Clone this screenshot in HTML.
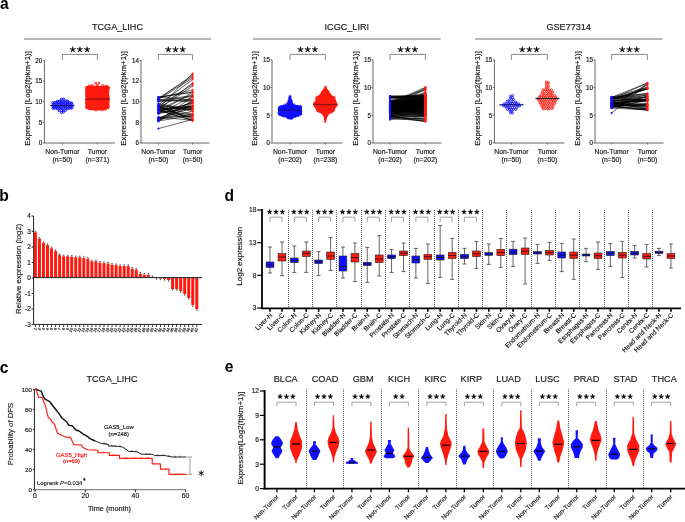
<!DOCTYPE html>
<html><head><meta charset="utf-8"><style>
html,body{margin:0;padding:0;background:#fff;}
svg{display:block;will-change:transform;}
text{font-family:"Liberation Sans", sans-serif;}
</style></head><body>
<svg width="685" height="522" viewBox="0 0 685 522">
<rect width="685" height="522" fill="#fff"/>
<text x="0.00" y="9.20" font-size="15.6" text-anchor="start" fill="#000" font-weight="bold" >a</text>
<text x="-0.80" y="200.80" font-size="15.6" text-anchor="start" fill="#000" font-weight="bold" >b</text>
<text x="-0.30" y="372.50" font-size="15.6" text-anchor="start" fill="#000" font-weight="bold" >c</text>
<text x="224.50" y="200.80" font-size="15.6" text-anchor="start" fill="#000" font-weight="bold" >d</text>
<text x="224.80" y="372.10" font-size="15.6" text-anchor="start" fill="#000" font-weight="bold" >e</text>
<text x="117.50" y="29.80" font-size="9.1" text-anchor="middle" fill="#1c1c1c" font-weight="normal" stroke="#1c1c1c" stroke-width="0.18" >TCGA_LIHC</text>
<line x1="24.00" y1="39.00" x2="211.00" y2="39.00" stroke="#a0a0a0" stroke-width="1.6" />
<text x="346.80" y="29.80" font-size="9.1" text-anchor="middle" fill="#1c1c1c" font-weight="normal" stroke="#1c1c1c" stroke-width="0.18" >ICGC_LIRI</text>
<line x1="253.00" y1="39.00" x2="440.60" y2="39.00" stroke="#a0a0a0" stroke-width="1.6" />
<text x="568.70" y="29.80" font-size="9.1" text-anchor="middle" fill="#1c1c1c" font-weight="normal" stroke="#1c1c1c" stroke-width="0.18" >GSE77314</text>
<line x1="475.00" y1="39.00" x2="662.40" y2="39.00" stroke="#a0a0a0" stroke-width="1.6" />
<line x1="44.40" y1="143.00" x2="44.40" y2="60.40" stroke="#666" stroke-width="1" />
<line x1="42.90" y1="143.00" x2="44.40" y2="143.00" stroke="#666" stroke-width="1" />
<text x="42.30" y="145.40" font-size="6.3" text-anchor="end" fill="#1c1c1c" font-weight="normal" stroke="#1c1c1c" stroke-width="0.18" >0</text>
<line x1="42.90" y1="122.35" x2="44.40" y2="122.35" stroke="#666" stroke-width="1" />
<text x="42.30" y="124.75" font-size="6.3" text-anchor="end" fill="#1c1c1c" font-weight="normal" stroke="#1c1c1c" stroke-width="0.18" >5</text>
<line x1="42.90" y1="101.70" x2="44.40" y2="101.70" stroke="#666" stroke-width="1" />
<text x="42.30" y="104.10" font-size="6.3" text-anchor="end" fill="#1c1c1c" font-weight="normal" stroke="#1c1c1c" stroke-width="0.18" >10</text>
<line x1="42.90" y1="81.05" x2="44.40" y2="81.05" stroke="#666" stroke-width="1" />
<text x="42.30" y="83.45" font-size="6.3" text-anchor="end" fill="#1c1c1c" font-weight="normal" stroke="#1c1c1c" stroke-width="0.18" >15</text>
<line x1="42.90" y1="60.40" x2="44.40" y2="60.40" stroke="#666" stroke-width="1" />
<text x="42.30" y="62.80" font-size="6.3" text-anchor="end" fill="#1c1c1c" font-weight="normal" stroke="#1c1c1c" stroke-width="0.18" >20</text>
<line x1="44.40" y1="143.00" x2="115.00" y2="143.00" stroke="#666" stroke-width="1" />
<line x1="62.40" y1="143.00" x2="62.40" y2="144.50" stroke="#666" stroke-width="1" />
<line x1="97.40" y1="143.00" x2="97.40" y2="144.50" stroke="#666" stroke-width="1" />
<polyline points="62.4,60.0 62.4,54.4 97.4,54.4 97.4,60.0" fill="none" stroke="#888" stroke-width="1"/>
<path d="M72.70,49.50 L72.70,46.95 M72.70,49.50 L75.13,48.71 M72.70,49.50 L74.20,51.56 M72.70,49.50 L71.20,51.56 M72.70,49.50 L70.27,48.71 " stroke="#111" stroke-width="1.15" stroke-linecap="round" fill="none"/>
<circle cx="72.70" cy="49.50" r="0.92" fill="#111"/>
<path d="M79.90,49.50 L79.90,46.95 M79.90,49.50 L82.33,48.71 M79.90,49.50 L81.40,51.56 M79.90,49.50 L78.40,51.56 M79.90,49.50 L77.47,48.71 " stroke="#111" stroke-width="1.15" stroke-linecap="round" fill="none"/>
<circle cx="79.90" cy="49.50" r="0.92" fill="#111"/>
<path d="M87.10,49.50 L87.10,46.95 M87.10,49.50 L89.53,48.71 M87.10,49.50 L88.60,51.56 M87.10,49.50 L85.60,51.56 M87.10,49.50 L84.67,48.71 " stroke="#111" stroke-width="1.15" stroke-linecap="round" fill="none"/>
<circle cx="87.10" cy="49.50" r="0.92" fill="#111"/>
<text x="62.40" y="154.00" font-size="6.8" text-anchor="middle" fill="#1c1c1c" font-weight="normal" stroke="#1c1c1c" stroke-width="0.18" >Non-Tumor</text>
<text x="62.40" y="162.20" font-size="6.8" text-anchor="middle" fill="#1c1c1c" font-weight="normal" stroke="#1c1c1c" stroke-width="0.18" >(n=50)</text>
<text x="97.40" y="154.00" font-size="6.8" text-anchor="middle" fill="#1c1c1c" font-weight="normal" stroke="#1c1c1c" stroke-width="0.18" >Tumor</text>
<text x="97.40" y="162.20" font-size="6.8" text-anchor="middle" fill="#1c1c1c" font-weight="normal" stroke="#1c1c1c" stroke-width="0.18" >(n=371)</text>
<text x="29.90" y="98.40" font-size="7.9" text-anchor="middle" fill="#1c1c1c" font-weight="normal" transform="rotate(-90 29.9 98.4)" stroke="#1c1c1c" stroke-width="0.18" >Expression [Log2(fpkm+1)]</text>
<path d="M65.40,100.50 L67.62,100.82 L69.83,101.13 L72.05,101.45 L72.40,101.77 L72.40,102.08 L72.40,102.40 L72.40,102.72 L72.40,103.03 L72.40,103.35 L72.40,103.67 L72.40,103.98 L72.40,104.30 L72.40,104.62 L72.40,104.93 L72.40,105.25 L72.40,105.57 L72.40,105.88 L72.40,106.20 L72.40,106.52 L72.40,106.83 L72.40,107.15 L72.40,107.47 L72.40,107.78 L72.40,108.10 L72.40,108.42 L72.40,108.73 L72.10,109.05 L70.20,109.37 L68.30,109.68 L66.40,110.00 L58.40,110.00 L56.50,109.68 L54.60,109.37 L52.70,109.05 L52.40,108.73 L52.40,108.42 L52.40,108.10 L52.40,107.78 L52.40,107.47 L52.40,107.15 L52.40,106.83 L52.40,106.52 L52.40,106.20 L52.40,105.88 L52.40,105.57 L52.40,105.25 L52.40,104.93 L52.40,104.62 L52.40,104.30 L52.40,103.98 L52.40,103.67 L52.40,103.35 L52.40,103.03 L52.40,102.72 L52.40,102.40 L52.40,102.08 L52.40,101.77 L52.75,101.45 L54.97,101.13 L57.18,100.82 L59.40,100.50 Z" fill="rgba(0,0,255,0.35)"/>
<g fill="none" stroke="#1010ff" stroke-width="1.0"><circle cx="61.47" cy="99.08" r="1.0"/><circle cx="63.50" cy="98.96" r="1.0"/><circle cx="57.35" cy="101.26" r="1.0"/><circle cx="59.23" cy="101.03" r="1.0"/><circle cx="61.09" cy="101.06" r="1.0"/><circle cx="63.54" cy="101.29" r="1.0"/><circle cx="65.74" cy="100.73" r="1.0"/><circle cx="67.58" cy="101.03" r="1.0"/><circle cx="52.66" cy="102.77" r="1.0"/><circle cx="54.85" cy="102.49" r="1.0"/><circle cx="56.89" cy="103.01" r="1.0"/><circle cx="59.03" cy="102.60" r="1.0"/><circle cx="61.28" cy="103.10" r="1.0"/><circle cx="63.20" cy="102.76" r="1.0"/><circle cx="65.58" cy="103.11" r="1.0"/><circle cx="67.84" cy="103.09" r="1.0"/><circle cx="69.62" cy="102.73" r="1.0"/><circle cx="71.77" cy="103.11" r="1.0"/><circle cx="53.22" cy="104.42" r="1.0"/><circle cx="54.86" cy="104.49" r="1.0"/><circle cx="56.99" cy="104.69" r="1.0"/><circle cx="59.30" cy="104.51" r="1.0"/><circle cx="61.05" cy="104.64" r="1.0"/><circle cx="63.37" cy="104.75" r="1.0"/><circle cx="65.82" cy="104.85" r="1.0"/><circle cx="67.66" cy="104.79" r="1.0"/><circle cx="69.86" cy="104.34" r="1.0"/><circle cx="72.09" cy="104.92" r="1.0"/><circle cx="53.17" cy="106.84" r="1.0"/><circle cx="54.99" cy="106.52" r="1.0"/><circle cx="56.91" cy="106.71" r="1.0"/><circle cx="58.99" cy="106.25" r="1.0"/><circle cx="61.18" cy="106.33" r="1.0"/><circle cx="63.35" cy="106.24" r="1.0"/><circle cx="65.25" cy="106.32" r="1.0"/><circle cx="67.41" cy="106.49" r="1.0"/><circle cx="69.47" cy="106.90" r="1.0"/><circle cx="71.92" cy="106.32" r="1.0"/><circle cx="52.80" cy="108.38" r="1.0"/><circle cx="54.97" cy="108.20" r="1.0"/><circle cx="57.36" cy="108.89" r="1.0"/><circle cx="59.23" cy="108.49" r="1.0"/><circle cx="61.10" cy="108.18" r="1.0"/><circle cx="63.36" cy="108.31" r="1.0"/><circle cx="65.75" cy="108.23" r="1.0"/><circle cx="67.36" cy="108.86" r="1.0"/><circle cx="69.77" cy="108.22" r="1.0"/><circle cx="71.88" cy="108.12" r="1.0"/><circle cx="59.27" cy="110.78" r="1.0"/><circle cx="61.57" cy="110.56" r="1.0"/><circle cx="63.31" cy="110.29" r="1.0"/><circle cx="65.35" cy="110.62" r="1.0"/><circle cx="61.37" cy="112.52" r="1.0"/><circle cx="63.35" cy="112.08" r="1.0"/></g>
<line x1="50.40" y1="105.60" x2="74.40" y2="105.60" stroke="#10107a" stroke-width="1.2" />
<path d="M108.65,86.00 L109.79,86.81 L109.68,87.61 L109.64,88.42 L109.65,89.23 L109.59,90.03 L109.18,90.84 L109.41,91.65 L109.28,92.45 L109.02,93.26 L109.02,94.07 L109.22,94.87 L109.21,95.68 L109.55,96.49 L109.77,97.29 L109.36,98.10 L109.75,98.91 L109.79,99.71 L109.76,100.52 L109.29,101.33 L109.18,102.13 L109.18,102.94 L109.16,103.75 L109.16,104.55 L109.50,105.36 L109.72,106.17 L109.67,106.97 L109.38,107.78 L109.22,108.59 L106.49,109.39 L103.07,110.20 L91.27,110.20 L88.23,109.39 L85.48,108.59 L85.20,107.78 L85.42,106.97 L85.66,106.17 L85.17,105.36 L85.53,104.55 L85.16,103.75 L85.02,102.94 L85.48,102.13 L85.48,101.33 L85.04,100.52 L85.22,99.71 L85.66,98.91 L85.70,98.10 L85.68,97.29 L85.08,96.49 L85.15,95.68 L85.68,94.87 L85.14,94.07 L85.02,93.26 L85.27,92.45 L85.52,91.65 L85.36,90.84 L85.70,90.03 L85.79,89.23 L85.02,88.42 L85.28,87.61 L85.38,86.81 L86.05,86.00 Z" fill="#ff1a10"/>
<g fill="none" stroke="#ff1a10" stroke-width="0.65"><circle cx="105.88" cy="96.50" r="1.0"/><circle cx="90.81" cy="105.99" r="1.0"/><circle cx="92.68" cy="92.09" r="1.0"/><circle cx="99.37" cy="91.82" r="1.0"/><circle cx="95.55" cy="92.28" r="1.0"/><circle cx="106.75" cy="89.17" r="1.0"/><circle cx="96.45" cy="94.56" r="1.0"/><circle cx="106.62" cy="100.12" r="1.0"/><circle cx="98.13" cy="98.14" r="1.0"/><circle cx="86.43" cy="98.67" r="1.0"/><circle cx="90.17" cy="96.65" r="1.0"/><circle cx="103.72" cy="86.10" r="1.0"/><circle cx="96.80" cy="90.17" r="1.0"/><circle cx="98.69" cy="103.55" r="1.0"/><circle cx="103.88" cy="99.44" r="1.0"/><circle cx="98.77" cy="88.57" r="1.0"/><circle cx="96.11" cy="108.08" r="1.0"/><circle cx="97.53" cy="100.82" r="1.0"/><circle cx="101.79" cy="98.39" r="1.0"/><circle cx="107.47" cy="97.57" r="1.0"/><circle cx="105.99" cy="102.92" r="1.0"/><circle cx="92.43" cy="108.80" r="1.0"/><circle cx="89.13" cy="106.33" r="1.0"/><circle cx="91.49" cy="87.76" r="1.0"/><circle cx="101.26" cy="87.77" r="1.0"/><circle cx="106.45" cy="104.97" r="1.0"/><circle cx="102.33" cy="89.74" r="1.0"/><circle cx="89.26" cy="101.98" r="1.0"/><circle cx="108.06" cy="107.36" r="1.0"/><circle cx="107.72" cy="91.31" r="1.0"/><circle cx="101.57" cy="109.95" r="1.0"/><circle cx="93.73" cy="98.48" r="1.0"/><circle cx="86.44" cy="103.48" r="1.0"/><circle cx="96.04" cy="99.41" r="1.0"/><circle cx="93.65" cy="86.44" r="1.0"/><circle cx="108.46" cy="87.56" r="1.0"/><circle cx="108.15" cy="105.08" r="1.0"/><circle cx="88.95" cy="92.54" r="1.0"/><circle cx="87.31" cy="88.16" r="1.0"/><circle cx="95.70" cy="102.65" r="1.0"/><circle cx="104.28" cy="101.35" r="1.0"/><circle cx="105.67" cy="87.61" r="1.0"/><circle cx="91.44" cy="98.75" r="1.0"/><circle cx="89.68" cy="88.65" r="1.0"/><circle cx="92.61" cy="104.38" r="1.0"/><circle cx="86.41" cy="94.40" r="1.0"/><circle cx="86.35" cy="92.06" r="1.0"/><circle cx="88.75" cy="108.62" r="1.0"/><circle cx="95.85" cy="105.82" r="1.0"/><circle cx="105.03" cy="97.98" r="1.0"/><circle cx="108.40" cy="102.64" r="1.0"/><circle cx="104.98" cy="94.29" r="1.0"/><circle cx="100.50" cy="103.10" r="1.0"/><circle cx="93.92" cy="95.79" r="1.0"/><circle cx="101.29" cy="107.07" r="1.0"/><circle cx="98.13" cy="109.54" r="1.0"/><circle cx="94.13" cy="93.49" r="1.0"/><circle cx="95.11" cy="88.17" r="1.0"/><circle cx="91.31" cy="93.36" r="1.0"/><circle cx="100.31" cy="99.52" r="1.0"/><circle cx="101.52" cy="101.15" r="1.0"/><circle cx="103.06" cy="105.30" r="1.0"/><circle cx="87.51" cy="101.96" r="1.0"/><circle cx="90.68" cy="103.65" r="1.0"/><circle cx="91.79" cy="89.57" r="1.0"/><circle cx="92.63" cy="102.35" r="1.0"/><circle cx="103.74" cy="109.67" r="1.0"/><circle cx="96.49" cy="86.42" r="1.0"/><circle cx="92.13" cy="96.88" r="1.0"/><circle cx="90.47" cy="109.06" r="1.0"/><circle cx="97.60" cy="105.85" r="1.0"/><circle cx="93.84" cy="89.41" r="1.0"/><circle cx="107.80" cy="95.04" r="1.0"/><circle cx="104.51" cy="107.40" r="1.0"/><circle cx="102.85" cy="93.21" r="1.0"/><circle cx="88.07" cy="90.66" r="1.0"/><circle cx="97.95" cy="96.02" r="1.0"/><circle cx="86.50" cy="107.12" r="1.0"/><circle cx="86.24" cy="100.55" r="1.0"/><circle cx="99.98" cy="109.21" r="1.0"/><circle cx="94.40" cy="109.47" r="1.0"/><circle cx="103.34" cy="91.36" r="1.0"/><circle cx="107.70" cy="93.14" r="1.0"/><circle cx="86.07" cy="90.10" r="1.0"/><circle cx="105.65" cy="109.15" r="1.0"/><circle cx="93.47" cy="100.70" r="1.0"/><circle cx="87.80" cy="104.93" r="1.0"/><circle cx="98.60" cy="86.82" r="1.0"/><circle cx="92.70" cy="106.35" r="1.0"/><circle cx="98.92" cy="93.56" r="1.0"/><circle cx="101.02" cy="96.30" r="1.0"/><circle cx="95.99" cy="96.81" r="1.0"/><circle cx="88.44" cy="97.45" r="1.0"/><circle cx="89.41" cy="86.82" r="1.0"/><circle cx="89.23" cy="94.35" r="1.0"/><circle cx="102.80" cy="102.87" r="1.0"/><circle cx="103.62" cy="96.56" r="1.0"/><circle cx="91.17" cy="86.03" r="1.0"/><circle cx="103.96" cy="87.96" r="1.0"/><circle cx="89.67" cy="98.64" r="1.0"/><circle cx="100.56" cy="94.55" r="1.0"/><circle cx="91.78" cy="95.10" r="1.0"/><circle cx="104.95" cy="89.40" r="1.0"/><circle cx="107.22" cy="86.28" r="1.0"/><circle cx="98.44" cy="107.43" r="1.0"/><circle cx="90.38" cy="90.58" r="1.0"/><circle cx="95.98" cy="110.13" r="1.0"/><circle cx="106.26" cy="106.98" r="1.0"/><circle cx="99.29" cy="105.64" r="1.0"/><circle cx="88.00" cy="100.07" r="1.0"/></g>
<line x1="85.40" y1="99.00" x2="109.40" y2="99.00" stroke="#901010" stroke-width="1.2" />
<g fill="none" stroke="#ff1a10" stroke-width="0.9"><circle cx="95.50" cy="83.20" r="1.0"/><circle cx="98.80" cy="83.00" r="1.0"/><circle cx="97.20" cy="85.00" r="1.0"/><circle cx="92.00" cy="85.60" r="1.0"/><circle cx="102.50" cy="85.40" r="1.0"/><circle cx="89.00" cy="86.00" r="1.0"/><circle cx="106.00" cy="86.20" r="1.0"/></g>
<line x1="141.00" y1="143.00" x2="141.00" y2="60.40" stroke="#666" stroke-width="1" />
<line x1="139.50" y1="143.00" x2="141.00" y2="143.00" stroke="#666" stroke-width="1" />
<text x="138.90" y="145.40" font-size="6.3" text-anchor="end" fill="#1c1c1c" font-weight="normal" stroke="#1c1c1c" stroke-width="0.18" >6</text>
<line x1="139.50" y1="122.35" x2="141.00" y2="122.35" stroke="#666" stroke-width="1" />
<text x="138.90" y="124.75" font-size="6.3" text-anchor="end" fill="#1c1c1c" font-weight="normal" stroke="#1c1c1c" stroke-width="0.18" >8</text>
<line x1="139.50" y1="101.70" x2="141.00" y2="101.70" stroke="#666" stroke-width="1" />
<text x="138.90" y="104.10" font-size="6.3" text-anchor="end" fill="#1c1c1c" font-weight="normal" stroke="#1c1c1c" stroke-width="0.18" >10</text>
<line x1="139.50" y1="81.05" x2="141.00" y2="81.05" stroke="#666" stroke-width="1" />
<text x="138.90" y="83.45" font-size="6.3" text-anchor="end" fill="#1c1c1c" font-weight="normal" stroke="#1c1c1c" stroke-width="0.18" >12</text>
<line x1="139.50" y1="60.40" x2="141.00" y2="60.40" stroke="#666" stroke-width="1" />
<text x="138.90" y="62.80" font-size="6.3" text-anchor="end" fill="#1c1c1c" font-weight="normal" stroke="#1c1c1c" stroke-width="0.18" >14</text>
<line x1="141.00" y1="143.00" x2="209.60" y2="143.00" stroke="#666" stroke-width="1" />
<line x1="158.40" y1="143.00" x2="158.40" y2="144.50" stroke="#666" stroke-width="1" />
<line x1="192.60" y1="143.00" x2="192.60" y2="144.50" stroke="#666" stroke-width="1" />
<polyline points="158.4,60.0 158.4,54.4 192.6,54.4 192.6,60.0" fill="none" stroke="#888" stroke-width="1"/>
<path d="M168.30,49.50 L168.30,46.95 M168.30,49.50 L170.73,48.71 M168.30,49.50 L169.80,51.56 M168.30,49.50 L166.80,51.56 M168.30,49.50 L165.87,48.71 " stroke="#111" stroke-width="1.15" stroke-linecap="round" fill="none"/>
<circle cx="168.30" cy="49.50" r="0.92" fill="#111"/>
<path d="M175.50,49.50 L175.50,46.95 M175.50,49.50 L177.93,48.71 M175.50,49.50 L177.00,51.56 M175.50,49.50 L174.00,51.56 M175.50,49.50 L173.07,48.71 " stroke="#111" stroke-width="1.15" stroke-linecap="round" fill="none"/>
<circle cx="175.50" cy="49.50" r="0.92" fill="#111"/>
<path d="M182.70,49.50 L182.70,46.95 M182.70,49.50 L185.13,48.71 M182.70,49.50 L184.20,51.56 M182.70,49.50 L181.20,51.56 M182.70,49.50 L180.27,48.71 " stroke="#111" stroke-width="1.15" stroke-linecap="round" fill="none"/>
<circle cx="182.70" cy="49.50" r="0.92" fill="#111"/>
<text x="158.40" y="154.00" font-size="6.8" text-anchor="middle" fill="#1c1c1c" font-weight="normal" stroke="#1c1c1c" stroke-width="0.18" >Non-Tumor</text>
<text x="158.40" y="162.20" font-size="6.8" text-anchor="middle" fill="#1c1c1c" font-weight="normal" stroke="#1c1c1c" stroke-width="0.18" >(n=50)</text>
<text x="192.60" y="154.00" font-size="6.8" text-anchor="middle" fill="#1c1c1c" font-weight="normal" stroke="#1c1c1c" stroke-width="0.18" >Tumor</text>
<text x="192.60" y="162.20" font-size="6.8" text-anchor="middle" fill="#1c1c1c" font-weight="normal" stroke="#1c1c1c" stroke-width="0.18" >(n=50)</text>
<text x="126.50" y="98.40" font-size="7.9" text-anchor="middle" fill="#1c1c1c" font-weight="normal" transform="rotate(-90 126.5 98.4)" stroke="#1c1c1c" stroke-width="0.18" >Expression [Log2(fpkm+1)]</text>
<g stroke="#000" stroke-width="0.6"><line x1="158.4" y1="119.54" x2="192.6" y2="100.59"/><line x1="158.4" y1="117.66" x2="192.6" y2="115.81"/><line x1="158.4" y1="120.49" x2="192.6" y2="97.05"/><line x1="158.4" y1="107.45" x2="192.6" y2="117.95"/><line x1="158.4" y1="97.26" x2="192.6" y2="92.40"/><line x1="158.4" y1="110.84" x2="192.6" y2="105.72"/><line x1="158.4" y1="119.55" x2="192.6" y2="113.90"/><line x1="158.4" y1="110.19" x2="192.6" y2="120.55"/><line x1="158.4" y1="109.68" x2="192.6" y2="106.31"/><line x1="158.4" y1="113.79" x2="192.6" y2="102.53"/><line x1="158.4" y1="105.76" x2="192.6" y2="108.60"/><line x1="158.4" y1="105.60" x2="192.6" y2="119.06"/><line x1="158.4" y1="113.57" x2="192.6" y2="106.55"/><line x1="158.4" y1="99.42" x2="192.6" y2="102.08"/><line x1="158.4" y1="106.82" x2="192.6" y2="107.62"/><line x1="158.4" y1="111.06" x2="192.6" y2="117.04"/><line x1="158.4" y1="120.63" x2="192.6" y2="105.41"/><line x1="158.4" y1="107.78" x2="192.6" y2="109.49"/><line x1="158.4" y1="121.41" x2="192.6" y2="101.16"/><line x1="158.4" y1="109.99" x2="192.6" y2="115.15"/><line x1="158.4" y1="101.18" x2="192.6" y2="100.42"/><line x1="158.4" y1="120.97" x2="192.6" y2="115.45"/><line x1="158.4" y1="109.56" x2="192.6" y2="94.27"/><line x1="158.4" y1="118.92" x2="192.6" y2="111.42"/><line x1="158.4" y1="117.10" x2="192.6" y2="120.31"/><line x1="158.4" y1="118.76" x2="192.6" y2="103.46"/><line x1="158.4" y1="100.83" x2="192.6" y2="99.58"/><line x1="158.4" y1="109.53" x2="192.6" y2="105.94"/><line x1="158.4" y1="101.61" x2="192.6" y2="96.40"/><line x1="158.4" y1="112.44" x2="192.6" y2="108.85"/><line x1="158.4" y1="105.65" x2="192.6" y2="120.41"/><line x1="158.4" y1="112.59" x2="192.6" y2="92.25"/><line x1="158.4" y1="107.08" x2="192.6" y2="114.31"/><line x1="158.4" y1="104.52" x2="192.6" y2="111.44"/><line x1="158.4" y1="97.10" x2="192.6" y2="100.01"/><line x1="158.4" y1="117.63" x2="192.6" y2="108.35"/><line x1="158.4" y1="113.37" x2="192.6" y2="96.82"/><line x1="158.4" y1="109.20" x2="192.6" y2="107.38"/><line x1="158.4" y1="103.52" x2="192.6" y2="110.15"/><line x1="158.4" y1="110.02" x2="192.6" y2="120.51"/><line x1="158.4" y1="111.07" x2="192.6" y2="103.17"/><line x1="158.4" y1="99.98" x2="192.6" y2="95.64"/><line x1="158.4" y1="108.39" x2="192.6" y2="73.50"/><line x1="158.4" y1="98.60" x2="192.6" y2="75.00"/><line x1="158.4" y1="98.50" x2="192.6" y2="76.50"/><line x1="158.4" y1="99.56" x2="192.6" y2="78.00"/><line x1="158.4" y1="104.84" x2="192.6" y2="79.50"/><line x1="158.4" y1="109.35" x2="192.6" y2="83.00"/><line x1="158.4" y1="106.20" x2="192.6" y2="84.50"/><line x1="158.4" y1="109.10" x2="192.6" y2="86.00"/><line x1="158.4" y1="97.93" x2="192.6" y2="90.00"/><line x1="158.4" y1="97.19" x2="192.6" y2="92.00"/><line x1="158.4" y1="128.60" x2="192.6" y2="119.50"/></g>
<g fill="#1010ff"><circle cx="158.4" cy="119.54" r="1.05"/><circle cx="158.4" cy="117.66" r="1.05"/><circle cx="158.4" cy="120.49" r="1.05"/><circle cx="158.4" cy="107.45" r="1.05"/><circle cx="158.4" cy="97.26" r="1.05"/><circle cx="158.4" cy="110.84" r="1.05"/><circle cx="158.4" cy="119.55" r="1.05"/><circle cx="158.4" cy="110.19" r="1.05"/><circle cx="158.4" cy="109.68" r="1.05"/><circle cx="158.4" cy="113.79" r="1.05"/><circle cx="158.4" cy="105.76" r="1.05"/><circle cx="158.4" cy="105.60" r="1.05"/><circle cx="158.4" cy="113.57" r="1.05"/><circle cx="158.4" cy="99.42" r="1.05"/><circle cx="158.4" cy="106.82" r="1.05"/><circle cx="158.4" cy="111.06" r="1.05"/><circle cx="158.4" cy="120.63" r="1.05"/><circle cx="158.4" cy="107.78" r="1.05"/><circle cx="158.4" cy="121.41" r="1.05"/><circle cx="158.4" cy="109.99" r="1.05"/><circle cx="158.4" cy="101.18" r="1.05"/><circle cx="158.4" cy="120.97" r="1.05"/><circle cx="158.4" cy="109.56" r="1.05"/><circle cx="158.4" cy="118.92" r="1.05"/><circle cx="158.4" cy="117.10" r="1.05"/><circle cx="158.4" cy="118.76" r="1.05"/><circle cx="158.4" cy="100.83" r="1.05"/><circle cx="158.4" cy="109.53" r="1.05"/><circle cx="158.4" cy="101.61" r="1.05"/><circle cx="158.4" cy="112.44" r="1.05"/><circle cx="158.4" cy="105.65" r="1.05"/><circle cx="158.4" cy="112.59" r="1.05"/><circle cx="158.4" cy="107.08" r="1.05"/><circle cx="158.4" cy="104.52" r="1.05"/><circle cx="158.4" cy="97.10" r="1.05"/><circle cx="158.4" cy="117.63" r="1.05"/><circle cx="158.4" cy="113.37" r="1.05"/><circle cx="158.4" cy="109.20" r="1.05"/><circle cx="158.4" cy="103.52" r="1.05"/><circle cx="158.4" cy="110.02" r="1.05"/><circle cx="158.4" cy="111.07" r="1.05"/><circle cx="158.4" cy="99.98" r="1.05"/><circle cx="158.4" cy="108.39" r="1.05"/><circle cx="158.4" cy="98.60" r="1.05"/><circle cx="158.4" cy="98.50" r="1.05"/><circle cx="158.4" cy="99.56" r="1.05"/><circle cx="158.4" cy="104.84" r="1.05"/><circle cx="158.4" cy="109.35" r="1.05"/><circle cx="158.4" cy="106.20" r="1.05"/><circle cx="158.4" cy="109.10" r="1.05"/><circle cx="158.4" cy="97.93" r="1.05"/><circle cx="158.4" cy="97.19" r="1.05"/><circle cx="158.4" cy="128.60" r="1.05"/></g>
<g fill="#ff1a10"><circle cx="192.6" cy="100.59" r="1.05"/><circle cx="192.6" cy="115.81" r="1.05"/><circle cx="192.6" cy="97.05" r="1.05"/><circle cx="192.6" cy="117.95" r="1.05"/><circle cx="192.6" cy="92.40" r="1.05"/><circle cx="192.6" cy="105.72" r="1.05"/><circle cx="192.6" cy="113.90" r="1.05"/><circle cx="192.6" cy="120.55" r="1.05"/><circle cx="192.6" cy="106.31" r="1.05"/><circle cx="192.6" cy="102.53" r="1.05"/><circle cx="192.6" cy="108.60" r="1.05"/><circle cx="192.6" cy="119.06" r="1.05"/><circle cx="192.6" cy="106.55" r="1.05"/><circle cx="192.6" cy="102.08" r="1.05"/><circle cx="192.6" cy="107.62" r="1.05"/><circle cx="192.6" cy="117.04" r="1.05"/><circle cx="192.6" cy="105.41" r="1.05"/><circle cx="192.6" cy="109.49" r="1.05"/><circle cx="192.6" cy="101.16" r="1.05"/><circle cx="192.6" cy="115.15" r="1.05"/><circle cx="192.6" cy="100.42" r="1.05"/><circle cx="192.6" cy="115.45" r="1.05"/><circle cx="192.6" cy="94.27" r="1.05"/><circle cx="192.6" cy="111.42" r="1.05"/><circle cx="192.6" cy="120.31" r="1.05"/><circle cx="192.6" cy="103.46" r="1.05"/><circle cx="192.6" cy="99.58" r="1.05"/><circle cx="192.6" cy="105.94" r="1.05"/><circle cx="192.6" cy="96.40" r="1.05"/><circle cx="192.6" cy="108.85" r="1.05"/><circle cx="192.6" cy="120.41" r="1.05"/><circle cx="192.6" cy="92.25" r="1.05"/><circle cx="192.6" cy="114.31" r="1.05"/><circle cx="192.6" cy="111.44" r="1.05"/><circle cx="192.6" cy="100.01" r="1.05"/><circle cx="192.6" cy="108.35" r="1.05"/><circle cx="192.6" cy="96.82" r="1.05"/><circle cx="192.6" cy="107.38" r="1.05"/><circle cx="192.6" cy="110.15" r="1.05"/><circle cx="192.6" cy="120.51" r="1.05"/><circle cx="192.6" cy="103.17" r="1.05"/><circle cx="192.6" cy="95.64" r="1.05"/><circle cx="192.6" cy="73.50" r="1.05"/><circle cx="192.6" cy="75.00" r="1.05"/><circle cx="192.6" cy="76.50" r="1.05"/><circle cx="192.6" cy="78.00" r="1.05"/><circle cx="192.6" cy="79.50" r="1.05"/><circle cx="192.6" cy="83.00" r="1.05"/><circle cx="192.6" cy="84.50" r="1.05"/><circle cx="192.6" cy="86.00" r="1.05"/><circle cx="192.6" cy="90.00" r="1.05"/><circle cx="192.6" cy="92.00" r="1.05"/><circle cx="192.6" cy="119.50" r="1.05"/></g>
<line x1="272.00" y1="143.00" x2="272.00" y2="59.80" stroke="#666" stroke-width="1" />
<line x1="270.50" y1="143.00" x2="272.00" y2="143.00" stroke="#666" stroke-width="1" />
<text x="269.90" y="145.40" font-size="6.3" text-anchor="end" fill="#1c1c1c" font-weight="normal" stroke="#1c1c1c" stroke-width="0.18" >0</text>
<line x1="270.50" y1="115.27" x2="272.00" y2="115.27" stroke="#666" stroke-width="1" />
<text x="269.90" y="117.67" font-size="6.3" text-anchor="end" fill="#1c1c1c" font-weight="normal" stroke="#1c1c1c" stroke-width="0.18" >5</text>
<line x1="270.50" y1="87.53" x2="272.00" y2="87.53" stroke="#666" stroke-width="1" />
<text x="269.90" y="89.93" font-size="6.3" text-anchor="end" fill="#1c1c1c" font-weight="normal" stroke="#1c1c1c" stroke-width="0.18" >10</text>
<line x1="270.50" y1="59.80" x2="272.00" y2="59.80" stroke="#666" stroke-width="1" />
<text x="269.90" y="62.20" font-size="6.3" text-anchor="end" fill="#1c1c1c" font-weight="normal" stroke="#1c1c1c" stroke-width="0.18" >15</text>
<line x1="272.00" y1="143.00" x2="342.40" y2="143.00" stroke="#666" stroke-width="1" />
<line x1="290.00" y1="143.00" x2="290.00" y2="144.50" stroke="#666" stroke-width="1" />
<line x1="325.40" y1="143.00" x2="325.40" y2="144.50" stroke="#666" stroke-width="1" />
<polyline points="290,60.0 290,54.4 325.4,54.4 325.4,60.0" fill="none" stroke="#888" stroke-width="1"/>
<path d="M300.50,49.50 L300.50,46.95 M300.50,49.50 L302.93,48.71 M300.50,49.50 L302.00,51.56 M300.50,49.50 L299.00,51.56 M300.50,49.50 L298.07,48.71 " stroke="#111" stroke-width="1.15" stroke-linecap="round" fill="none"/>
<circle cx="300.50" cy="49.50" r="0.92" fill="#111"/>
<path d="M307.70,49.50 L307.70,46.95 M307.70,49.50 L310.13,48.71 M307.70,49.50 L309.20,51.56 M307.70,49.50 L306.20,51.56 M307.70,49.50 L305.27,48.71 " stroke="#111" stroke-width="1.15" stroke-linecap="round" fill="none"/>
<circle cx="307.70" cy="49.50" r="0.92" fill="#111"/>
<path d="M314.90,49.50 L314.90,46.95 M314.90,49.50 L317.33,48.71 M314.90,49.50 L316.40,51.56 M314.90,49.50 L313.40,51.56 M314.90,49.50 L312.47,48.71 " stroke="#111" stroke-width="1.15" stroke-linecap="round" fill="none"/>
<circle cx="314.90" cy="49.50" r="0.92" fill="#111"/>
<text x="290.00" y="154.00" font-size="6.8" text-anchor="middle" fill="#1c1c1c" font-weight="normal" stroke="#1c1c1c" stroke-width="0.18" >Non-Tumor</text>
<text x="290.00" y="162.20" font-size="6.8" text-anchor="middle" fill="#1c1c1c" font-weight="normal" stroke="#1c1c1c" stroke-width="0.18" >(n=202)</text>
<text x="325.40" y="154.00" font-size="6.8" text-anchor="middle" fill="#1c1c1c" font-weight="normal" stroke="#1c1c1c" stroke-width="0.18" >Tumor</text>
<text x="325.40" y="162.20" font-size="6.8" text-anchor="middle" fill="#1c1c1c" font-weight="normal" stroke="#1c1c1c" stroke-width="0.18" >(n=238)</text>
<text x="257.50" y="98.40" font-size="7.9" text-anchor="middle" fill="#1c1c1c" font-weight="normal" transform="rotate(-90 257.5 98.4)" stroke="#1c1c1c" stroke-width="0.18" >Expression [Log2(fpkm+1)]</text>
<path d="M291.02,95.80 L290.91,96.58 L291.47,97.37 L291.42,98.15 L291.47,98.93 L291.74,99.72 L291.80,100.50 L292.64,101.28 L292.61,102.07 L292.89,102.85 L293.44,103.63 L293.86,104.42 L298.54,105.20 L301.63,105.98 L301.91,106.77 L302.37,107.55 L301.95,108.33 L302.10,109.12 L301.80,109.90 L301.64,110.68 L302.34,111.47 L302.28,112.25 L301.85,113.03 L302.32,113.82 L302.25,114.60 L300.82,115.38 L298.97,116.17 L296.57,116.95 L293.67,117.73 L292.95,118.52 L291.29,119.30 L288.59,119.30 L287.24,118.52 L286.55,117.73 L283.95,116.95 L280.81,116.17 L279.03,115.38 L277.77,114.60 L278.21,113.82 L278.26,113.03 L278.11,112.25 L278.25,111.47 L277.62,110.68 L278.17,109.90 L277.95,109.12 L278.31,108.33 L277.97,107.55 L278.25,106.77 L278.76,105.98 L281.45,105.20 L286.35,104.42 L286.26,103.63 L287.11,102.85 L287.66,102.07 L287.93,101.28 L288.05,100.50 L288.28,99.72 L288.64,98.93 L288.33,98.15 L288.83,97.37 L289.23,96.58 L289.04,95.80 Z" fill="#1010ff"/>
<g fill="none" stroke="#1010ff" stroke-width="0.65"><circle cx="289.59" cy="97.98" r="1.0"/><circle cx="282.35" cy="115.42" r="1.0"/><circle cx="297.32" cy="106.22" r="1.0"/><circle cx="291.40" cy="104.09" r="1.0"/><circle cx="294.12" cy="104.66" r="1.0"/><circle cx="291.42" cy="100.69" r="1.0"/><circle cx="283.78" cy="107.66" r="1.0"/><circle cx="281.86" cy="106.44" r="1.0"/><circle cx="284.55" cy="112.40" r="1.0"/><circle cx="290.99" cy="116.94" r="1.0"/><circle cx="288.29" cy="104.45" r="1.0"/><circle cx="283.45" cy="110.09" r="1.0"/><circle cx="284.02" cy="116.30" r="1.0"/><circle cx="290.97" cy="107.86" r="1.0"/><circle cx="285.69" cy="109.14" r="1.0"/><circle cx="284.50" cy="104.96" r="1.0"/><circle cx="287.94" cy="102.78" r="1.0"/><circle cx="295.22" cy="116.54" r="1.0"/><circle cx="286.61" cy="111.39" r="1.0"/><circle cx="287.18" cy="115.70" r="1.0"/><circle cx="294.85" cy="113.05" r="1.0"/><circle cx="280.56" cy="113.41" r="1.0"/><circle cx="297.50" cy="113.37" r="1.0"/><circle cx="289.60" cy="118.04" r="1.0"/><circle cx="288.92" cy="110.56" r="1.0"/><circle cx="290.25" cy="105.87" r="1.0"/><circle cx="287.58" cy="117.61" r="1.0"/><circle cx="290.17" cy="101.94" r="1.0"/><circle cx="288.75" cy="107.91" r="1.0"/><circle cx="295.94" cy="108.68" r="1.0"/><circle cx="278.79" cy="108.56" r="1.0"/><circle cx="299.92" cy="110.55" r="1.0"/><circle cx="298.19" cy="115.67" r="1.0"/><circle cx="292.92" cy="109.12" r="1.0"/><circle cx="280.43" cy="109.46" r="1.0"/><circle cx="282.33" cy="111.97" r="1.0"/><circle cx="300.22" cy="106.21" r="1.0"/><circle cx="278.66" cy="112.79" r="1.0"/><circle cx="288.30" cy="114.29" r="1.0"/><circle cx="297.43" cy="111.45" r="1.0"/><circle cx="288.76" cy="100.39" r="1.0"/><circle cx="291.50" cy="118.63" r="1.0"/><circle cx="292.49" cy="111.70" r="1.0"/><circle cx="290.06" cy="96.16" r="1.0"/><circle cx="288.31" cy="112.42" r="1.0"/><circle cx="292.93" cy="117.36" r="1.0"/><circle cx="300.22" cy="113.13" r="1.0"/><circle cx="286.34" cy="104.75" r="1.0"/><circle cx="298.51" cy="107.59" r="1.0"/><circle cx="300.42" cy="108.21" r="1.0"/></g>
<line x1="278.00" y1="110.10" x2="302.00" y2="110.10" stroke="#10107a" stroke-width="1.2" />
<path d="M326.59,86.60 L326.42,87.78 L327.43,88.96 L328.38,90.14 L329.24,91.32 L329.95,92.50 L330.63,93.68 L331.41,94.86 L333.11,96.04 L334.76,97.22 L335.37,98.40 L335.63,99.58 L336.19,100.76 L336.65,101.94 L337.03,103.12 L337.61,104.30 L337.59,105.48 L336.75,106.66 L335.67,107.84 L335.03,109.02 L334.89,110.20 L334.48,111.38 L332.18,112.56 L329.08,113.74 L328.12,114.92 L327.76,116.10 L327.04,117.28 L326.64,118.46 L326.31,119.64 L326.15,120.82 L326.08,122.00 L324.89,122.00 L324.84,120.82 L323.99,119.64 L324.09,118.46 L323.78,117.28 L323.37,116.10 L322.69,114.92 L321.86,113.74 L318.61,112.56 L316.40,111.38 L316.10,110.20 L315.47,109.02 L315.20,107.84 L313.71,106.66 L313.53,105.48 L313.06,104.30 L313.55,103.12 L314.63,101.94 L315.22,100.76 L315.41,99.58 L315.28,98.40 L315.98,97.22 L317.36,96.04 L319.55,94.86 L319.99,93.68 L321.41,92.50 L321.87,91.32 L322.32,90.14 L323.60,88.96 L324.20,87.78 L324.98,86.60 Z" fill="#ff1a10"/>
<g fill="none" stroke="#ff1a10" stroke-width="0.65"><circle cx="323.69" cy="92.43" r="1.0"/><circle cx="320.60" cy="111.54" r="1.0"/><circle cx="319.51" cy="100.74" r="1.0"/><circle cx="332.29" cy="107.94" r="1.0"/><circle cx="319.93" cy="109.54" r="1.0"/><circle cx="331.39" cy="112.58" r="1.0"/><circle cx="317.39" cy="107.88" r="1.0"/><circle cx="326.90" cy="115.26" r="1.0"/><circle cx="318.73" cy="98.68" r="1.0"/><circle cx="325.71" cy="93.26" r="1.0"/><circle cx="325.67" cy="117.59" r="1.0"/><circle cx="325.08" cy="119.27" r="1.0"/><circle cx="329.93" cy="98.17" r="1.0"/><circle cx="323.69" cy="109.57" r="1.0"/><circle cx="325.19" cy="88.63" r="1.0"/><circle cx="325.30" cy="98.44" r="1.0"/><circle cx="320.72" cy="107.76" r="1.0"/><circle cx="314.59" cy="103.00" r="1.0"/><circle cx="325.13" cy="121.56" r="1.0"/><circle cx="329.58" cy="108.33" r="1.0"/><circle cx="322.78" cy="113.76" r="1.0"/><circle cx="325.11" cy="115.42" r="1.0"/><circle cx="327.42" cy="105.67" r="1.0"/><circle cx="329.85" cy="111.78" r="1.0"/><circle cx="328.30" cy="113.95" r="1.0"/><circle cx="320.56" cy="102.64" r="1.0"/><circle cx="335.45" cy="105.13" r="1.0"/><circle cx="328.93" cy="103.44" r="1.0"/><circle cx="318.31" cy="106.26" r="1.0"/><circle cx="321.99" cy="92.34" r="1.0"/><circle cx="332.73" cy="98.06" r="1.0"/><circle cx="326.49" cy="90.42" r="1.0"/><circle cx="332.59" cy="100.83" r="1.0"/><circle cx="322.88" cy="94.53" r="1.0"/><circle cx="324.48" cy="95.89" r="1.0"/><circle cx="326.39" cy="113.47" r="1.0"/><circle cx="334.23" cy="97.17" r="1.0"/><circle cx="327.94" cy="92.15" r="1.0"/><circle cx="322.64" cy="96.60" r="1.0"/><circle cx="334.31" cy="103.79" r="1.0"/><circle cx="324.49" cy="107.75" r="1.0"/><circle cx="329.05" cy="94.03" r="1.0"/><circle cx="316.91" cy="97.14" r="1.0"/><circle cx="325.65" cy="86.93" r="1.0"/><circle cx="324.01" cy="90.05" r="1.0"/><circle cx="318.26" cy="110.77" r="1.0"/><circle cx="319.28" cy="104.47" r="1.0"/><circle cx="317.14" cy="101.84" r="1.0"/><circle cx="316.56" cy="104.33" r="1.0"/><circle cx="320.49" cy="96.26" r="1.0"/></g>
<line x1="313.40" y1="104.50" x2="337.40" y2="104.50" stroke="#901010" stroke-width="1.2" />
<line x1="373.00" y1="143.00" x2="373.00" y2="59.80" stroke="#666" stroke-width="1" />
<line x1="371.50" y1="143.00" x2="373.00" y2="143.00" stroke="#666" stroke-width="1" />
<text x="370.90" y="145.40" font-size="6.3" text-anchor="end" fill="#1c1c1c" font-weight="normal" stroke="#1c1c1c" stroke-width="0.18" >0</text>
<line x1="371.50" y1="115.27" x2="373.00" y2="115.27" stroke="#666" stroke-width="1" />
<text x="370.90" y="117.67" font-size="6.3" text-anchor="end" fill="#1c1c1c" font-weight="normal" stroke="#1c1c1c" stroke-width="0.18" >5</text>
<line x1="371.50" y1="87.53" x2="373.00" y2="87.53" stroke="#666" stroke-width="1" />
<text x="370.90" y="89.93" font-size="6.3" text-anchor="end" fill="#1c1c1c" font-weight="normal" stroke="#1c1c1c" stroke-width="0.18" >10</text>
<line x1="371.50" y1="59.80" x2="373.00" y2="59.80" stroke="#666" stroke-width="1" />
<text x="370.90" y="62.20" font-size="6.3" text-anchor="end" fill="#1c1c1c" font-weight="normal" stroke="#1c1c1c" stroke-width="0.18" >15</text>
<line x1="373.00" y1="143.00" x2="441.60" y2="143.00" stroke="#666" stroke-width="1" />
<line x1="390.00" y1="143.00" x2="390.00" y2="144.50" stroke="#666" stroke-width="1" />
<line x1="425.40" y1="143.00" x2="425.40" y2="144.50" stroke="#666" stroke-width="1" />
<polyline points="390,60.0 390,54.4 425.4,54.4 425.4,60.0" fill="none" stroke="#888" stroke-width="1"/>
<path d="M400.50,49.50 L400.50,46.95 M400.50,49.50 L402.93,48.71 M400.50,49.50 L402.00,51.56 M400.50,49.50 L399.00,51.56 M400.50,49.50 L398.07,48.71 " stroke="#111" stroke-width="1.15" stroke-linecap="round" fill="none"/>
<circle cx="400.50" cy="49.50" r="0.92" fill="#111"/>
<path d="M407.70,49.50 L407.70,46.95 M407.70,49.50 L410.13,48.71 M407.70,49.50 L409.20,51.56 M407.70,49.50 L406.20,51.56 M407.70,49.50 L405.27,48.71 " stroke="#111" stroke-width="1.15" stroke-linecap="round" fill="none"/>
<circle cx="407.70" cy="49.50" r="0.92" fill="#111"/>
<path d="M414.90,49.50 L414.90,46.95 M414.90,49.50 L417.33,48.71 M414.90,49.50 L416.40,51.56 M414.90,49.50 L413.40,51.56 M414.90,49.50 L412.47,48.71 " stroke="#111" stroke-width="1.15" stroke-linecap="round" fill="none"/>
<circle cx="414.90" cy="49.50" r="0.92" fill="#111"/>
<text x="390.00" y="154.00" font-size="6.8" text-anchor="middle" fill="#1c1c1c" font-weight="normal" stroke="#1c1c1c" stroke-width="0.18" >Non-Tumor</text>
<text x="390.00" y="162.20" font-size="6.8" text-anchor="middle" fill="#1c1c1c" font-weight="normal" stroke="#1c1c1c" stroke-width="0.18" >(n=202)</text>
<text x="425.40" y="154.00" font-size="6.8" text-anchor="middle" fill="#1c1c1c" font-weight="normal" stroke="#1c1c1c" stroke-width="0.18" >Tumor</text>
<text x="425.40" y="162.20" font-size="6.8" text-anchor="middle" fill="#1c1c1c" font-weight="normal" stroke="#1c1c1c" stroke-width="0.18" >(n=202)</text>
<text x="358.50" y="98.40" font-size="7.9" text-anchor="middle" fill="#1c1c1c" font-weight="normal" transform="rotate(-90 358.5 98.4)" stroke="#1c1c1c" stroke-width="0.18" >Expression [Log2(fpkm+1)]</text>
<g stroke="#000" stroke-width="0.45"><line x1="390" y1="107.81" x2="425.4" y2="107.38"/><line x1="390" y1="114.32" x2="425.4" y2="113.58"/><line x1="390" y1="102.12" x2="425.4" y2="103.45"/><line x1="390" y1="107.48" x2="425.4" y2="105.59"/><line x1="390" y1="104.97" x2="425.4" y2="95.06"/><line x1="390" y1="101.32" x2="425.4" y2="96.93"/><line x1="390" y1="102.27" x2="425.4" y2="87.30"/><line x1="390" y1="114.15" x2="425.4" y2="105.43"/><line x1="390" y1="104.12" x2="425.4" y2="104.47"/><line x1="390" y1="96.20" x2="425.4" y2="100.89"/><line x1="390" y1="103.88" x2="425.4" y2="104.92"/><line x1="390" y1="105.42" x2="425.4" y2="104.56"/><line x1="390" y1="108.56" x2="425.4" y2="106.06"/><line x1="390" y1="98.21" x2="425.4" y2="96.02"/><line x1="390" y1="103.90" x2="425.4" y2="97.96"/><line x1="390" y1="108.21" x2="425.4" y2="109.36"/><line x1="390" y1="115.89" x2="425.4" y2="120.45"/><line x1="390" y1="110.55" x2="425.4" y2="96.29"/><line x1="390" y1="116.06" x2="425.4" y2="116.15"/><line x1="390" y1="104.43" x2="425.4" y2="109.01"/><line x1="390" y1="103.43" x2="425.4" y2="99.48"/><line x1="390" y1="108.23" x2="425.4" y2="105.69"/><line x1="390" y1="107.74" x2="425.4" y2="94.47"/><line x1="390" y1="100.65" x2="425.4" y2="97.68"/><line x1="390" y1="112.02" x2="425.4" y2="109.39"/><line x1="390" y1="101.77" x2="425.4" y2="92.68"/><line x1="390" y1="101.72" x2="425.4" y2="105.20"/><line x1="390" y1="102.73" x2="425.4" y2="104.40"/><line x1="390" y1="101.72" x2="425.4" y2="93.84"/><line x1="390" y1="104.61" x2="425.4" y2="109.07"/><line x1="390" y1="104.23" x2="425.4" y2="100.69"/><line x1="390" y1="104.72" x2="425.4" y2="99.42"/><line x1="390" y1="113.23" x2="425.4" y2="107.35"/><line x1="390" y1="106.81" x2="425.4" y2="97.74"/><line x1="390" y1="104.15" x2="425.4" y2="102.22"/><line x1="390" y1="115.90" x2="425.4" y2="121.50"/><line x1="390" y1="101.41" x2="425.4" y2="97.70"/><line x1="390" y1="98.07" x2="425.4" y2="95.95"/><line x1="390" y1="112.79" x2="425.4" y2="119.31"/><line x1="390" y1="100.38" x2="425.4" y2="99.82"/><line x1="390" y1="113.45" x2="425.4" y2="100.65"/><line x1="390" y1="109.10" x2="425.4" y2="105.40"/><line x1="390" y1="100.37" x2="425.4" y2="104.92"/><line x1="390" y1="109.16" x2="425.4" y2="104.10"/><line x1="390" y1="110.38" x2="425.4" y2="111.32"/><line x1="390" y1="112.12" x2="425.4" y2="112.73"/><line x1="390" y1="110.19" x2="425.4" y2="101.38"/><line x1="390" y1="105.74" x2="425.4" y2="103.93"/><line x1="390" y1="96.20" x2="425.4" y2="105.13"/><line x1="390" y1="105.97" x2="425.4" y2="97.81"/><line x1="390" y1="98.25" x2="425.4" y2="97.08"/><line x1="390" y1="108.17" x2="425.4" y2="102.54"/><line x1="390" y1="105.77" x2="425.4" y2="98.51"/><line x1="390" y1="103.98" x2="425.4" y2="100.96"/><line x1="390" y1="104.55" x2="425.4" y2="105.69"/><line x1="390" y1="107.24" x2="425.4" y2="105.44"/><line x1="390" y1="110.17" x2="425.4" y2="114.49"/><line x1="390" y1="111.22" x2="425.4" y2="109.95"/><line x1="390" y1="107.12" x2="425.4" y2="100.31"/><line x1="390" y1="106.16" x2="425.4" y2="107.32"/><line x1="390" y1="109.21" x2="425.4" y2="104.64"/><line x1="390" y1="100.86" x2="425.4" y2="90.14"/><line x1="390" y1="109.72" x2="425.4" y2="112.73"/><line x1="390" y1="110.00" x2="425.4" y2="100.14"/><line x1="390" y1="106.86" x2="425.4" y2="105.55"/><line x1="390" y1="103.08" x2="425.4" y2="102.44"/><line x1="390" y1="106.93" x2="425.4" y2="99.95"/><line x1="390" y1="101.34" x2="425.4" y2="103.19"/><line x1="390" y1="109.91" x2="425.4" y2="102.66"/><line x1="390" y1="102.56" x2="425.4" y2="104.83"/><line x1="390" y1="111.19" x2="425.4" y2="107.06"/><line x1="390" y1="116.54" x2="425.4" y2="112.48"/><line x1="390" y1="102.34" x2="425.4" y2="105.69"/><line x1="390" y1="106.99" x2="425.4" y2="106.34"/><line x1="390" y1="108.20" x2="425.4" y2="100.34"/><line x1="390" y1="101.64" x2="425.4" y2="98.10"/><line x1="390" y1="115.53" x2="425.4" y2="107.65"/><line x1="390" y1="115.28" x2="425.4" y2="113.96"/><line x1="390" y1="102.04" x2="425.4" y2="100.97"/><line x1="390" y1="111.04" x2="425.4" y2="103.72"/><line x1="390" y1="96.59" x2="425.4" y2="96.00"/><line x1="390" y1="102.06" x2="425.4" y2="101.92"/><line x1="390" y1="97.76" x2="425.4" y2="97.68"/><line x1="390" y1="107.67" x2="425.4" y2="99.60"/><line x1="390" y1="116.03" x2="425.4" y2="115.63"/><line x1="390" y1="99.12" x2="425.4" y2="98.08"/><line x1="390" y1="110.86" x2="425.4" y2="110.99"/><line x1="390" y1="116.98" x2="425.4" y2="119.20"/><line x1="390" y1="109.90" x2="425.4" y2="108.81"/><line x1="390" y1="108.15" x2="425.4" y2="98.56"/><line x1="390" y1="115.82" x2="425.4" y2="116.14"/><line x1="390" y1="106.47" x2="425.4" y2="97.84"/><line x1="390" y1="115.94" x2="425.4" y2="116.28"/><line x1="390" y1="101.66" x2="425.4" y2="102.76"/><line x1="390" y1="118.13" x2="425.4" y2="115.51"/><line x1="390" y1="110.14" x2="425.4" y2="105.42"/><line x1="390" y1="104.64" x2="425.4" y2="107.88"/><line x1="390" y1="119.40" x2="425.4" y2="117.52"/><line x1="390" y1="107.34" x2="425.4" y2="109.08"/><line x1="390" y1="106.37" x2="425.4" y2="107.77"/><line x1="390" y1="112.43" x2="425.4" y2="104.50"/><line x1="390" y1="102.27" x2="425.4" y2="99.38"/><line x1="390" y1="112.45" x2="425.4" y2="111.43"/><line x1="390" y1="114.63" x2="425.4" y2="104.78"/><line x1="390" y1="110.63" x2="425.4" y2="104.81"/><line x1="390" y1="108.53" x2="425.4" y2="107.75"/><line x1="390" y1="102.82" x2="425.4" y2="99.10"/><line x1="390" y1="101.79" x2="425.4" y2="100.71"/><line x1="390" y1="103.46" x2="425.4" y2="98.33"/><line x1="390" y1="109.17" x2="425.4" y2="103.18"/><line x1="390" y1="114.13" x2="425.4" y2="108.23"/><line x1="390" y1="112.53" x2="425.4" y2="111.54"/><line x1="390" y1="102.48" x2="425.4" y2="98.82"/><line x1="390" y1="103.54" x2="425.4" y2="99.11"/><line x1="390" y1="106.55" x2="425.4" y2="113.75"/><line x1="390" y1="105.77" x2="425.4" y2="111.63"/><line x1="390" y1="110.38" x2="425.4" y2="100.92"/><line x1="390" y1="96.20" x2="425.4" y2="97.32"/><line x1="390" y1="97.39" x2="425.4" y2="98.72"/><line x1="390" y1="113.48" x2="425.4" y2="113.06"/><line x1="390" y1="106.88" x2="425.4" y2="103.05"/><line x1="390" y1="109.38" x2="425.4" y2="105.27"/><line x1="390" y1="105.15" x2="425.4" y2="100.68"/><line x1="390" y1="114.24" x2="425.4" y2="108.43"/><line x1="390" y1="110.02" x2="425.4" y2="101.39"/><line x1="390" y1="104.20" x2="425.4" y2="94.38"/><line x1="390" y1="106.95" x2="425.4" y2="108.08"/><line x1="390" y1="109.63" x2="425.4" y2="104.50"/><line x1="390" y1="111.26" x2="425.4" y2="106.91"/><line x1="390" y1="109.98" x2="425.4" y2="108.94"/><line x1="390" y1="110.88" x2="425.4" y2="95.19"/><line x1="390" y1="101.06" x2="425.4" y2="102.68"/><line x1="390" y1="107.43" x2="425.4" y2="116.87"/><line x1="390" y1="106.75" x2="425.4" y2="101.31"/><line x1="390" y1="115.95" x2="425.4" y2="116.41"/><line x1="390" y1="118.10" x2="425.4" y2="118.32"/><line x1="390" y1="106.92" x2="425.4" y2="108.27"/><line x1="390" y1="103.81" x2="425.4" y2="98.93"/><line x1="390" y1="105.05" x2="425.4" y2="101.37"/><line x1="390" y1="112.14" x2="425.4" y2="107.08"/><line x1="390" y1="109.71" x2="425.4" y2="104.56"/><line x1="390" y1="112.70" x2="425.4" y2="95.54"/><line x1="390" y1="106.89" x2="425.4" y2="105.29"/><line x1="390" y1="102.26" x2="425.4" y2="105.15"/><line x1="390" y1="109.15" x2="425.4" y2="113.46"/><line x1="390" y1="113.11" x2="425.4" y2="114.02"/><line x1="390" y1="107.21" x2="425.4" y2="98.93"/><line x1="390" y1="106.83" x2="425.4" y2="101.88"/><line x1="390" y1="109.33" x2="425.4" y2="104.36"/><line x1="390" y1="119.40" x2="425.4" y2="108.41"/><line x1="390" y1="114.24" x2="425.4" y2="109.25"/><line x1="390" y1="106.71" x2="425.4" y2="109.13"/><line x1="390" y1="108.01" x2="425.4" y2="99.07"/><line x1="390" y1="110.20" x2="425.4" y2="106.66"/><line x1="390" y1="97.06" x2="425.4" y2="95.62"/><line x1="390" y1="102.39" x2="425.4" y2="95.94"/><line x1="390" y1="110.56" x2="425.4" y2="109.66"/><line x1="390" y1="106.46" x2="425.4" y2="115.48"/><line x1="390" y1="110.23" x2="425.4" y2="104.47"/><line x1="390" y1="109.26" x2="425.4" y2="106.11"/><line x1="390" y1="96.30" x2="425.4" y2="96.38"/><line x1="390" y1="115.56" x2="425.4" y2="110.30"/><line x1="390" y1="112.71" x2="425.4" y2="111.74"/><line x1="390" y1="104.06" x2="425.4" y2="102.85"/><line x1="390" y1="107.83" x2="425.4" y2="101.89"/><line x1="390" y1="109.09" x2="425.4" y2="102.09"/><line x1="390" y1="114.38" x2="425.4" y2="114.85"/><line x1="390" y1="113.74" x2="425.4" y2="115.18"/><line x1="390" y1="109.75" x2="425.4" y2="100.06"/><line x1="390" y1="106.60" x2="425.4" y2="104.45"/><line x1="390" y1="105.52" x2="425.4" y2="102.81"/><line x1="390" y1="106.23" x2="425.4" y2="101.40"/><line x1="390" y1="103.47" x2="425.4" y2="98.56"/><line x1="390" y1="102.27" x2="425.4" y2="105.52"/><line x1="390" y1="109.73" x2="425.4" y2="110.10"/><line x1="390" y1="112.61" x2="425.4" y2="108.34"/><line x1="390" y1="114.13" x2="425.4" y2="102.27"/><line x1="390" y1="104.90" x2="425.4" y2="102.79"/><line x1="390" y1="117.39" x2="425.4" y2="121.19"/><line x1="390" y1="112.77" x2="425.4" y2="114.60"/><line x1="390" y1="105.32" x2="425.4" y2="102.20"/><line x1="390" y1="104.77" x2="425.4" y2="102.94"/><line x1="390" y1="101.62" x2="425.4" y2="97.68"/><line x1="390" y1="105.55" x2="425.4" y2="105.76"/><line x1="390" y1="104.95" x2="425.4" y2="104.56"/><line x1="390" y1="110.84" x2="425.4" y2="111.26"/><line x1="390" y1="112.49" x2="425.4" y2="105.30"/><line x1="390" y1="108.74" x2="425.4" y2="105.63"/><line x1="390" y1="113.97" x2="425.4" y2="109.25"/><line x1="390" y1="109.82" x2="425.4" y2="100.41"/><line x1="390" y1="106.51" x2="425.4" y2="100.33"/><line x1="390" y1="108.00" x2="425.4" y2="102.32"/><line x1="390" y1="107.88" x2="425.4" y2="106.75"/><line x1="390" y1="102.79" x2="425.4" y2="104.42"/><line x1="390" y1="104.99" x2="425.4" y2="113.65"/><line x1="390" y1="114.24" x2="425.4" y2="115.39"/><line x1="390" y1="108.75" x2="425.4" y2="113.61"/><line x1="390" y1="109.84" x2="425.4" y2="98.87"/><line x1="390" y1="111.82" x2="425.4" y2="110.89"/><line x1="390" y1="96.20" x2="425.4" y2="95.16"/><line x1="390" y1="101.79" x2="425.4" y2="93.58"/><line x1="390" y1="109.99" x2="425.4" y2="102.87"/><line x1="390" y1="104.00" x2="425.4" y2="88.00"/><line x1="390" y1="107.00" x2="425.4" y2="89.00"/><line x1="390" y1="102.00" x2="425.4" y2="90.00"/><line x1="390" y1="109.00" x2="425.4" y2="92.00"/><line x1="390" y1="118.00" x2="425.4" y2="121.30"/><line x1="390" y1="119.00" x2="425.4" y2="120.00"/><line x1="390" y1="105.00" x2="425.4" y2="87.50"/><line x1="390" y1="108.00" x2="425.4" y2="89.00"/><line x1="390" y1="116.00" x2="425.4" y2="121.50"/><line x1="390" y1="117.00" x2="425.4" y2="119.00"/><line x1="390" y1="96.30" x2="425.4" y2="95.00"/><line x1="390" y1="96.50" x2="425.4" y2="97.00"/><line x1="390" y1="97.00" x2="425.4" y2="96.00"/><line x1="390" y1="96.40" x2="425.4" y2="99.00"/></g>
<g fill="#1010ff"><circle cx="390" cy="107.81" r="1.05"/><circle cx="390" cy="114.32" r="1.05"/><circle cx="390" cy="102.12" r="1.05"/><circle cx="390" cy="107.48" r="1.05"/><circle cx="390" cy="104.97" r="1.05"/><circle cx="390" cy="101.32" r="1.05"/><circle cx="390" cy="102.27" r="1.05"/><circle cx="390" cy="114.15" r="1.05"/><circle cx="390" cy="104.12" r="1.05"/><circle cx="390" cy="96.20" r="1.05"/><circle cx="390" cy="103.88" r="1.05"/><circle cx="390" cy="105.42" r="1.05"/><circle cx="390" cy="108.56" r="1.05"/><circle cx="390" cy="98.21" r="1.05"/><circle cx="390" cy="103.90" r="1.05"/><circle cx="390" cy="108.21" r="1.05"/><circle cx="390" cy="115.89" r="1.05"/><circle cx="390" cy="110.55" r="1.05"/><circle cx="390" cy="116.06" r="1.05"/><circle cx="390" cy="104.43" r="1.05"/><circle cx="390" cy="103.43" r="1.05"/><circle cx="390" cy="108.23" r="1.05"/><circle cx="390" cy="107.74" r="1.05"/><circle cx="390" cy="100.65" r="1.05"/><circle cx="390" cy="112.02" r="1.05"/><circle cx="390" cy="101.77" r="1.05"/><circle cx="390" cy="101.72" r="1.05"/><circle cx="390" cy="102.73" r="1.05"/><circle cx="390" cy="101.72" r="1.05"/><circle cx="390" cy="104.61" r="1.05"/><circle cx="390" cy="104.23" r="1.05"/><circle cx="390" cy="104.72" r="1.05"/><circle cx="390" cy="113.23" r="1.05"/><circle cx="390" cy="106.81" r="1.05"/><circle cx="390" cy="104.15" r="1.05"/><circle cx="390" cy="115.90" r="1.05"/><circle cx="390" cy="101.41" r="1.05"/><circle cx="390" cy="98.07" r="1.05"/><circle cx="390" cy="112.79" r="1.05"/><circle cx="390" cy="100.38" r="1.05"/><circle cx="390" cy="113.45" r="1.05"/><circle cx="390" cy="109.10" r="1.05"/><circle cx="390" cy="100.37" r="1.05"/><circle cx="390" cy="109.16" r="1.05"/><circle cx="390" cy="110.38" r="1.05"/><circle cx="390" cy="112.12" r="1.05"/><circle cx="390" cy="110.19" r="1.05"/><circle cx="390" cy="105.74" r="1.05"/><circle cx="390" cy="96.20" r="1.05"/><circle cx="390" cy="105.97" r="1.05"/><circle cx="390" cy="98.25" r="1.05"/><circle cx="390" cy="108.17" r="1.05"/><circle cx="390" cy="105.77" r="1.05"/><circle cx="390" cy="103.98" r="1.05"/><circle cx="390" cy="104.55" r="1.05"/><circle cx="390" cy="107.24" r="1.05"/><circle cx="390" cy="110.17" r="1.05"/><circle cx="390" cy="111.22" r="1.05"/><circle cx="390" cy="107.12" r="1.05"/><circle cx="390" cy="106.16" r="1.05"/><circle cx="390" cy="109.21" r="1.05"/><circle cx="390" cy="100.86" r="1.05"/><circle cx="390" cy="109.72" r="1.05"/><circle cx="390" cy="110.00" r="1.05"/><circle cx="390" cy="106.86" r="1.05"/><circle cx="390" cy="103.08" r="1.05"/><circle cx="390" cy="106.93" r="1.05"/><circle cx="390" cy="101.34" r="1.05"/><circle cx="390" cy="109.91" r="1.05"/><circle cx="390" cy="102.56" r="1.05"/><circle cx="390" cy="111.19" r="1.05"/><circle cx="390" cy="116.54" r="1.05"/><circle cx="390" cy="102.34" r="1.05"/><circle cx="390" cy="106.99" r="1.05"/><circle cx="390" cy="108.20" r="1.05"/><circle cx="390" cy="101.64" r="1.05"/><circle cx="390" cy="115.53" r="1.05"/><circle cx="390" cy="115.28" r="1.05"/><circle cx="390" cy="102.04" r="1.05"/><circle cx="390" cy="111.04" r="1.05"/><circle cx="390" cy="96.59" r="1.05"/><circle cx="390" cy="102.06" r="1.05"/><circle cx="390" cy="97.76" r="1.05"/><circle cx="390" cy="107.67" r="1.05"/><circle cx="390" cy="116.03" r="1.05"/><circle cx="390" cy="99.12" r="1.05"/><circle cx="390" cy="110.86" r="1.05"/><circle cx="390" cy="116.98" r="1.05"/><circle cx="390" cy="109.90" r="1.05"/><circle cx="390" cy="108.15" r="1.05"/><circle cx="390" cy="115.82" r="1.05"/><circle cx="390" cy="106.47" r="1.05"/><circle cx="390" cy="115.94" r="1.05"/><circle cx="390" cy="101.66" r="1.05"/><circle cx="390" cy="118.13" r="1.05"/><circle cx="390" cy="110.14" r="1.05"/><circle cx="390" cy="104.64" r="1.05"/><circle cx="390" cy="119.40" r="1.05"/><circle cx="390" cy="107.34" r="1.05"/><circle cx="390" cy="106.37" r="1.05"/><circle cx="390" cy="112.43" r="1.05"/><circle cx="390" cy="102.27" r="1.05"/><circle cx="390" cy="112.45" r="1.05"/><circle cx="390" cy="114.63" r="1.05"/><circle cx="390" cy="110.63" r="1.05"/><circle cx="390" cy="108.53" r="1.05"/><circle cx="390" cy="102.82" r="1.05"/><circle cx="390" cy="101.79" r="1.05"/><circle cx="390" cy="103.46" r="1.05"/><circle cx="390" cy="109.17" r="1.05"/><circle cx="390" cy="114.13" r="1.05"/><circle cx="390" cy="112.53" r="1.05"/><circle cx="390" cy="102.48" r="1.05"/><circle cx="390" cy="103.54" r="1.05"/><circle cx="390" cy="106.55" r="1.05"/><circle cx="390" cy="105.77" r="1.05"/><circle cx="390" cy="110.38" r="1.05"/><circle cx="390" cy="96.20" r="1.05"/><circle cx="390" cy="97.39" r="1.05"/><circle cx="390" cy="113.48" r="1.05"/><circle cx="390" cy="106.88" r="1.05"/><circle cx="390" cy="109.38" r="1.05"/><circle cx="390" cy="105.15" r="1.05"/><circle cx="390" cy="114.24" r="1.05"/><circle cx="390" cy="110.02" r="1.05"/><circle cx="390" cy="104.20" r="1.05"/><circle cx="390" cy="106.95" r="1.05"/><circle cx="390" cy="109.63" r="1.05"/><circle cx="390" cy="111.26" r="1.05"/><circle cx="390" cy="109.98" r="1.05"/><circle cx="390" cy="110.88" r="1.05"/><circle cx="390" cy="101.06" r="1.05"/><circle cx="390" cy="107.43" r="1.05"/><circle cx="390" cy="106.75" r="1.05"/><circle cx="390" cy="115.95" r="1.05"/><circle cx="390" cy="118.10" r="1.05"/><circle cx="390" cy="106.92" r="1.05"/><circle cx="390" cy="103.81" r="1.05"/><circle cx="390" cy="105.05" r="1.05"/><circle cx="390" cy="112.14" r="1.05"/><circle cx="390" cy="109.71" r="1.05"/><circle cx="390" cy="112.70" r="1.05"/><circle cx="390" cy="106.89" r="1.05"/><circle cx="390" cy="102.26" r="1.05"/><circle cx="390" cy="109.15" r="1.05"/><circle cx="390" cy="113.11" r="1.05"/><circle cx="390" cy="107.21" r="1.05"/><circle cx="390" cy="106.83" r="1.05"/><circle cx="390" cy="109.33" r="1.05"/><circle cx="390" cy="119.40" r="1.05"/><circle cx="390" cy="114.24" r="1.05"/><circle cx="390" cy="106.71" r="1.05"/><circle cx="390" cy="108.01" r="1.05"/><circle cx="390" cy="110.20" r="1.05"/><circle cx="390" cy="97.06" r="1.05"/><circle cx="390" cy="102.39" r="1.05"/><circle cx="390" cy="110.56" r="1.05"/><circle cx="390" cy="106.46" r="1.05"/><circle cx="390" cy="110.23" r="1.05"/><circle cx="390" cy="109.26" r="1.05"/><circle cx="390" cy="96.30" r="1.05"/><circle cx="390" cy="115.56" r="1.05"/><circle cx="390" cy="112.71" r="1.05"/><circle cx="390" cy="104.06" r="1.05"/><circle cx="390" cy="107.83" r="1.05"/><circle cx="390" cy="109.09" r="1.05"/><circle cx="390" cy="114.38" r="1.05"/><circle cx="390" cy="113.74" r="1.05"/><circle cx="390" cy="109.75" r="1.05"/><circle cx="390" cy="106.60" r="1.05"/><circle cx="390" cy="105.52" r="1.05"/><circle cx="390" cy="106.23" r="1.05"/><circle cx="390" cy="103.47" r="1.05"/><circle cx="390" cy="102.27" r="1.05"/><circle cx="390" cy="109.73" r="1.05"/><circle cx="390" cy="112.61" r="1.05"/><circle cx="390" cy="114.13" r="1.05"/><circle cx="390" cy="104.90" r="1.05"/><circle cx="390" cy="117.39" r="1.05"/><circle cx="390" cy="112.77" r="1.05"/><circle cx="390" cy="105.32" r="1.05"/><circle cx="390" cy="104.77" r="1.05"/><circle cx="390" cy="101.62" r="1.05"/><circle cx="390" cy="105.55" r="1.05"/><circle cx="390" cy="104.95" r="1.05"/><circle cx="390" cy="110.84" r="1.05"/><circle cx="390" cy="112.49" r="1.05"/><circle cx="390" cy="108.74" r="1.05"/><circle cx="390" cy="113.97" r="1.05"/><circle cx="390" cy="109.82" r="1.05"/><circle cx="390" cy="106.51" r="1.05"/><circle cx="390" cy="108.00" r="1.05"/><circle cx="390" cy="107.88" r="1.05"/><circle cx="390" cy="102.79" r="1.05"/><circle cx="390" cy="104.99" r="1.05"/><circle cx="390" cy="114.24" r="1.05"/><circle cx="390" cy="108.75" r="1.05"/><circle cx="390" cy="109.84" r="1.05"/><circle cx="390" cy="111.82" r="1.05"/><circle cx="390" cy="96.20" r="1.05"/><circle cx="390" cy="101.79" r="1.05"/><circle cx="390" cy="109.99" r="1.05"/><circle cx="390" cy="104.00" r="1.05"/><circle cx="390" cy="107.00" r="1.05"/><circle cx="390" cy="102.00" r="1.05"/><circle cx="390" cy="109.00" r="1.05"/><circle cx="390" cy="118.00" r="1.05"/><circle cx="390" cy="119.00" r="1.05"/><circle cx="390" cy="105.00" r="1.05"/><circle cx="390" cy="108.00" r="1.05"/><circle cx="390" cy="116.00" r="1.05"/><circle cx="390" cy="117.00" r="1.05"/><circle cx="390" cy="96.30" r="1.05"/><circle cx="390" cy="96.50" r="1.05"/><circle cx="390" cy="97.00" r="1.05"/><circle cx="390" cy="96.40" r="1.05"/></g>
<g fill="#ff1a10"><circle cx="425.4" cy="107.38" r="1.05"/><circle cx="425.4" cy="113.58" r="1.05"/><circle cx="425.4" cy="103.45" r="1.05"/><circle cx="425.4" cy="105.59" r="1.05"/><circle cx="425.4" cy="95.06" r="1.05"/><circle cx="425.4" cy="96.93" r="1.05"/><circle cx="425.4" cy="87.30" r="1.05"/><circle cx="425.4" cy="105.43" r="1.05"/><circle cx="425.4" cy="104.47" r="1.05"/><circle cx="425.4" cy="100.89" r="1.05"/><circle cx="425.4" cy="104.92" r="1.05"/><circle cx="425.4" cy="104.56" r="1.05"/><circle cx="425.4" cy="106.06" r="1.05"/><circle cx="425.4" cy="96.02" r="1.05"/><circle cx="425.4" cy="97.96" r="1.05"/><circle cx="425.4" cy="109.36" r="1.05"/><circle cx="425.4" cy="120.45" r="1.05"/><circle cx="425.4" cy="96.29" r="1.05"/><circle cx="425.4" cy="116.15" r="1.05"/><circle cx="425.4" cy="109.01" r="1.05"/><circle cx="425.4" cy="99.48" r="1.05"/><circle cx="425.4" cy="105.69" r="1.05"/><circle cx="425.4" cy="94.47" r="1.05"/><circle cx="425.4" cy="97.68" r="1.05"/><circle cx="425.4" cy="109.39" r="1.05"/><circle cx="425.4" cy="92.68" r="1.05"/><circle cx="425.4" cy="105.20" r="1.05"/><circle cx="425.4" cy="104.40" r="1.05"/><circle cx="425.4" cy="93.84" r="1.05"/><circle cx="425.4" cy="109.07" r="1.05"/><circle cx="425.4" cy="100.69" r="1.05"/><circle cx="425.4" cy="99.42" r="1.05"/><circle cx="425.4" cy="107.35" r="1.05"/><circle cx="425.4" cy="97.74" r="1.05"/><circle cx="425.4" cy="102.22" r="1.05"/><circle cx="425.4" cy="121.50" r="1.05"/><circle cx="425.4" cy="97.70" r="1.05"/><circle cx="425.4" cy="95.95" r="1.05"/><circle cx="425.4" cy="119.31" r="1.05"/><circle cx="425.4" cy="99.82" r="1.05"/><circle cx="425.4" cy="100.65" r="1.05"/><circle cx="425.4" cy="105.40" r="1.05"/><circle cx="425.4" cy="104.92" r="1.05"/><circle cx="425.4" cy="104.10" r="1.05"/><circle cx="425.4" cy="111.32" r="1.05"/><circle cx="425.4" cy="112.73" r="1.05"/><circle cx="425.4" cy="101.38" r="1.05"/><circle cx="425.4" cy="103.93" r="1.05"/><circle cx="425.4" cy="105.13" r="1.05"/><circle cx="425.4" cy="97.81" r="1.05"/><circle cx="425.4" cy="97.08" r="1.05"/><circle cx="425.4" cy="102.54" r="1.05"/><circle cx="425.4" cy="98.51" r="1.05"/><circle cx="425.4" cy="100.96" r="1.05"/><circle cx="425.4" cy="105.69" r="1.05"/><circle cx="425.4" cy="105.44" r="1.05"/><circle cx="425.4" cy="114.49" r="1.05"/><circle cx="425.4" cy="109.95" r="1.05"/><circle cx="425.4" cy="100.31" r="1.05"/><circle cx="425.4" cy="107.32" r="1.05"/><circle cx="425.4" cy="104.64" r="1.05"/><circle cx="425.4" cy="90.14" r="1.05"/><circle cx="425.4" cy="112.73" r="1.05"/><circle cx="425.4" cy="100.14" r="1.05"/><circle cx="425.4" cy="105.55" r="1.05"/><circle cx="425.4" cy="102.44" r="1.05"/><circle cx="425.4" cy="99.95" r="1.05"/><circle cx="425.4" cy="103.19" r="1.05"/><circle cx="425.4" cy="102.66" r="1.05"/><circle cx="425.4" cy="104.83" r="1.05"/><circle cx="425.4" cy="107.06" r="1.05"/><circle cx="425.4" cy="112.48" r="1.05"/><circle cx="425.4" cy="105.69" r="1.05"/><circle cx="425.4" cy="106.34" r="1.05"/><circle cx="425.4" cy="100.34" r="1.05"/><circle cx="425.4" cy="98.10" r="1.05"/><circle cx="425.4" cy="107.65" r="1.05"/><circle cx="425.4" cy="113.96" r="1.05"/><circle cx="425.4" cy="100.97" r="1.05"/><circle cx="425.4" cy="103.72" r="1.05"/><circle cx="425.4" cy="96.00" r="1.05"/><circle cx="425.4" cy="101.92" r="1.05"/><circle cx="425.4" cy="97.68" r="1.05"/><circle cx="425.4" cy="99.60" r="1.05"/><circle cx="425.4" cy="115.63" r="1.05"/><circle cx="425.4" cy="98.08" r="1.05"/><circle cx="425.4" cy="110.99" r="1.05"/><circle cx="425.4" cy="119.20" r="1.05"/><circle cx="425.4" cy="108.81" r="1.05"/><circle cx="425.4" cy="98.56" r="1.05"/><circle cx="425.4" cy="116.14" r="1.05"/><circle cx="425.4" cy="97.84" r="1.05"/><circle cx="425.4" cy="116.28" r="1.05"/><circle cx="425.4" cy="102.76" r="1.05"/><circle cx="425.4" cy="115.51" r="1.05"/><circle cx="425.4" cy="105.42" r="1.05"/><circle cx="425.4" cy="107.88" r="1.05"/><circle cx="425.4" cy="117.52" r="1.05"/><circle cx="425.4" cy="109.08" r="1.05"/><circle cx="425.4" cy="107.77" r="1.05"/><circle cx="425.4" cy="104.50" r="1.05"/><circle cx="425.4" cy="99.38" r="1.05"/><circle cx="425.4" cy="111.43" r="1.05"/><circle cx="425.4" cy="104.78" r="1.05"/><circle cx="425.4" cy="104.81" r="1.05"/><circle cx="425.4" cy="107.75" r="1.05"/><circle cx="425.4" cy="99.10" r="1.05"/><circle cx="425.4" cy="100.71" r="1.05"/><circle cx="425.4" cy="98.33" r="1.05"/><circle cx="425.4" cy="103.18" r="1.05"/><circle cx="425.4" cy="108.23" r="1.05"/><circle cx="425.4" cy="111.54" r="1.05"/><circle cx="425.4" cy="98.82" r="1.05"/><circle cx="425.4" cy="99.11" r="1.05"/><circle cx="425.4" cy="113.75" r="1.05"/><circle cx="425.4" cy="111.63" r="1.05"/><circle cx="425.4" cy="100.92" r="1.05"/><circle cx="425.4" cy="97.32" r="1.05"/><circle cx="425.4" cy="98.72" r="1.05"/><circle cx="425.4" cy="113.06" r="1.05"/><circle cx="425.4" cy="103.05" r="1.05"/><circle cx="425.4" cy="105.27" r="1.05"/><circle cx="425.4" cy="100.68" r="1.05"/><circle cx="425.4" cy="108.43" r="1.05"/><circle cx="425.4" cy="101.39" r="1.05"/><circle cx="425.4" cy="94.38" r="1.05"/><circle cx="425.4" cy="108.08" r="1.05"/><circle cx="425.4" cy="104.50" r="1.05"/><circle cx="425.4" cy="106.91" r="1.05"/><circle cx="425.4" cy="108.94" r="1.05"/><circle cx="425.4" cy="95.19" r="1.05"/><circle cx="425.4" cy="102.68" r="1.05"/><circle cx="425.4" cy="116.87" r="1.05"/><circle cx="425.4" cy="101.31" r="1.05"/><circle cx="425.4" cy="116.41" r="1.05"/><circle cx="425.4" cy="118.32" r="1.05"/><circle cx="425.4" cy="108.27" r="1.05"/><circle cx="425.4" cy="98.93" r="1.05"/><circle cx="425.4" cy="101.37" r="1.05"/><circle cx="425.4" cy="107.08" r="1.05"/><circle cx="425.4" cy="104.56" r="1.05"/><circle cx="425.4" cy="95.54" r="1.05"/><circle cx="425.4" cy="105.29" r="1.05"/><circle cx="425.4" cy="105.15" r="1.05"/><circle cx="425.4" cy="113.46" r="1.05"/><circle cx="425.4" cy="114.02" r="1.05"/><circle cx="425.4" cy="98.93" r="1.05"/><circle cx="425.4" cy="101.88" r="1.05"/><circle cx="425.4" cy="104.36" r="1.05"/><circle cx="425.4" cy="108.41" r="1.05"/><circle cx="425.4" cy="109.25" r="1.05"/><circle cx="425.4" cy="109.13" r="1.05"/><circle cx="425.4" cy="99.07" r="1.05"/><circle cx="425.4" cy="106.66" r="1.05"/><circle cx="425.4" cy="95.62" r="1.05"/><circle cx="425.4" cy="95.94" r="1.05"/><circle cx="425.4" cy="109.66" r="1.05"/><circle cx="425.4" cy="115.48" r="1.05"/><circle cx="425.4" cy="104.47" r="1.05"/><circle cx="425.4" cy="106.11" r="1.05"/><circle cx="425.4" cy="96.38" r="1.05"/><circle cx="425.4" cy="110.30" r="1.05"/><circle cx="425.4" cy="111.74" r="1.05"/><circle cx="425.4" cy="102.85" r="1.05"/><circle cx="425.4" cy="101.89" r="1.05"/><circle cx="425.4" cy="102.09" r="1.05"/><circle cx="425.4" cy="114.85" r="1.05"/><circle cx="425.4" cy="115.18" r="1.05"/><circle cx="425.4" cy="100.06" r="1.05"/><circle cx="425.4" cy="104.45" r="1.05"/><circle cx="425.4" cy="102.81" r="1.05"/><circle cx="425.4" cy="101.40" r="1.05"/><circle cx="425.4" cy="98.56" r="1.05"/><circle cx="425.4" cy="105.52" r="1.05"/><circle cx="425.4" cy="110.10" r="1.05"/><circle cx="425.4" cy="108.34" r="1.05"/><circle cx="425.4" cy="102.27" r="1.05"/><circle cx="425.4" cy="102.79" r="1.05"/><circle cx="425.4" cy="121.19" r="1.05"/><circle cx="425.4" cy="114.60" r="1.05"/><circle cx="425.4" cy="102.20" r="1.05"/><circle cx="425.4" cy="102.94" r="1.05"/><circle cx="425.4" cy="97.68" r="1.05"/><circle cx="425.4" cy="105.76" r="1.05"/><circle cx="425.4" cy="104.56" r="1.05"/><circle cx="425.4" cy="111.26" r="1.05"/><circle cx="425.4" cy="105.30" r="1.05"/><circle cx="425.4" cy="105.63" r="1.05"/><circle cx="425.4" cy="109.25" r="1.05"/><circle cx="425.4" cy="100.41" r="1.05"/><circle cx="425.4" cy="100.33" r="1.05"/><circle cx="425.4" cy="102.32" r="1.05"/><circle cx="425.4" cy="106.75" r="1.05"/><circle cx="425.4" cy="104.42" r="1.05"/><circle cx="425.4" cy="113.65" r="1.05"/><circle cx="425.4" cy="115.39" r="1.05"/><circle cx="425.4" cy="113.61" r="1.05"/><circle cx="425.4" cy="98.87" r="1.05"/><circle cx="425.4" cy="110.89" r="1.05"/><circle cx="425.4" cy="95.16" r="1.05"/><circle cx="425.4" cy="93.58" r="1.05"/><circle cx="425.4" cy="102.87" r="1.05"/><circle cx="425.4" cy="88.00" r="1.05"/><circle cx="425.4" cy="89.00" r="1.05"/><circle cx="425.4" cy="90.00" r="1.05"/><circle cx="425.4" cy="92.00" r="1.05"/><circle cx="425.4" cy="121.30" r="1.05"/><circle cx="425.4" cy="120.00" r="1.05"/><circle cx="425.4" cy="87.50" r="1.05"/><circle cx="425.4" cy="89.00" r="1.05"/><circle cx="425.4" cy="121.50" r="1.05"/><circle cx="425.4" cy="119.00" r="1.05"/><circle cx="425.4" cy="95.00" r="1.05"/><circle cx="425.4" cy="97.00" r="1.05"/><circle cx="425.4" cy="96.00" r="1.05"/><circle cx="425.4" cy="99.00" r="1.05"/></g>
<line x1="494.40" y1="143.00" x2="494.40" y2="59.80" stroke="#666" stroke-width="1" />
<line x1="492.90" y1="143.00" x2="494.40" y2="143.00" stroke="#666" stroke-width="1" />
<text x="492.30" y="145.40" font-size="6.3" text-anchor="end" fill="#1c1c1c" font-weight="normal" stroke="#1c1c1c" stroke-width="0.18" >0</text>
<line x1="492.90" y1="115.27" x2="494.40" y2="115.27" stroke="#666" stroke-width="1" />
<text x="492.30" y="117.67" font-size="6.3" text-anchor="end" fill="#1c1c1c" font-weight="normal" stroke="#1c1c1c" stroke-width="0.18" >5</text>
<line x1="492.90" y1="87.53" x2="494.40" y2="87.53" stroke="#666" stroke-width="1" />
<text x="492.30" y="89.93" font-size="6.3" text-anchor="end" fill="#1c1c1c" font-weight="normal" stroke="#1c1c1c" stroke-width="0.18" >10</text>
<line x1="492.90" y1="59.80" x2="494.40" y2="59.80" stroke="#666" stroke-width="1" />
<text x="492.30" y="62.20" font-size="6.3" text-anchor="end" fill="#1c1c1c" font-weight="normal" stroke="#1c1c1c" stroke-width="0.18" >15</text>
<line x1="494.40" y1="143.00" x2="564.40" y2="143.00" stroke="#666" stroke-width="1" />
<line x1="511.40" y1="143.00" x2="511.40" y2="144.50" stroke="#666" stroke-width="1" />
<line x1="547.40" y1="143.00" x2="547.40" y2="144.50" stroke="#666" stroke-width="1" />
<polyline points="511.4,60.0 511.4,54.4 547.4,54.4 547.4,60.0" fill="none" stroke="#888" stroke-width="1"/>
<path d="M522.20,49.50 L522.20,46.95 M522.20,49.50 L524.63,48.71 M522.20,49.50 L523.70,51.56 M522.20,49.50 L520.70,51.56 M522.20,49.50 L519.77,48.71 " stroke="#111" stroke-width="1.15" stroke-linecap="round" fill="none"/>
<circle cx="522.20" cy="49.50" r="0.92" fill="#111"/>
<path d="M529.40,49.50 L529.40,46.95 M529.40,49.50 L531.83,48.71 M529.40,49.50 L530.90,51.56 M529.40,49.50 L527.90,51.56 M529.40,49.50 L526.97,48.71 " stroke="#111" stroke-width="1.15" stroke-linecap="round" fill="none"/>
<circle cx="529.40" cy="49.50" r="0.92" fill="#111"/>
<path d="M536.60,49.50 L536.60,46.95 M536.60,49.50 L539.03,48.71 M536.60,49.50 L538.10,51.56 M536.60,49.50 L535.10,51.56 M536.60,49.50 L534.17,48.71 " stroke="#111" stroke-width="1.15" stroke-linecap="round" fill="none"/>
<circle cx="536.60" cy="49.50" r="0.92" fill="#111"/>
<text x="511.40" y="154.00" font-size="6.8" text-anchor="middle" fill="#1c1c1c" font-weight="normal" stroke="#1c1c1c" stroke-width="0.18" >Non-Tumor</text>
<text x="511.40" y="162.20" font-size="6.8" text-anchor="middle" fill="#1c1c1c" font-weight="normal" stroke="#1c1c1c" stroke-width="0.18" >(n=50)</text>
<text x="547.40" y="154.00" font-size="6.8" text-anchor="middle" fill="#1c1c1c" font-weight="normal" stroke="#1c1c1c" stroke-width="0.18" >Tumor</text>
<text x="547.40" y="162.20" font-size="6.8" text-anchor="middle" fill="#1c1c1c" font-weight="normal" stroke="#1c1c1c" stroke-width="0.18" >(n=50)</text>
<text x="479.90" y="98.40" font-size="7.9" text-anchor="middle" fill="#1c1c1c" font-weight="normal" transform="rotate(-90 479.9 98.4)" stroke="#1c1c1c" stroke-width="0.18" >Expression [Log2(fpkm+1)]</text>
<g fill="none" stroke="#1010ff" stroke-width="0.85"><circle cx="510.54" cy="95.97" r="1.0"/><circle cx="512.70" cy="95.61" r="1.0"/><circle cx="510.61" cy="97.83" r="1.0"/><circle cx="512.39" cy="97.57" r="1.0"/><circle cx="509.15" cy="99.99" r="1.0"/><circle cx="511.51" cy="99.52" r="1.0"/><circle cx="513.41" cy="99.51" r="1.0"/><circle cx="507.02" cy="101.48" r="1.0"/><circle cx="509.20" cy="102.08" r="1.0"/><circle cx="511.70" cy="101.93" r="1.0"/><circle cx="513.49" cy="101.70" r="1.0"/><circle cx="515.77" cy="102.03" r="1.0"/><circle cx="504.20" cy="103.71" r="1.0"/><circle cx="505.97" cy="103.70" r="1.0"/><circle cx="508.46" cy="103.83" r="1.0"/><circle cx="510.11" cy="103.77" r="1.0"/><circle cx="512.36" cy="103.33" r="1.0"/><circle cx="514.83" cy="103.74" r="1.0"/><circle cx="516.80" cy="103.31" r="1.0"/><circle cx="518.95" cy="103.95" r="1.0"/><circle cx="503.24" cy="105.70" r="1.0"/><circle cx="505.30" cy="105.74" r="1.0"/><circle cx="507.25" cy="105.45" r="1.0"/><circle cx="509.50" cy="105.73" r="1.0"/><circle cx="511.62" cy="105.34" r="1.0"/><circle cx="513.78" cy="105.53" r="1.0"/><circle cx="515.87" cy="105.19" r="1.0"/><circle cx="517.98" cy="105.73" r="1.0"/><circle cx="519.65" cy="105.77" r="1.0"/><circle cx="505.99" cy="107.16" r="1.0"/><circle cx="508.22" cy="107.19" r="1.0"/><circle cx="510.35" cy="107.73" r="1.0"/><circle cx="512.56" cy="107.57" r="1.0"/><circle cx="514.49" cy="107.63" r="1.0"/><circle cx="516.83" cy="107.55" r="1.0"/><circle cx="507.47" cy="109.56" r="1.0"/><circle cx="509.24" cy="108.97" r="1.0"/><circle cx="511.49" cy="109.57" r="1.0"/><circle cx="513.40" cy="109.38" r="1.0"/><circle cx="515.80" cy="109.53" r="1.0"/><circle cx="510.05" cy="111.19" r="1.0"/><circle cx="512.16" cy="110.89" r="1.0"/><circle cx="510.54" cy="113.03" r="1.0"/><circle cx="512.51" cy="113.07" r="1.0"/></g>
<line x1="499.40" y1="104.80" x2="523.40" y2="104.80" stroke="#10107a" stroke-width="1.2" />
<g fill="none" stroke="#ff1a10" stroke-width="0.85"><circle cx="546.25" cy="81.97" r="1.0"/><circle cx="548.36" cy="82.48" r="1.0"/><circle cx="546.42" cy="83.93" r="1.0"/><circle cx="548.20" cy="83.92" r="1.0"/><circle cx="546.47" cy="85.95" r="1.0"/><circle cx="548.55" cy="86.25" r="1.0"/><circle cx="546.12" cy="88.05" r="1.0"/><circle cx="548.17" cy="88.16" r="1.0"/><circle cx="543.01" cy="89.62" r="1.0"/><circle cx="545.57" cy="89.69" r="1.0"/><circle cx="547.23" cy="90.11" r="1.0"/><circle cx="549.57" cy="90.12" r="1.0"/><circle cx="551.54" cy="89.80" r="1.0"/><circle cx="542.42" cy="91.71" r="1.0"/><circle cx="544.54" cy="91.45" r="1.0"/><circle cx="546.55" cy="91.43" r="1.0"/><circle cx="548.47" cy="91.30" r="1.0"/><circle cx="550.36" cy="92.06" r="1.0"/><circle cx="552.62" cy="91.95" r="1.0"/><circle cx="542.00" cy="93.48" r="1.0"/><circle cx="544.01" cy="93.64" r="1.0"/><circle cx="546.57" cy="93.61" r="1.0"/><circle cx="548.38" cy="93.94" r="1.0"/><circle cx="550.79" cy="93.73" r="1.0"/><circle cx="552.40" cy="93.70" r="1.0"/><circle cx="540.02" cy="95.87" r="1.0"/><circle cx="542.07" cy="95.63" r="1.0"/><circle cx="544.33" cy="95.40" r="1.0"/><circle cx="546.36" cy="95.64" r="1.0"/><circle cx="548.69" cy="95.50" r="1.0"/><circle cx="550.47" cy="95.88" r="1.0"/><circle cx="552.38" cy="95.77" r="1.0"/><circle cx="554.86" cy="95.55" r="1.0"/><circle cx="538.97" cy="97.60" r="1.0"/><circle cx="541.33" cy="97.58" r="1.0"/><circle cx="543.35" cy="97.03" r="1.0"/><circle cx="545.20" cy="97.11" r="1.0"/><circle cx="547.67" cy="97.71" r="1.0"/><circle cx="549.29" cy="97.47" r="1.0"/><circle cx="551.65" cy="97.04" r="1.0"/><circle cx="553.64" cy="97.60" r="1.0"/><circle cx="555.88" cy="97.22" r="1.0"/><circle cx="538.11" cy="99.13" r="1.0"/><circle cx="540.08" cy="99.24" r="1.0"/><circle cx="542.44" cy="99.42" r="1.0"/><circle cx="544.43" cy="99.44" r="1.0"/><circle cx="546.28" cy="99.67" r="1.0"/><circle cx="548.58" cy="99.45" r="1.0"/><circle cx="550.42" cy="99.03" r="1.0"/><circle cx="552.70" cy="99.56" r="1.0"/><circle cx="554.93" cy="99.18" r="1.0"/><circle cx="556.63" cy="99.31" r="1.0"/><circle cx="539.23" cy="100.93" r="1.0"/><circle cx="541.24" cy="100.94" r="1.0"/><circle cx="543.09" cy="100.84" r="1.0"/><circle cx="545.18" cy="101.11" r="1.0"/><circle cx="547.68" cy="101.57" r="1.0"/><circle cx="549.31" cy="101.05" r="1.0"/><circle cx="551.87" cy="100.96" r="1.0"/><circle cx="553.59" cy="101.15" r="1.0"/><circle cx="555.57" cy="101.01" r="1.0"/><circle cx="539.99" cy="103.01" r="1.0"/><circle cx="542.43" cy="102.91" r="1.0"/><circle cx="544.07" cy="103.43" r="1.0"/><circle cx="546.32" cy="103.37" r="1.0"/><circle cx="548.53" cy="103.32" r="1.0"/><circle cx="550.44" cy="102.82" r="1.0"/><circle cx="552.80" cy="103.08" r="1.0"/><circle cx="554.79" cy="103.24" r="1.0"/><circle cx="541.25" cy="104.82" r="1.0"/><circle cx="543.12" cy="105.33" r="1.0"/><circle cx="545.32" cy="104.83" r="1.0"/><circle cx="547.48" cy="104.81" r="1.0"/><circle cx="549.66" cy="104.63" r="1.0"/><circle cx="551.80" cy="105.05" r="1.0"/><circle cx="553.61" cy="105.35" r="1.0"/><circle cx="542.01" cy="106.69" r="1.0"/><circle cx="543.99" cy="106.94" r="1.0"/><circle cx="546.50" cy="107.04" r="1.0"/><circle cx="548.40" cy="107.15" r="1.0"/><circle cx="550.32" cy="106.75" r="1.0"/><circle cx="552.74" cy="107.27" r="1.0"/><circle cx="543.28" cy="108.95" r="1.0"/><circle cx="545.46" cy="108.72" r="1.0"/><circle cx="547.66" cy="108.99" r="1.0"/><circle cx="549.41" cy="108.71" r="1.0"/><circle cx="551.78" cy="108.68" r="1.0"/></g>
<line x1="535.40" y1="98.50" x2="559.40" y2="98.50" stroke="#202020" stroke-width="1.2" />
<line x1="595.00" y1="143.00" x2="595.00" y2="59.80" stroke="#666" stroke-width="1" />
<line x1="593.50" y1="143.00" x2="595.00" y2="143.00" stroke="#666" stroke-width="1" />
<text x="592.90" y="145.40" font-size="6.3" text-anchor="end" fill="#1c1c1c" font-weight="normal" stroke="#1c1c1c" stroke-width="0.18" >0</text>
<line x1="593.50" y1="115.27" x2="595.00" y2="115.27" stroke="#666" stroke-width="1" />
<text x="592.90" y="117.67" font-size="6.3" text-anchor="end" fill="#1c1c1c" font-weight="normal" stroke="#1c1c1c" stroke-width="0.18" >5</text>
<line x1="593.50" y1="87.53" x2="595.00" y2="87.53" stroke="#666" stroke-width="1" />
<text x="592.90" y="89.93" font-size="6.3" text-anchor="end" fill="#1c1c1c" font-weight="normal" stroke="#1c1c1c" stroke-width="0.18" >10</text>
<line x1="593.50" y1="59.80" x2="595.00" y2="59.80" stroke="#666" stroke-width="1" />
<text x="592.90" y="62.20" font-size="6.3" text-anchor="end" fill="#1c1c1c" font-weight="normal" stroke="#1c1c1c" stroke-width="0.18" >15</text>
<line x1="595.00" y1="143.00" x2="663.60" y2="143.00" stroke="#666" stroke-width="1" />
<line x1="611.60" y1="143.00" x2="611.60" y2="144.50" stroke="#666" stroke-width="1" />
<line x1="647.40" y1="143.00" x2="647.40" y2="144.50" stroke="#666" stroke-width="1" />
<polyline points="611.6,60.0 611.6,54.4 647.4,54.4 647.4,60.0" fill="none" stroke="#888" stroke-width="1"/>
<path d="M622.30,49.50 L622.30,46.95 M622.30,49.50 L624.73,48.71 M622.30,49.50 L623.80,51.56 M622.30,49.50 L620.80,51.56 M622.30,49.50 L619.87,48.71 " stroke="#111" stroke-width="1.15" stroke-linecap="round" fill="none"/>
<circle cx="622.30" cy="49.50" r="0.92" fill="#111"/>
<path d="M629.50,49.50 L629.50,46.95 M629.50,49.50 L631.93,48.71 M629.50,49.50 L631.00,51.56 M629.50,49.50 L628.00,51.56 M629.50,49.50 L627.07,48.71 " stroke="#111" stroke-width="1.15" stroke-linecap="round" fill="none"/>
<circle cx="629.50" cy="49.50" r="0.92" fill="#111"/>
<path d="M636.70,49.50 L636.70,46.95 M636.70,49.50 L639.13,48.71 M636.70,49.50 L638.20,51.56 M636.70,49.50 L635.20,51.56 M636.70,49.50 L634.27,48.71 " stroke="#111" stroke-width="1.15" stroke-linecap="round" fill="none"/>
<circle cx="636.70" cy="49.50" r="0.92" fill="#111"/>
<text x="611.60" y="154.00" font-size="6.8" text-anchor="middle" fill="#1c1c1c" font-weight="normal" stroke="#1c1c1c" stroke-width="0.18" >Non-Tumor</text>
<text x="611.60" y="162.20" font-size="6.8" text-anchor="middle" fill="#1c1c1c" font-weight="normal" stroke="#1c1c1c" stroke-width="0.18" >(n=50)</text>
<text x="647.40" y="154.00" font-size="6.8" text-anchor="middle" fill="#1c1c1c" font-weight="normal" stroke="#1c1c1c" stroke-width="0.18" >Tumor</text>
<text x="647.40" y="162.20" font-size="6.8" text-anchor="middle" fill="#1c1c1c" font-weight="normal" stroke="#1c1c1c" stroke-width="0.18" >(n=50)</text>
<text x="580.50" y="98.40" font-size="7.9" text-anchor="middle" fill="#1c1c1c" font-weight="normal" transform="rotate(-90 580.5 98.4)" stroke="#1c1c1c" stroke-width="0.18" >Expression [Log2(fpkm+1)]</text>
<g stroke="#000" stroke-width="0.6"><line x1="611.6" y1="98.73" x2="647.4" y2="88.61"/><line x1="611.6" y1="102.75" x2="647.4" y2="105.09"/><line x1="611.6" y1="104.53" x2="647.4" y2="98.92"/><line x1="611.6" y1="100.56" x2="647.4" y2="99.43"/><line x1="611.6" y1="97.29" x2="647.4" y2="100.35"/><line x1="611.6" y1="106.72" x2="647.4" y2="100.05"/><line x1="611.6" y1="104.51" x2="647.4" y2="106.90"/><line x1="611.6" y1="103.38" x2="647.4" y2="103.25"/><line x1="611.6" y1="99.79" x2="647.4" y2="88.85"/><line x1="611.6" y1="106.56" x2="647.4" y2="110.00"/><line x1="611.6" y1="98.31" x2="647.4" y2="100.07"/><line x1="611.6" y1="102.51" x2="647.4" y2="108.36"/><line x1="611.6" y1="107.28" x2="647.4" y2="96.32"/><line x1="611.6" y1="106.35" x2="647.4" y2="109.22"/><line x1="611.6" y1="104.29" x2="647.4" y2="98.98"/><line x1="611.6" y1="104.95" x2="647.4" y2="104.15"/><line x1="611.6" y1="104.95" x2="647.4" y2="105.61"/><line x1="611.6" y1="97.31" x2="647.4" y2="97.43"/><line x1="611.6" y1="103.74" x2="647.4" y2="98.59"/><line x1="611.6" y1="99.06" x2="647.4" y2="100.34"/><line x1="611.6" y1="99.19" x2="647.4" y2="88.70"/><line x1="611.6" y1="108.20" x2="647.4" y2="100.19"/><line x1="611.6" y1="106.13" x2="647.4" y2="109.04"/><line x1="611.6" y1="97.37" x2="647.4" y2="87.19"/><line x1="611.6" y1="106.56" x2="647.4" y2="103.79"/><line x1="611.6" y1="104.05" x2="647.4" y2="100.61"/><line x1="611.6" y1="98.17" x2="647.4" y2="95.49"/><line x1="611.6" y1="101.85" x2="647.4" y2="96.78"/><line x1="611.6" y1="103.16" x2="647.4" y2="99.56"/><line x1="611.6" y1="106.43" x2="647.4" y2="105.02"/><line x1="611.6" y1="97.83" x2="647.4" y2="93.48"/><line x1="611.6" y1="100.58" x2="647.4" y2="87.24"/><line x1="611.6" y1="100.47" x2="647.4" y2="101.30"/><line x1="611.6" y1="106.02" x2="647.4" y2="104.78"/><line x1="611.6" y1="99.01" x2="647.4" y2="88.19"/><line x1="611.6" y1="102.94" x2="647.4" y2="109.18"/><line x1="611.6" y1="96.87" x2="647.4" y2="93.61"/><line x1="611.6" y1="102.56" x2="647.4" y2="100.97"/><line x1="611.6" y1="101.59" x2="647.4" y2="88.78"/><line x1="611.6" y1="105.19" x2="647.4" y2="98.93"/><line x1="611.6" y1="103.52" x2="647.4" y2="106.34"/><line x1="611.6" y1="103.57" x2="647.4" y2="96.35"/><line x1="611.6" y1="99.22" x2="647.4" y2="83.00"/><line x1="611.6" y1="106.15" x2="647.4" y2="110.00"/><line x1="611.6" y1="108.04" x2="647.4" y2="110.00"/><line x1="611.6" y1="97.36" x2="647.4" y2="83.00"/><line x1="611.6" y1="102.23" x2="647.4" y2="94.83"/><line x1="611.6" y1="104.69" x2="647.4" y2="96.78"/><line x1="611.6" y1="105.00" x2="647.4" y2="107.27"/><line x1="611.6" y1="98.78" x2="647.4" y2="94.24"/><line x1="611.6" y1="113.00" x2="647.4" y2="84.00"/><line x1="611.6" y1="108.00" x2="647.4" y2="83.50"/><line x1="611.6" y1="105.00" x2="647.4" y2="85.00"/></g>
<g fill="#1010ff"><circle cx="611.6" cy="98.73" r="1.05"/><circle cx="611.6" cy="102.75" r="1.05"/><circle cx="611.6" cy="104.53" r="1.05"/><circle cx="611.6" cy="100.56" r="1.05"/><circle cx="611.6" cy="97.29" r="1.05"/><circle cx="611.6" cy="106.72" r="1.05"/><circle cx="611.6" cy="104.51" r="1.05"/><circle cx="611.6" cy="103.38" r="1.05"/><circle cx="611.6" cy="99.79" r="1.05"/><circle cx="611.6" cy="106.56" r="1.05"/><circle cx="611.6" cy="98.31" r="1.05"/><circle cx="611.6" cy="102.51" r="1.05"/><circle cx="611.6" cy="107.28" r="1.05"/><circle cx="611.6" cy="106.35" r="1.05"/><circle cx="611.6" cy="104.29" r="1.05"/><circle cx="611.6" cy="104.95" r="1.05"/><circle cx="611.6" cy="104.95" r="1.05"/><circle cx="611.6" cy="97.31" r="1.05"/><circle cx="611.6" cy="103.74" r="1.05"/><circle cx="611.6" cy="99.06" r="1.05"/><circle cx="611.6" cy="99.19" r="1.05"/><circle cx="611.6" cy="108.20" r="1.05"/><circle cx="611.6" cy="106.13" r="1.05"/><circle cx="611.6" cy="97.37" r="1.05"/><circle cx="611.6" cy="106.56" r="1.05"/><circle cx="611.6" cy="104.05" r="1.05"/><circle cx="611.6" cy="98.17" r="1.05"/><circle cx="611.6" cy="101.85" r="1.05"/><circle cx="611.6" cy="103.16" r="1.05"/><circle cx="611.6" cy="106.43" r="1.05"/><circle cx="611.6" cy="97.83" r="1.05"/><circle cx="611.6" cy="100.58" r="1.05"/><circle cx="611.6" cy="100.47" r="1.05"/><circle cx="611.6" cy="106.02" r="1.05"/><circle cx="611.6" cy="99.01" r="1.05"/><circle cx="611.6" cy="102.94" r="1.05"/><circle cx="611.6" cy="96.87" r="1.05"/><circle cx="611.6" cy="102.56" r="1.05"/><circle cx="611.6" cy="101.59" r="1.05"/><circle cx="611.6" cy="105.19" r="1.05"/><circle cx="611.6" cy="103.52" r="1.05"/><circle cx="611.6" cy="103.57" r="1.05"/><circle cx="611.6" cy="99.22" r="1.05"/><circle cx="611.6" cy="106.15" r="1.05"/><circle cx="611.6" cy="108.04" r="1.05"/><circle cx="611.6" cy="97.36" r="1.05"/><circle cx="611.6" cy="102.23" r="1.05"/><circle cx="611.6" cy="104.69" r="1.05"/><circle cx="611.6" cy="105.00" r="1.05"/><circle cx="611.6" cy="98.78" r="1.05"/><circle cx="611.6" cy="113.00" r="1.05"/><circle cx="611.6" cy="108.00" r="1.05"/><circle cx="611.6" cy="105.00" r="1.05"/></g>
<g fill="#ff1a10"><circle cx="647.4" cy="88.61" r="1.05"/><circle cx="647.4" cy="105.09" r="1.05"/><circle cx="647.4" cy="98.92" r="1.05"/><circle cx="647.4" cy="99.43" r="1.05"/><circle cx="647.4" cy="100.35" r="1.05"/><circle cx="647.4" cy="100.05" r="1.05"/><circle cx="647.4" cy="106.90" r="1.05"/><circle cx="647.4" cy="103.25" r="1.05"/><circle cx="647.4" cy="88.85" r="1.05"/><circle cx="647.4" cy="110.00" r="1.05"/><circle cx="647.4" cy="100.07" r="1.05"/><circle cx="647.4" cy="108.36" r="1.05"/><circle cx="647.4" cy="96.32" r="1.05"/><circle cx="647.4" cy="109.22" r="1.05"/><circle cx="647.4" cy="98.98" r="1.05"/><circle cx="647.4" cy="104.15" r="1.05"/><circle cx="647.4" cy="105.61" r="1.05"/><circle cx="647.4" cy="97.43" r="1.05"/><circle cx="647.4" cy="98.59" r="1.05"/><circle cx="647.4" cy="100.34" r="1.05"/><circle cx="647.4" cy="88.70" r="1.05"/><circle cx="647.4" cy="100.19" r="1.05"/><circle cx="647.4" cy="109.04" r="1.05"/><circle cx="647.4" cy="87.19" r="1.05"/><circle cx="647.4" cy="103.79" r="1.05"/><circle cx="647.4" cy="100.61" r="1.05"/><circle cx="647.4" cy="95.49" r="1.05"/><circle cx="647.4" cy="96.78" r="1.05"/><circle cx="647.4" cy="99.56" r="1.05"/><circle cx="647.4" cy="105.02" r="1.05"/><circle cx="647.4" cy="93.48" r="1.05"/><circle cx="647.4" cy="87.24" r="1.05"/><circle cx="647.4" cy="101.30" r="1.05"/><circle cx="647.4" cy="104.78" r="1.05"/><circle cx="647.4" cy="88.19" r="1.05"/><circle cx="647.4" cy="109.18" r="1.05"/><circle cx="647.4" cy="93.61" r="1.05"/><circle cx="647.4" cy="100.97" r="1.05"/><circle cx="647.4" cy="88.78" r="1.05"/><circle cx="647.4" cy="98.93" r="1.05"/><circle cx="647.4" cy="106.34" r="1.05"/><circle cx="647.4" cy="96.35" r="1.05"/><circle cx="647.4" cy="83.00" r="1.05"/><circle cx="647.4" cy="110.00" r="1.05"/><circle cx="647.4" cy="110.00" r="1.05"/><circle cx="647.4" cy="83.00" r="1.05"/><circle cx="647.4" cy="94.83" r="1.05"/><circle cx="647.4" cy="96.78" r="1.05"/><circle cx="647.4" cy="107.27" r="1.05"/><circle cx="647.4" cy="94.24" r="1.05"/><circle cx="647.4" cy="84.00" r="1.05"/><circle cx="647.4" cy="83.50" r="1.05"/><circle cx="647.4" cy="85.00" r="1.05"/></g>
<line x1="33.60" y1="324.40" x2="33.60" y2="216.00" stroke="#222" stroke-width="1" />
<line x1="31.60" y1="324.40" x2="33.60" y2="324.40" stroke="#222" stroke-width="1" />
<text x="30.70" y="326.80" font-size="6.4" text-anchor="end" fill="#1c1c1c" font-weight="normal" stroke="#1c1c1c" stroke-width="0.18" >-3</text>
<line x1="31.60" y1="308.91" x2="33.60" y2="308.91" stroke="#222" stroke-width="1" />
<text x="30.70" y="311.31" font-size="6.4" text-anchor="end" fill="#1c1c1c" font-weight="normal" stroke="#1c1c1c" stroke-width="0.18" >-2</text>
<line x1="31.60" y1="293.43" x2="33.60" y2="293.43" stroke="#222" stroke-width="1" />
<text x="30.70" y="295.83" font-size="6.4" text-anchor="end" fill="#1c1c1c" font-weight="normal" stroke="#1c1c1c" stroke-width="0.18" >-1</text>
<line x1="31.60" y1="277.94" x2="33.60" y2="277.94" stroke="#222" stroke-width="1" />
<text x="30.70" y="280.34" font-size="6.4" text-anchor="end" fill="#1c1c1c" font-weight="normal" stroke="#1c1c1c" stroke-width="0.18" >0</text>
<line x1="31.60" y1="262.46" x2="33.60" y2="262.46" stroke="#222" stroke-width="1" />
<text x="30.70" y="264.86" font-size="6.4" text-anchor="end" fill="#1c1c1c" font-weight="normal" stroke="#1c1c1c" stroke-width="0.18" >1</text>
<line x1="31.60" y1="246.97" x2="33.60" y2="246.97" stroke="#222" stroke-width="1" />
<text x="30.70" y="249.37" font-size="6.4" text-anchor="end" fill="#1c1c1c" font-weight="normal" stroke="#1c1c1c" stroke-width="0.18" >2</text>
<line x1="31.60" y1="231.49" x2="33.60" y2="231.49" stroke="#222" stroke-width="1" />
<text x="30.70" y="233.89" font-size="6.4" text-anchor="end" fill="#1c1c1c" font-weight="normal" stroke="#1c1c1c" stroke-width="0.18" >3</text>
<line x1="31.60" y1="216.00" x2="33.60" y2="216.00" stroke="#222" stroke-width="1" />
<text x="30.70" y="218.40" font-size="6.4" text-anchor="end" fill="#1c1c1c" font-weight="normal" stroke="#1c1c1c" stroke-width="0.18" >4</text>
<rect x="33.90" y="232.30" width="3" height="45.30" fill="#ff1a10"/>
<line x1="35.40" y1="232.30" x2="35.40" y2="231.10" stroke="#222" stroke-width="0.6" />
<line x1="34.60" y1="231.10" x2="36.20" y2="231.10" stroke="#222" stroke-width="0.6" />
<rect x="37.94" y="238.70" width="3" height="38.90" fill="#ff1a10"/>
<line x1="39.44" y1="238.70" x2="39.44" y2="237.50" stroke="#222" stroke-width="0.6" />
<line x1="38.64" y1="237.50" x2="40.23" y2="237.50" stroke="#222" stroke-width="0.6" />
<rect x="41.97" y="243.10" width="3" height="34.50" fill="#ff1a10"/>
<line x1="43.47" y1="243.10" x2="43.47" y2="241.90" stroke="#222" stroke-width="0.6" />
<line x1="42.67" y1="241.90" x2="44.27" y2="241.90" stroke="#222" stroke-width="0.6" />
<rect x="46.00" y="245.10" width="3" height="32.50" fill="#ff1a10"/>
<line x1="47.50" y1="245.10" x2="47.50" y2="243.90" stroke="#222" stroke-width="0.6" />
<line x1="46.70" y1="243.90" x2="48.30" y2="243.90" stroke="#222" stroke-width="0.6" />
<rect x="50.04" y="248.30" width="3" height="29.30" fill="#ff1a10"/>
<line x1="51.54" y1="248.30" x2="51.54" y2="247.10" stroke="#222" stroke-width="0.6" />
<line x1="50.74" y1="247.10" x2="52.34" y2="247.10" stroke="#222" stroke-width="0.6" />
<rect x="54.08" y="251.10" width="3" height="26.50" fill="#ff1a10"/>
<line x1="55.58" y1="251.10" x2="55.58" y2="249.90" stroke="#222" stroke-width="0.6" />
<line x1="54.78" y1="249.90" x2="56.38" y2="249.90" stroke="#222" stroke-width="0.6" />
<rect x="58.11" y="255.10" width="3" height="22.50" fill="#ff1a10"/>
<line x1="59.61" y1="255.10" x2="59.61" y2="253.90" stroke="#222" stroke-width="0.6" />
<line x1="58.81" y1="253.90" x2="60.41" y2="253.90" stroke="#222" stroke-width="0.6" />
<rect x="62.14" y="256.30" width="3" height="21.30" fill="#ff1a10"/>
<line x1="63.64" y1="256.30" x2="63.64" y2="255.10" stroke="#222" stroke-width="0.6" />
<line x1="62.84" y1="255.10" x2="64.44" y2="255.10" stroke="#222" stroke-width="0.6" />
<rect x="66.18" y="256.30" width="3" height="21.30" fill="#ff1a10"/>
<line x1="67.68" y1="256.30" x2="67.68" y2="255.10" stroke="#222" stroke-width="0.6" />
<line x1="66.88" y1="255.10" x2="68.48" y2="255.10" stroke="#222" stroke-width="0.6" />
<rect x="70.22" y="256.70" width="3" height="20.90" fill="#ff1a10"/>
<line x1="71.72" y1="256.70" x2="71.72" y2="255.50" stroke="#222" stroke-width="0.6" />
<line x1="70.92" y1="255.50" x2="72.52" y2="255.50" stroke="#222" stroke-width="0.6" />
<rect x="74.25" y="257.30" width="3" height="20.30" fill="#ff1a10"/>
<line x1="75.75" y1="257.30" x2="75.75" y2="256.10" stroke="#222" stroke-width="0.6" />
<line x1="74.95" y1="256.10" x2="76.55" y2="256.10" stroke="#222" stroke-width="0.6" />
<rect x="78.28" y="257.30" width="3" height="20.30" fill="#ff1a10"/>
<line x1="79.78" y1="257.30" x2="79.78" y2="256.10" stroke="#222" stroke-width="0.6" />
<line x1="78.98" y1="256.10" x2="80.58" y2="256.10" stroke="#222" stroke-width="0.6" />
<rect x="82.32" y="258.10" width="3" height="19.50" fill="#ff1a10"/>
<line x1="83.82" y1="258.10" x2="83.82" y2="256.90" stroke="#222" stroke-width="0.6" />
<line x1="83.02" y1="256.90" x2="84.62" y2="256.90" stroke="#222" stroke-width="0.6" />
<rect x="86.35" y="258.70" width="3" height="18.90" fill="#ff1a10"/>
<line x1="87.85" y1="258.70" x2="87.85" y2="257.50" stroke="#222" stroke-width="0.6" />
<line x1="87.05" y1="257.50" x2="88.65" y2="257.50" stroke="#222" stroke-width="0.6" />
<rect x="90.39" y="261.30" width="3" height="16.30" fill="#ff1a10"/>
<line x1="91.89" y1="261.30" x2="91.89" y2="260.10" stroke="#222" stroke-width="0.6" />
<line x1="91.09" y1="260.10" x2="92.69" y2="260.10" stroke="#222" stroke-width="0.6" />
<rect x="94.43" y="261.30" width="3" height="16.30" fill="#ff1a10"/>
<line x1="95.93" y1="261.30" x2="95.93" y2="260.10" stroke="#222" stroke-width="0.6" />
<line x1="95.13" y1="260.10" x2="96.73" y2="260.10" stroke="#222" stroke-width="0.6" />
<rect x="98.46" y="262.70" width="3" height="14.90" fill="#ff1a10"/>
<line x1="99.96" y1="262.70" x2="99.96" y2="261.50" stroke="#222" stroke-width="0.6" />
<line x1="99.16" y1="261.50" x2="100.76" y2="261.50" stroke="#222" stroke-width="0.6" />
<rect x="102.50" y="263.10" width="3" height="14.50" fill="#ff1a10"/>
<line x1="104.00" y1="263.10" x2="104.00" y2="261.90" stroke="#222" stroke-width="0.6" />
<line x1="103.20" y1="261.90" x2="104.80" y2="261.90" stroke="#222" stroke-width="0.6" />
<rect x="106.53" y="263.50" width="3" height="14.10" fill="#ff1a10"/>
<line x1="108.03" y1="263.50" x2="108.03" y2="262.30" stroke="#222" stroke-width="0.6" />
<line x1="107.23" y1="262.30" x2="108.83" y2="262.30" stroke="#222" stroke-width="0.6" />
<rect x="110.56" y="264.70" width="3" height="12.90" fill="#ff1a10"/>
<line x1="112.06" y1="264.70" x2="112.06" y2="263.50" stroke="#222" stroke-width="0.6" />
<line x1="111.27" y1="263.50" x2="112.86" y2="263.50" stroke="#222" stroke-width="0.6" />
<rect x="114.60" y="265.10" width="3" height="12.50" fill="#ff1a10"/>
<line x1="116.10" y1="265.10" x2="116.10" y2="263.90" stroke="#222" stroke-width="0.6" />
<line x1="115.30" y1="263.90" x2="116.90" y2="263.90" stroke="#222" stroke-width="0.6" />
<rect x="118.63" y="266.10" width="3" height="11.50" fill="#ff1a10"/>
<line x1="120.13" y1="266.10" x2="120.13" y2="264.90" stroke="#222" stroke-width="0.6" />
<line x1="119.33" y1="264.90" x2="120.93" y2="264.90" stroke="#222" stroke-width="0.6" />
<rect x="122.67" y="266.10" width="3" height="11.50" fill="#ff1a10"/>
<line x1="124.17" y1="266.10" x2="124.17" y2="264.90" stroke="#222" stroke-width="0.6" />
<line x1="123.37" y1="264.90" x2="124.97" y2="264.90" stroke="#222" stroke-width="0.6" />
<rect x="126.71" y="266.10" width="3" height="11.50" fill="#ff1a10"/>
<line x1="128.21" y1="266.10" x2="128.21" y2="264.90" stroke="#222" stroke-width="0.6" />
<line x1="127.41" y1="264.90" x2="129.01" y2="264.90" stroke="#222" stroke-width="0.6" />
<rect x="130.74" y="268.70" width="3" height="8.90" fill="#ff1a10"/>
<line x1="132.24" y1="268.70" x2="132.24" y2="267.50" stroke="#222" stroke-width="0.6" />
<line x1="131.44" y1="267.50" x2="133.04" y2="267.50" stroke="#222" stroke-width="0.6" />
<rect x="134.78" y="269.70" width="3" height="7.90" fill="#ff1a10"/>
<line x1="136.28" y1="269.70" x2="136.28" y2="268.50" stroke="#222" stroke-width="0.6" />
<line x1="135.47" y1="268.50" x2="137.08" y2="268.50" stroke="#222" stroke-width="0.6" />
<rect x="138.81" y="273.70" width="3" height="3.90" fill="#ff1a10"/>
<line x1="140.31" y1="273.70" x2="140.31" y2="272.50" stroke="#222" stroke-width="0.6" />
<line x1="139.51" y1="272.50" x2="141.11" y2="272.50" stroke="#222" stroke-width="0.6" />
<rect x="142.84" y="274.70" width="3" height="2.90" fill="#ff1a10"/>
<line x1="144.34" y1="274.70" x2="144.34" y2="273.50" stroke="#222" stroke-width="0.6" />
<line x1="143.54" y1="273.50" x2="145.15" y2="273.50" stroke="#222" stroke-width="0.6" />
<rect x="146.88" y="274.70" width="3" height="2.90" fill="#ff1a10"/>
<line x1="148.38" y1="274.70" x2="148.38" y2="273.50" stroke="#222" stroke-width="0.6" />
<line x1="147.58" y1="273.50" x2="149.18" y2="273.50" stroke="#222" stroke-width="0.6" />
<rect x="150.91" y="277.00" width="3" height="0.60" fill="#ff1a10"/>
<line x1="152.41" y1="277.00" x2="152.41" y2="275.80" stroke="#222" stroke-width="0.6" />
<line x1="151.61" y1="275.80" x2="153.22" y2="275.80" stroke="#222" stroke-width="0.6" />
<rect x="154.95" y="277.60" width="3" height="0.40" fill="#ff1a10"/>
<line x1="156.45" y1="278.00" x2="156.45" y2="279.20" stroke="#222" stroke-width="0.6" />
<line x1="155.65" y1="279.20" x2="157.25" y2="279.20" stroke="#222" stroke-width="0.6" />
<rect x="158.99" y="277.60" width="3" height="0.80" fill="#ff1a10"/>
<line x1="160.49" y1="278.40" x2="160.49" y2="279.60" stroke="#222" stroke-width="0.6" />
<line x1="159.69" y1="279.60" x2="161.29" y2="279.60" stroke="#222" stroke-width="0.6" />
<rect x="163.02" y="277.60" width="3" height="1.40" fill="#ff1a10"/>
<line x1="164.52" y1="279.00" x2="164.52" y2="280.20" stroke="#222" stroke-width="0.6" />
<line x1="163.72" y1="280.20" x2="165.32" y2="280.20" stroke="#222" stroke-width="0.6" />
<rect x="167.06" y="277.60" width="3" height="2.40" fill="#ff1a10"/>
<line x1="168.56" y1="280.00" x2="168.56" y2="281.20" stroke="#222" stroke-width="0.6" />
<line x1="167.75" y1="281.20" x2="169.36" y2="281.20" stroke="#222" stroke-width="0.6" />
<rect x="171.09" y="277.60" width="3" height="11.40" fill="#ff1a10"/>
<line x1="172.59" y1="289.00" x2="172.59" y2="290.20" stroke="#222" stroke-width="0.6" />
<line x1="171.79" y1="290.20" x2="173.39" y2="290.20" stroke="#222" stroke-width="0.6" />
<rect x="175.12" y="277.60" width="3" height="11.40" fill="#ff1a10"/>
<line x1="176.62" y1="289.00" x2="176.62" y2="290.20" stroke="#222" stroke-width="0.6" />
<line x1="175.82" y1="290.20" x2="177.43" y2="290.20" stroke="#222" stroke-width="0.6" />
<rect x="179.16" y="277.60" width="3" height="13.40" fill="#ff1a10"/>
<line x1="180.66" y1="291.00" x2="180.66" y2="292.20" stroke="#222" stroke-width="0.6" />
<line x1="179.86" y1="292.20" x2="181.46" y2="292.20" stroke="#222" stroke-width="0.6" />
<rect x="183.20" y="277.60" width="3" height="16.40" fill="#ff1a10"/>
<line x1="184.70" y1="294.00" x2="184.70" y2="295.20" stroke="#222" stroke-width="0.6" />
<line x1="183.90" y1="295.20" x2="185.50" y2="295.20" stroke="#222" stroke-width="0.6" />
<rect x="187.23" y="277.60" width="3" height="20.40" fill="#ff1a10"/>
<line x1="188.73" y1="298.00" x2="188.73" y2="299.20" stroke="#222" stroke-width="0.6" />
<line x1="187.93" y1="299.20" x2="189.53" y2="299.20" stroke="#222" stroke-width="0.6" />
<rect x="191.27" y="277.60" width="3" height="27.40" fill="#ff1a10"/>
<line x1="192.77" y1="305.00" x2="192.77" y2="306.20" stroke="#222" stroke-width="0.6" />
<line x1="191.97" y1="306.20" x2="193.57" y2="306.20" stroke="#222" stroke-width="0.6" />
<rect x="195.30" y="277.60" width="3" height="31.40" fill="#ff1a10"/>
<line x1="196.80" y1="309.00" x2="196.80" y2="310.20" stroke="#222" stroke-width="0.6" />
<line x1="196.00" y1="310.20" x2="197.60" y2="310.20" stroke="#222" stroke-width="0.6" />
<line x1="33.60" y1="277.60" x2="202.00" y2="277.60" stroke="#222" stroke-width="1" />
<line x1="33.60" y1="324.40" x2="202.00" y2="324.40" stroke="#222" stroke-width="1" />
<line x1="35.40" y1="324.40" x2="35.40" y2="327.00" stroke="#222" stroke-width="0.9" />
<text x="36.80" y="328.6" font-size="3.8" text-anchor="end" fill="#333" stroke="#333" stroke-width="0.25" transform="rotate(-65 36.80 328.6)">1</text>
<line x1="39.44" y1="324.40" x2="39.44" y2="327.00" stroke="#222" stroke-width="0.9" />
<text x="40.84" y="328.6" font-size="3.8" text-anchor="end" fill="#333" stroke="#333" stroke-width="0.25" transform="rotate(-65 40.84 328.6)">2</text>
<line x1="43.47" y1="324.40" x2="43.47" y2="327.00" stroke="#222" stroke-width="0.9" />
<text x="44.87" y="328.6" font-size="3.8" text-anchor="end" fill="#333" stroke="#333" stroke-width="0.25" transform="rotate(-65 44.87 328.6)">3</text>
<line x1="47.50" y1="324.40" x2="47.50" y2="327.00" stroke="#222" stroke-width="0.9" />
<text x="48.90" y="328.6" font-size="3.8" text-anchor="end" fill="#333" stroke="#333" stroke-width="0.25" transform="rotate(-65 48.90 328.6)">4</text>
<line x1="51.54" y1="324.40" x2="51.54" y2="327.00" stroke="#222" stroke-width="0.9" />
<text x="52.94" y="328.6" font-size="3.8" text-anchor="end" fill="#333" stroke="#333" stroke-width="0.25" transform="rotate(-65 52.94 328.6)">5</text>
<line x1="55.58" y1="324.40" x2="55.58" y2="327.00" stroke="#222" stroke-width="0.9" />
<text x="56.98" y="328.6" font-size="3.8" text-anchor="end" fill="#333" stroke="#333" stroke-width="0.25" transform="rotate(-65 56.98 328.6)">6</text>
<line x1="59.61" y1="324.40" x2="59.61" y2="327.00" stroke="#222" stroke-width="0.9" />
<text x="61.01" y="328.6" font-size="3.8" text-anchor="end" fill="#333" stroke="#333" stroke-width="0.25" transform="rotate(-65 61.01 328.6)">7</text>
<line x1="63.64" y1="324.40" x2="63.64" y2="327.00" stroke="#222" stroke-width="0.9" />
<text x="65.05" y="328.6" font-size="3.8" text-anchor="end" fill="#333" stroke="#333" stroke-width="0.25" transform="rotate(-65 65.05 328.6)">8</text>
<line x1="67.68" y1="324.40" x2="67.68" y2="327.00" stroke="#222" stroke-width="0.9" />
<text x="69.08" y="328.6" font-size="3.8" text-anchor="end" fill="#333" stroke="#333" stroke-width="0.25" transform="rotate(-65 69.08 328.6)">9</text>
<line x1="71.72" y1="324.40" x2="71.72" y2="327.00" stroke="#222" stroke-width="0.9" />
<text x="73.12" y="328.6" font-size="3.8" text-anchor="end" fill="#333" stroke="#333" stroke-width="0.25" transform="rotate(-65 73.12 328.6)">10</text>
<line x1="75.75" y1="324.40" x2="75.75" y2="327.00" stroke="#222" stroke-width="0.9" />
<text x="77.15" y="328.6" font-size="3.8" text-anchor="end" fill="#333" stroke="#333" stroke-width="0.25" transform="rotate(-65 77.15 328.6)">11</text>
<line x1="79.78" y1="324.40" x2="79.78" y2="327.00" stroke="#222" stroke-width="0.9" />
<text x="81.19" y="328.6" font-size="3.8" text-anchor="end" fill="#333" stroke="#333" stroke-width="0.25" transform="rotate(-65 81.19 328.6)">12</text>
<line x1="83.82" y1="324.40" x2="83.82" y2="327.00" stroke="#222" stroke-width="0.9" />
<text x="85.22" y="328.6" font-size="3.8" text-anchor="end" fill="#333" stroke="#333" stroke-width="0.25" transform="rotate(-65 85.22 328.6)">13</text>
<line x1="87.85" y1="324.40" x2="87.85" y2="327.00" stroke="#222" stroke-width="0.9" />
<text x="89.25" y="328.6" font-size="3.8" text-anchor="end" fill="#333" stroke="#333" stroke-width="0.25" transform="rotate(-65 89.25 328.6)">14</text>
<line x1="91.89" y1="324.40" x2="91.89" y2="327.00" stroke="#222" stroke-width="0.9" />
<text x="93.29" y="328.6" font-size="3.8" text-anchor="end" fill="#333" stroke="#333" stroke-width="0.25" transform="rotate(-65 93.29 328.6)">15</text>
<line x1="95.93" y1="324.40" x2="95.93" y2="327.00" stroke="#222" stroke-width="0.9" />
<text x="97.33" y="328.6" font-size="3.8" text-anchor="end" fill="#333" stroke="#333" stroke-width="0.25" transform="rotate(-65 97.33 328.6)">16</text>
<line x1="99.96" y1="324.40" x2="99.96" y2="327.00" stroke="#222" stroke-width="0.9" />
<text x="101.36" y="328.6" font-size="3.8" text-anchor="end" fill="#333" stroke="#333" stroke-width="0.25" transform="rotate(-65 101.36 328.6)">17</text>
<line x1="104.00" y1="324.40" x2="104.00" y2="327.00" stroke="#222" stroke-width="0.9" />
<text x="105.40" y="328.6" font-size="3.8" text-anchor="end" fill="#333" stroke="#333" stroke-width="0.25" transform="rotate(-65 105.40 328.6)">18</text>
<line x1="108.03" y1="324.40" x2="108.03" y2="327.00" stroke="#222" stroke-width="0.9" />
<text x="109.43" y="328.6" font-size="3.8" text-anchor="end" fill="#333" stroke="#333" stroke-width="0.25" transform="rotate(-65 109.43 328.6)">19</text>
<line x1="112.06" y1="324.40" x2="112.06" y2="327.00" stroke="#222" stroke-width="0.9" />
<text x="113.47" y="328.6" font-size="3.8" text-anchor="end" fill="#333" stroke="#333" stroke-width="0.25" transform="rotate(-65 113.47 328.6)">20</text>
<line x1="116.10" y1="324.40" x2="116.10" y2="327.00" stroke="#222" stroke-width="0.9" />
<text x="117.50" y="328.6" font-size="3.8" text-anchor="end" fill="#333" stroke="#333" stroke-width="0.25" transform="rotate(-65 117.50 328.6)">21</text>
<line x1="120.13" y1="324.40" x2="120.13" y2="327.00" stroke="#222" stroke-width="0.9" />
<text x="121.53" y="328.6" font-size="3.8" text-anchor="end" fill="#333" stroke="#333" stroke-width="0.25" transform="rotate(-65 121.53 328.6)">22</text>
<line x1="124.17" y1="324.40" x2="124.17" y2="327.00" stroke="#222" stroke-width="0.9" />
<text x="125.57" y="328.6" font-size="3.8" text-anchor="end" fill="#333" stroke="#333" stroke-width="0.25" transform="rotate(-65 125.57 328.6)">23</text>
<line x1="128.21" y1="324.40" x2="128.21" y2="327.00" stroke="#222" stroke-width="0.9" />
<text x="129.61" y="328.6" font-size="3.8" text-anchor="end" fill="#333" stroke="#333" stroke-width="0.25" transform="rotate(-65 129.61 328.6)">24</text>
<line x1="132.24" y1="324.40" x2="132.24" y2="327.00" stroke="#222" stroke-width="0.9" />
<text x="133.64" y="328.6" font-size="3.8" text-anchor="end" fill="#333" stroke="#333" stroke-width="0.25" transform="rotate(-65 133.64 328.6)">25</text>
<line x1="136.28" y1="324.40" x2="136.28" y2="327.00" stroke="#222" stroke-width="0.9" />
<text x="137.68" y="328.6" font-size="3.8" text-anchor="end" fill="#333" stroke="#333" stroke-width="0.25" transform="rotate(-65 137.68 328.6)">26</text>
<line x1="140.31" y1="324.40" x2="140.31" y2="327.00" stroke="#222" stroke-width="0.9" />
<text x="141.71" y="328.6" font-size="3.8" text-anchor="end" fill="#333" stroke="#333" stroke-width="0.25" transform="rotate(-65 141.71 328.6)">27</text>
<line x1="144.34" y1="324.40" x2="144.34" y2="327.00" stroke="#222" stroke-width="0.9" />
<text x="145.75" y="328.6" font-size="3.8" text-anchor="end" fill="#333" stroke="#333" stroke-width="0.25" transform="rotate(-65 145.75 328.6)">28</text>
<line x1="148.38" y1="324.40" x2="148.38" y2="327.00" stroke="#222" stroke-width="0.9" />
<text x="149.78" y="328.6" font-size="3.8" text-anchor="end" fill="#333" stroke="#333" stroke-width="0.25" transform="rotate(-65 149.78 328.6)">29</text>
<line x1="152.41" y1="324.40" x2="152.41" y2="327.00" stroke="#222" stroke-width="0.9" />
<text x="153.81" y="328.6" font-size="3.8" text-anchor="end" fill="#333" stroke="#333" stroke-width="0.25" transform="rotate(-65 153.81 328.6)">30</text>
<line x1="156.45" y1="324.40" x2="156.45" y2="327.00" stroke="#222" stroke-width="0.9" />
<text x="157.85" y="328.6" font-size="3.8" text-anchor="end" fill="#333" stroke="#333" stroke-width="0.25" transform="rotate(-65 157.85 328.6)">31</text>
<line x1="160.49" y1="324.40" x2="160.49" y2="327.00" stroke="#222" stroke-width="0.9" />
<text x="161.89" y="328.6" font-size="3.8" text-anchor="end" fill="#333" stroke="#333" stroke-width="0.25" transform="rotate(-65 161.89 328.6)">32</text>
<line x1="164.52" y1="324.40" x2="164.52" y2="327.00" stroke="#222" stroke-width="0.9" />
<text x="165.92" y="328.6" font-size="3.8" text-anchor="end" fill="#333" stroke="#333" stroke-width="0.25" transform="rotate(-65 165.92 328.6)">33</text>
<line x1="168.56" y1="324.40" x2="168.56" y2="327.00" stroke="#222" stroke-width="0.9" />
<text x="169.96" y="328.6" font-size="3.8" text-anchor="end" fill="#333" stroke="#333" stroke-width="0.25" transform="rotate(-65 169.96 328.6)">34</text>
<line x1="172.59" y1="324.40" x2="172.59" y2="327.00" stroke="#222" stroke-width="0.9" />
<text x="173.99" y="328.6" font-size="3.8" text-anchor="end" fill="#333" stroke="#333" stroke-width="0.25" transform="rotate(-65 173.99 328.6)">35</text>
<line x1="176.62" y1="324.40" x2="176.62" y2="327.00" stroke="#222" stroke-width="0.9" />
<text x="178.03" y="328.6" font-size="3.8" text-anchor="end" fill="#333" stroke="#333" stroke-width="0.25" transform="rotate(-65 178.03 328.6)">36</text>
<line x1="180.66" y1="324.40" x2="180.66" y2="327.00" stroke="#222" stroke-width="0.9" />
<text x="182.06" y="328.6" font-size="3.8" text-anchor="end" fill="#333" stroke="#333" stroke-width="0.25" transform="rotate(-65 182.06 328.6)">37</text>
<line x1="184.70" y1="324.40" x2="184.70" y2="327.00" stroke="#222" stroke-width="0.9" />
<text x="186.10" y="328.6" font-size="3.8" text-anchor="end" fill="#333" stroke="#333" stroke-width="0.25" transform="rotate(-65 186.10 328.6)">38</text>
<line x1="188.73" y1="324.40" x2="188.73" y2="327.00" stroke="#222" stroke-width="0.9" />
<text x="190.13" y="328.6" font-size="3.8" text-anchor="end" fill="#333" stroke="#333" stroke-width="0.25" transform="rotate(-65 190.13 328.6)">39</text>
<line x1="192.77" y1="324.40" x2="192.77" y2="327.00" stroke="#222" stroke-width="0.9" />
<text x="194.17" y="328.6" font-size="3.8" text-anchor="end" fill="#333" stroke="#333" stroke-width="0.25" transform="rotate(-65 194.17 328.6)">40</text>
<line x1="196.80" y1="324.40" x2="196.80" y2="327.00" stroke="#222" stroke-width="0.9" />
<text x="198.20" y="328.6" font-size="3.8" text-anchor="end" fill="#333" stroke="#333" stroke-width="0.25" transform="rotate(-65 198.20 328.6)">41</text>
<text x="21.00" y="268.80" font-size="7.82" text-anchor="middle" fill="#1c1c1c" font-weight="normal" transform="rotate(-90 21.0 268.8)" stroke="#1c1c1c" stroke-width="0.18" >Relative expression (log2)</text>
<text x="112.00" y="381.90" font-size="9.1" text-anchor="middle" fill="#1c1c1c" font-weight="normal" stroke="#1c1c1c" stroke-width="0.18" >TCGA_LIHC</text>
<line x1="34.40" y1="489.60" x2="34.40" y2="389.60" stroke="#222" stroke-width="1" />
<line x1="32.90" y1="489.60" x2="34.40" y2="489.60" stroke="#222" stroke-width="1" />
<text x="32.00" y="492.00" font-size="6.2" text-anchor="end" fill="#1c1c1c" font-weight="normal" stroke="#1c1c1c" stroke-width="0.18" >0</text>
<line x1="32.90" y1="469.60" x2="34.40" y2="469.60" stroke="#222" stroke-width="1" />
<text x="32.00" y="472.00" font-size="6.2" text-anchor="end" fill="#1c1c1c" font-weight="normal" stroke="#1c1c1c" stroke-width="0.18" >20</text>
<line x1="32.90" y1="449.60" x2="34.40" y2="449.60" stroke="#222" stroke-width="1" />
<text x="32.00" y="452.00" font-size="6.2" text-anchor="end" fill="#1c1c1c" font-weight="normal" stroke="#1c1c1c" stroke-width="0.18" >40</text>
<line x1="32.90" y1="429.60" x2="34.40" y2="429.60" stroke="#222" stroke-width="1" />
<text x="32.00" y="432.00" font-size="6.2" text-anchor="end" fill="#1c1c1c" font-weight="normal" stroke="#1c1c1c" stroke-width="0.18" >60</text>
<line x1="32.90" y1="409.60" x2="34.40" y2="409.60" stroke="#222" stroke-width="1" />
<text x="32.00" y="412.00" font-size="6.2" text-anchor="end" fill="#1c1c1c" font-weight="normal" stroke="#1c1c1c" stroke-width="0.18" >80</text>
<line x1="32.90" y1="389.60" x2="34.40" y2="389.60" stroke="#222" stroke-width="1" />
<text x="32.00" y="392.00" font-size="6.2" text-anchor="end" fill="#1c1c1c" font-weight="normal" stroke="#1c1c1c" stroke-width="0.18" >100</text>
<line x1="34.40" y1="489.60" x2="185.60" y2="489.60" stroke="#888" stroke-width="1.3" />
<line x1="35.00" y1="489.60" x2="35.00" y2="492.20" stroke="#222" stroke-width="1" />
<text x="35.00" y="498.20" font-size="6.8" text-anchor="middle" fill="#1c1c1c" font-weight="normal" stroke="#1c1c1c" stroke-width="0.18" >0</text>
<line x1="85.20" y1="489.60" x2="85.20" y2="492.20" stroke="#222" stroke-width="1" />
<text x="85.20" y="498.20" font-size="6.8" text-anchor="middle" fill="#1c1c1c" font-weight="normal" stroke="#1c1c1c" stroke-width="0.18" >20</text>
<line x1="135.40" y1="489.60" x2="135.40" y2="492.20" stroke="#222" stroke-width="1" />
<text x="135.40" y="498.20" font-size="6.8" text-anchor="middle" fill="#1c1c1c" font-weight="normal" stroke="#1c1c1c" stroke-width="0.18" >40</text>
<line x1="185.60" y1="489.60" x2="185.60" y2="492.20" stroke="#222" stroke-width="1" />
<text x="185.60" y="498.20" font-size="6.8" text-anchor="middle" fill="#1c1c1c" font-weight="normal" stroke="#1c1c1c" stroke-width="0.18" >60</text>
<text x="109.50" y="510.80" font-size="7.3" text-anchor="middle" fill="#1c1c1c" font-weight="normal" stroke="#1c1c1c" stroke-width="0.18" >Time (month)</text>
<text x="13.40" y="434.00" font-size="7.76" text-anchor="middle" fill="#1c1c1c" font-weight="normal" transform="rotate(-90 13.4 434)" stroke="#1c1c1c" stroke-width="0.18" >Probability of DFS</text>
<polyline points="34.40,389.30 36.60,389.30 38.10,390.10 41.20,391.10 43.20,396.20 44.80,398.80 47.30,400.30 49.40,401.30 56.50,410.50 59.10,413.60 61.60,417.70 66.70,421.80 68.80,425.30 72.30,425.90 75.90,430.00 79.00,431.00 82.90,433.80 87.70,436.60 89.50,438.40 95.20,441.00" fill="none" stroke="#111" stroke-width="1.45" stroke-linejoin="round"/>
<polyline points="95.20,441.00 101.10,443.40 108.30,444.40 108.30,446.00 117.50,446.30 122.60,447.00 125.60,449.00 128.70,451.40 134.80,451.60 137.90,452.10 141.00,454.20 153.20,454.40 154.20,455.60 165.00,455.60 172.00,457.00 186.00,457.00" fill="none" stroke="#222" stroke-width="1.0" stroke-linejoin="round"/>
<line x1="104.00" y1="442.50" x2="104.00" y2="444.10" stroke="#222" stroke-width="0.8" />
<line x1="106.00" y1="442.78" x2="106.00" y2="444.38" stroke="#222" stroke-width="0.8" />
<line x1="112.00" y1="444.82" x2="112.00" y2="446.42" stroke="#222" stroke-width="0.8" />
<line x1="115.00" y1="444.92" x2="115.00" y2="446.52" stroke="#222" stroke-width="0.8" />
<line x1="120.00" y1="445.34" x2="120.00" y2="446.94" stroke="#222" stroke-width="0.8" />
<line x1="132.00" y1="450.21" x2="132.00" y2="451.81" stroke="#222" stroke-width="0.8" />
<line x1="136.00" y1="450.49" x2="136.00" y2="452.09" stroke="#222" stroke-width="0.8" />
<line x1="146.00" y1="452.98" x2="146.00" y2="454.58" stroke="#222" stroke-width="0.8" />
<line x1="149.00" y1="453.03" x2="149.00" y2="454.63" stroke="#222" stroke-width="0.8" />
<line x1="158.00" y1="454.30" x2="158.00" y2="455.90" stroke="#222" stroke-width="0.8" />
<line x1="163.00" y1="454.30" x2="163.00" y2="455.90" stroke="#222" stroke-width="0.8" />
<line x1="169.00" y1="455.10" x2="169.00" y2="456.70" stroke="#222" stroke-width="0.8" />
<line x1="175.00" y1="455.70" x2="175.00" y2="457.30" stroke="#222" stroke-width="0.8" />
<line x1="180.00" y1="455.70" x2="180.00" y2="457.30" stroke="#222" stroke-width="0.8" />
<polyline points="34.60,389.50 36.10,389.60 38.60,397.30 42.20,397.80 45.30,405.40 48.30,417.70 50.40,418.70 52.40,422.80 54.00,423.30 57.50,433.00 61.10,435.00 65.70,437.10 70.80,437.60 71.20,439.00 73.70,444.60 81.60,445.00 82.90,447.60 87.50,449.80 98.00,450.20 98.00,452.70 109.30,452.70 109.30,455.40 119.50,455.40 119.50,458.40 152.20,458.40 152.20,463.80 160.40,463.80 160.40,469.10 169.00,469.10 169.00,474.40 186.00,474.40" fill="none" stroke="#ff1a10" stroke-width="1.15" stroke-linejoin="round"/>
<line x1="103.00" y1="451.40" x2="103.00" y2="453.00" stroke="#ff1a10" stroke-width="0.8" />
<line x1="113.00" y1="454.10" x2="113.00" y2="455.70" stroke="#ff1a10" stroke-width="0.8" />
<line x1="125.00" y1="457.10" x2="125.00" y2="458.70" stroke="#ff1a10" stroke-width="0.8" />
<line x1="127.00" y1="457.10" x2="127.00" y2="458.70" stroke="#ff1a10" stroke-width="0.8" />
<line x1="134.00" y1="457.10" x2="134.00" y2="458.70" stroke="#ff1a10" stroke-width="0.8" />
<line x1="141.00" y1="457.10" x2="141.00" y2="458.70" stroke="#ff1a10" stroke-width="0.8" />
<line x1="148.00" y1="457.10" x2="148.00" y2="458.70" stroke="#ff1a10" stroke-width="0.8" />
<line x1="166.00" y1="467.80" x2="166.00" y2="469.40" stroke="#ff1a10" stroke-width="0.8" />
<line x1="176.00" y1="473.10" x2="176.00" y2="474.70" stroke="#ff1a10" stroke-width="0.8" />
<line x1="181.00" y1="473.10" x2="181.00" y2="474.70" stroke="#ff1a10" stroke-width="0.8" />
<line x1="186.00" y1="457.00" x2="192.00" y2="457.00" stroke="#999" stroke-width="0.9" />
<line x1="190.00" y1="457.00" x2="190.00" y2="474.40" stroke="#999" stroke-width="0.9" />
<line x1="186.00" y1="474.40" x2="192.00" y2="474.40" stroke="#999" stroke-width="0.9" />
<path d="M201.20,470.30 L201.20,476.10 M203.71,471.75 L198.69,474.65 M203.71,474.65 L198.69,471.75 " stroke="#111" stroke-width="0.9" fill="none"/>
<text x="118.80" y="429.00" font-size="5.9" text-anchor="middle" fill="#1c1c1c" font-weight="normal" stroke="#1c1c1c" stroke-width="0.18" >GAS5_Low</text>
<text x="118.80" y="435.80" font-size="5.9" text-anchor="middle" fill="#1c1c1c" font-weight="normal" stroke="#1c1c1c" stroke-width="0.18" >(n=248)</text>
<text x="71.50" y="456.60" font-size="5.9" text-anchor="middle" fill="#ff1a10" font-weight="normal" stroke="#ff1a10" stroke-width="0.18" >GAS5_High</text>
<text x="71.50" y="463.20" font-size="5.9" text-anchor="middle" fill="#ff1a10" font-weight="normal" stroke="#ff1a10" stroke-width="0.18" >(n=69)</text>
<text x="37" y="484.6" font-size="5.95" fill="#1c1c1c" stroke="#1c1c1c" stroke-width="0.12">Logrank <tspan font-style="italic">P</tspan>=0.034</text>
<path d="M84.30,477.90 L84.30,480.90 M85.60,478.65 L83.00,480.15 M85.60,480.15 L83.00,478.65 " stroke="#111" stroke-width="0.7" fill="none"/>
<line x1="262.00" y1="209.00" x2="262.00" y2="309.00" stroke="#000" stroke-width="1.8" />
<line x1="257.20" y1="308.00" x2="262.00" y2="308.00" stroke="#000" stroke-width="1.2" />
<text x="256.40" y="310.40" font-size="6.6" text-anchor="end" fill="#1c1c1c" font-weight="normal" stroke="#1c1c1c" stroke-width="0.18" >3</text>
<line x1="257.20" y1="275.33" x2="262.00" y2="275.33" stroke="#000" stroke-width="1.2" />
<text x="256.40" y="277.73" font-size="6.6" text-anchor="end" fill="#1c1c1c" font-weight="normal" stroke="#1c1c1c" stroke-width="0.18" >8</text>
<line x1="257.20" y1="242.67" x2="262.00" y2="242.67" stroke="#000" stroke-width="1.2" />
<text x="256.40" y="245.07" font-size="6.6" text-anchor="end" fill="#1c1c1c" font-weight="normal" stroke="#1c1c1c" stroke-width="0.18" >13</text>
<line x1="257.20" y1="210.00" x2="262.00" y2="210.00" stroke="#000" stroke-width="1.2" />
<text x="256.40" y="212.40" font-size="6.6" text-anchor="end" fill="#1c1c1c" font-weight="normal" stroke="#1c1c1c" stroke-width="0.18" >18</text>
<line x1="261.10" y1="308.40" x2="681.00" y2="308.40" stroke="#000" stroke-width="1.8" />
<text x="242.20" y="256.30" font-size="8.0" text-anchor="middle" fill="#1c1c1c" font-weight="normal" transform="rotate(-90 242.2 256.3)" stroke="#1c1c1c" stroke-width="0.18" >Log2  expression</text>
<line x1="270.00" y1="247.00" x2="270.00" y2="273.00" stroke="#555" stroke-width="0.9" />
<line x1="268.00" y1="247.00" x2="272.00" y2="247.00" stroke="#555" stroke-width="0.9" />
<line x1="268.00" y1="273.00" x2="272.00" y2="273.00" stroke="#555" stroke-width="0.9" />
<rect x="266.10" y="262.00" width="7.8" height="5.40" fill="#1010ff" stroke="#222" stroke-width="0.6"/>
<line x1="266.10" y1="265.00" x2="273.90" y2="265.00" stroke="#111" stroke-width="0.8" />
<line x1="270.00" y1="308.40" x2="270.00" y2="311.80" stroke="#000" stroke-width="1.6" />
<text x="272.90" y="315.70" font-size="6.6" text-anchor="end" fill="#111" font-weight="normal" transform="rotate(-45 272.9 315.7)" stroke="#111" stroke-width="0.15">Liver-N</text>
<line x1="282.00" y1="242.00" x2="282.00" y2="275.60" stroke="#555" stroke-width="0.9" />
<line x1="280.00" y1="242.00" x2="284.00" y2="242.00" stroke="#555" stroke-width="0.9" />
<line x1="280.00" y1="275.60" x2="284.00" y2="275.60" stroke="#555" stroke-width="0.9" />
<rect x="278.10" y="253.60" width="7.8" height="7.40" fill="#ff1a10" stroke="#222" stroke-width="0.6"/>
<line x1="278.10" y1="257.00" x2="285.90" y2="257.00" stroke="#111" stroke-width="0.8" />
<line x1="282.00" y1="308.40" x2="282.00" y2="311.80" stroke="#000" stroke-width="1.6" />
<text x="284.90" y="315.70" font-size="6.6" text-anchor="end" fill="#111" font-weight="normal" transform="rotate(-45 284.9 315.7)" stroke="#111" stroke-width="0.15">Liver-C</text>
<path d="M269.60,211.90 L269.60,209.85 M269.60,211.90 L271.55,211.27 M269.60,211.90 L270.80,213.56 M269.60,211.90 L268.40,213.56 M269.60,211.90 L267.65,211.27 " stroke="#111" stroke-width="1.15" stroke-linecap="round" fill="none"/>
<circle cx="269.60" cy="211.90" r="0.92" fill="#111"/>
<path d="M276.00,211.90 L276.00,209.85 M276.00,211.90 L277.95,211.27 M276.00,211.90 L277.20,213.56 M276.00,211.90 L274.80,213.56 M276.00,211.90 L274.05,211.27 " stroke="#111" stroke-width="1.15" stroke-linecap="round" fill="none"/>
<circle cx="276.00" cy="211.90" r="0.92" fill="#111"/>
<path d="M282.40,211.90 L282.40,209.85 M282.40,211.90 L284.35,211.27 M282.40,211.90 L283.60,213.56 M282.40,211.90 L281.20,213.56 M282.40,211.90 L280.45,211.27 " stroke="#111" stroke-width="1.15" stroke-linecap="round" fill="none"/>
<circle cx="282.40" cy="211.90" r="0.92" fill="#111"/>
<polyline points="270.0,222.0 270.0,217.2 282.0,217.2 282.0,222.0" fill="none" stroke="#999" stroke-width="0.9"/>
<line x1="288.50" y1="210.00" x2="288.50" y2="308.00" stroke="#444" stroke-width="0.9" stroke-dasharray="1 1"/>
<line x1="294.31" y1="246.00" x2="294.31" y2="272.40" stroke="#555" stroke-width="0.9" />
<line x1="292.31" y1="246.00" x2="296.31" y2="246.00" stroke="#555" stroke-width="0.9" />
<line x1="292.31" y1="272.40" x2="296.31" y2="272.40" stroke="#555" stroke-width="0.9" />
<rect x="290.41" y="258.00" width="7.8" height="4.60" fill="#1010ff" stroke="#222" stroke-width="0.6"/>
<line x1="290.41" y1="260.50" x2="298.21" y2="260.50" stroke="#111" stroke-width="0.8" />
<line x1="294.31" y1="308.40" x2="294.31" y2="311.80" stroke="#000" stroke-width="1.6" />
<text x="297.21" y="315.70" font-size="6.6" text-anchor="end" fill="#111" font-weight="normal" transform="rotate(-45 297.21 315.7)" stroke="#111" stroke-width="0.15">Colon-N</text>
<line x1="306.31" y1="242.00" x2="306.31" y2="272.40" stroke="#555" stroke-width="0.9" />
<line x1="304.31" y1="242.00" x2="308.31" y2="242.00" stroke="#555" stroke-width="0.9" />
<line x1="304.31" y1="272.40" x2="308.31" y2="272.40" stroke="#555" stroke-width="0.9" />
<rect x="302.41" y="251.00" width="7.8" height="5.60" fill="#ff1a10" stroke="#222" stroke-width="0.6"/>
<line x1="302.41" y1="253.50" x2="310.21" y2="253.50" stroke="#111" stroke-width="0.8" />
<line x1="306.31" y1="308.40" x2="306.31" y2="311.80" stroke="#000" stroke-width="1.6" />
<text x="309.21" y="315.70" font-size="6.6" text-anchor="end" fill="#111" font-weight="normal" transform="rotate(-45 309.21 315.7)" stroke="#111" stroke-width="0.15">Colon-C</text>
<path d="M293.91,211.90 L293.91,209.85 M293.91,211.90 L295.86,211.27 M293.91,211.90 L295.11,213.56 M293.91,211.90 L292.71,213.56 M293.91,211.90 L291.96,211.27 " stroke="#111" stroke-width="1.15" stroke-linecap="round" fill="none"/>
<circle cx="293.91" cy="211.90" r="0.92" fill="#111"/>
<path d="M300.31,211.90 L300.31,209.85 M300.31,211.90 L302.26,211.27 M300.31,211.90 L301.51,213.56 M300.31,211.90 L299.11,213.56 M300.31,211.90 L298.36,211.27 " stroke="#111" stroke-width="1.15" stroke-linecap="round" fill="none"/>
<circle cx="300.31" cy="211.90" r="0.92" fill="#111"/>
<path d="M306.71,211.90 L306.71,209.85 M306.71,211.90 L308.66,211.27 M306.71,211.90 L307.91,213.56 M306.71,211.90 L305.51,213.56 M306.71,211.90 L304.76,211.27 " stroke="#111" stroke-width="1.15" stroke-linecap="round" fill="none"/>
<circle cx="306.71" cy="211.90" r="0.92" fill="#111"/>
<polyline points="294.31,222.0 294.31,217.2 306.31,217.2 306.31,222.0" fill="none" stroke="#999" stroke-width="0.9"/>
<line x1="312.50" y1="210.00" x2="312.50" y2="308.00" stroke="#444" stroke-width="0.9" stroke-dasharray="1 1"/>
<line x1="318.62" y1="251.60" x2="318.62" y2="275.60" stroke="#555" stroke-width="0.9" />
<line x1="316.62" y1="251.60" x2="320.62" y2="251.60" stroke="#555" stroke-width="0.9" />
<line x1="316.62" y1="275.60" x2="320.62" y2="275.60" stroke="#555" stroke-width="0.9" />
<rect x="314.72" y="260.00" width="7.8" height="3.60" fill="#1010ff" stroke="#222" stroke-width="0.6"/>
<line x1="314.72" y1="261.80" x2="322.52" y2="261.80" stroke="#111" stroke-width="0.8" />
<line x1="318.62" y1="308.40" x2="318.62" y2="311.80" stroke="#000" stroke-width="1.6" />
<text x="321.52" y="315.70" font-size="6.6" text-anchor="end" fill="#111" font-weight="normal" transform="rotate(-45 321.52 315.7)" stroke="#111" stroke-width="0.15">Kidney-N</text>
<line x1="330.62" y1="237.40" x2="330.62" y2="270.40" stroke="#555" stroke-width="0.9" />
<line x1="328.62" y1="237.40" x2="332.62" y2="237.40" stroke="#555" stroke-width="0.9" />
<line x1="328.62" y1="270.40" x2="332.62" y2="270.40" stroke="#555" stroke-width="0.9" />
<rect x="326.72" y="252.00" width="7.8" height="7.40" fill="#ff1a10" stroke="#222" stroke-width="0.6"/>
<line x1="326.72" y1="256.00" x2="334.52" y2="256.00" stroke="#111" stroke-width="0.8" />
<line x1="330.62" y1="308.40" x2="330.62" y2="311.80" stroke="#000" stroke-width="1.6" />
<text x="333.52" y="315.70" font-size="6.6" text-anchor="end" fill="#111" font-weight="normal" transform="rotate(-45 333.52 315.7)" stroke="#111" stroke-width="0.15">Kidney-C</text>
<path d="M318.22,211.90 L318.22,209.85 M318.22,211.90 L320.17,211.27 M318.22,211.90 L319.42,213.56 M318.22,211.90 L317.02,213.56 M318.22,211.90 L316.27,211.27 " stroke="#111" stroke-width="1.15" stroke-linecap="round" fill="none"/>
<circle cx="318.22" cy="211.90" r="0.92" fill="#111"/>
<path d="M324.62,211.90 L324.62,209.85 M324.62,211.90 L326.57,211.27 M324.62,211.90 L325.82,213.56 M324.62,211.90 L323.42,213.56 M324.62,211.90 L322.67,211.27 " stroke="#111" stroke-width="1.15" stroke-linecap="round" fill="none"/>
<circle cx="324.62" cy="211.90" r="0.92" fill="#111"/>
<path d="M331.02,211.90 L331.02,209.85 M331.02,211.90 L332.97,211.27 M331.02,211.90 L332.22,213.56 M331.02,211.90 L329.82,213.56 M331.02,211.90 L329.07,211.27 " stroke="#111" stroke-width="1.15" stroke-linecap="round" fill="none"/>
<circle cx="331.02" cy="211.90" r="0.92" fill="#111"/>
<polyline points="318.62,222.0 318.62,217.2 330.62,217.2 330.62,222.0" fill="none" stroke="#999" stroke-width="0.9"/>
<line x1="336.50" y1="210.00" x2="336.50" y2="308.00" stroke="#444" stroke-width="0.9" stroke-dasharray="1 1"/>
<line x1="342.93" y1="247.00" x2="342.93" y2="278.00" stroke="#555" stroke-width="0.9" />
<line x1="340.93" y1="247.00" x2="344.93" y2="247.00" stroke="#555" stroke-width="0.9" />
<line x1="340.93" y1="278.00" x2="344.93" y2="278.00" stroke="#555" stroke-width="0.9" />
<rect x="339.03" y="256.00" width="7.8" height="15.00" fill="#1010ff" stroke="#222" stroke-width="0.6"/>
<line x1="339.03" y1="266.40" x2="346.83" y2="266.40" stroke="#111" stroke-width="0.8" />
<line x1="342.93" y1="308.40" x2="342.93" y2="311.80" stroke="#000" stroke-width="1.6" />
<text x="345.83" y="315.70" font-size="6.6" text-anchor="end" fill="#111" font-weight="normal" transform="rotate(-45 345.83 315.7)" stroke="#111" stroke-width="0.15">Bladder-N</text>
<line x1="354.93" y1="243.00" x2="354.93" y2="281.60" stroke="#555" stroke-width="0.9" />
<line x1="352.93" y1="243.00" x2="356.93" y2="243.00" stroke="#555" stroke-width="0.9" />
<line x1="352.93" y1="281.60" x2="356.93" y2="281.60" stroke="#555" stroke-width="0.9" />
<rect x="351.03" y="253.60" width="7.8" height="8.40" fill="#ff1a10" stroke="#222" stroke-width="0.6"/>
<line x1="351.03" y1="257.50" x2="358.83" y2="257.50" stroke="#111" stroke-width="0.8" />
<line x1="354.93" y1="308.40" x2="354.93" y2="311.80" stroke="#000" stroke-width="1.6" />
<text x="357.83" y="315.70" font-size="6.6" text-anchor="end" fill="#111" font-weight="normal" transform="rotate(-45 357.83 315.7)" stroke="#111" stroke-width="0.15">Bladder-C</text>
<path d="M342.53,211.90 L342.53,209.85 M342.53,211.90 L344.48,211.27 M342.53,211.90 L343.73,213.56 M342.53,211.90 L341.33,213.56 M342.53,211.90 L340.58,211.27 " stroke="#111" stroke-width="1.15" stroke-linecap="round" fill="none"/>
<circle cx="342.53" cy="211.90" r="0.92" fill="#111"/>
<path d="M348.93,211.90 L348.93,209.85 M348.93,211.90 L350.88,211.27 M348.93,211.90 L350.13,213.56 M348.93,211.90 L347.73,213.56 M348.93,211.90 L346.98,211.27 " stroke="#111" stroke-width="1.15" stroke-linecap="round" fill="none"/>
<circle cx="348.93" cy="211.90" r="0.92" fill="#111"/>
<path d="M355.33,211.90 L355.33,209.85 M355.33,211.90 L357.28,211.27 M355.33,211.90 L356.53,213.56 M355.33,211.90 L354.13,213.56 M355.33,211.90 L353.38,211.27 " stroke="#111" stroke-width="1.15" stroke-linecap="round" fill="none"/>
<circle cx="355.33" cy="211.90" r="0.92" fill="#111"/>
<polyline points="342.93,222.0 342.93,217.2 354.93,217.2 354.93,222.0" fill="none" stroke="#999" stroke-width="0.9"/>
<line x1="361.50" y1="210.00" x2="361.50" y2="308.00" stroke="#444" stroke-width="0.9" stroke-dasharray="1 1"/>
<line x1="367.24" y1="247.40" x2="367.24" y2="282.40" stroke="#555" stroke-width="0.9" />
<line x1="365.24" y1="247.40" x2="369.24" y2="247.40" stroke="#555" stroke-width="0.9" />
<line x1="365.24" y1="282.40" x2="369.24" y2="282.40" stroke="#555" stroke-width="0.9" />
<rect x="363.34" y="262.40" width="7.8" height="3.20" fill="#1010ff" stroke="#222" stroke-width="0.6"/>
<line x1="363.34" y1="264.00" x2="371.14" y2="264.00" stroke="#111" stroke-width="0.8" />
<line x1="367.24" y1="308.40" x2="367.24" y2="311.80" stroke="#000" stroke-width="1.6" />
<text x="370.14" y="315.70" font-size="6.6" text-anchor="end" fill="#111" font-weight="normal" transform="rotate(-45 370.14 315.7)" stroke="#111" stroke-width="0.15">Brain-N</text>
<line x1="379.24" y1="235.60" x2="379.24" y2="276.00" stroke="#555" stroke-width="0.9" />
<line x1="377.24" y1="235.60" x2="381.24" y2="235.60" stroke="#555" stroke-width="0.9" />
<line x1="377.24" y1="276.00" x2="381.24" y2="276.00" stroke="#555" stroke-width="0.9" />
<rect x="375.34" y="255.00" width="7.8" height="7.60" fill="#ff1a10" stroke="#222" stroke-width="0.6"/>
<line x1="375.34" y1="259.00" x2="383.14" y2="259.00" stroke="#111" stroke-width="0.8" />
<line x1="379.24" y1="308.40" x2="379.24" y2="311.80" stroke="#000" stroke-width="1.6" />
<text x="382.14" y="315.70" font-size="6.6" text-anchor="end" fill="#111" font-weight="normal" transform="rotate(-45 382.14 315.7)" stroke="#111" stroke-width="0.15">Brain-C</text>
<path d="M366.84,211.90 L366.84,209.85 M366.84,211.90 L368.79,211.27 M366.84,211.90 L368.04,213.56 M366.84,211.90 L365.64,213.56 M366.84,211.90 L364.89,211.27 " stroke="#111" stroke-width="1.15" stroke-linecap="round" fill="none"/>
<circle cx="366.84" cy="211.90" r="0.92" fill="#111"/>
<path d="M373.24,211.90 L373.24,209.85 M373.24,211.90 L375.19,211.27 M373.24,211.90 L374.44,213.56 M373.24,211.90 L372.04,213.56 M373.24,211.90 L371.29,211.27 " stroke="#111" stroke-width="1.15" stroke-linecap="round" fill="none"/>
<circle cx="373.24" cy="211.90" r="0.92" fill="#111"/>
<path d="M379.64,211.90 L379.64,209.85 M379.64,211.90 L381.59,211.27 M379.64,211.90 L380.84,213.56 M379.64,211.90 L378.44,213.56 M379.64,211.90 L377.69,211.27 " stroke="#111" stroke-width="1.15" stroke-linecap="round" fill="none"/>
<circle cx="379.64" cy="211.90" r="0.92" fill="#111"/>
<polyline points="367.24,222.0 367.24,217.2 379.24,217.2 379.24,222.0" fill="none" stroke="#999" stroke-width="0.9"/>
<line x1="385.50" y1="210.00" x2="385.50" y2="308.00" stroke="#444" stroke-width="0.9" stroke-dasharray="1 1"/>
<line x1="391.55" y1="249.60" x2="391.55" y2="272.40" stroke="#555" stroke-width="0.9" />
<line x1="389.55" y1="249.60" x2="393.55" y2="249.60" stroke="#555" stroke-width="0.9" />
<line x1="389.55" y1="272.40" x2="393.55" y2="272.40" stroke="#555" stroke-width="0.9" />
<rect x="387.65" y="255.00" width="7.8" height="3.60" fill="#1010ff" stroke="#222" stroke-width="0.6"/>
<line x1="387.65" y1="256.80" x2="395.45" y2="256.80" stroke="#111" stroke-width="0.8" />
<line x1="391.55" y1="308.40" x2="391.55" y2="311.80" stroke="#000" stroke-width="1.6" />
<text x="394.45" y="315.70" font-size="6.6" text-anchor="end" fill="#111" font-weight="normal" transform="rotate(-45 394.45 315.7)" stroke="#111" stroke-width="0.15">Prostate-N</text>
<line x1="403.55" y1="243.00" x2="403.55" y2="271.60" stroke="#555" stroke-width="0.9" />
<line x1="401.55" y1="243.00" x2="405.55" y2="243.00" stroke="#555" stroke-width="0.9" />
<line x1="401.55" y1="271.60" x2="405.55" y2="271.60" stroke="#555" stroke-width="0.9" />
<rect x="399.65" y="251.00" width="7.8" height="4.60" fill="#ff1a10" stroke="#222" stroke-width="0.6"/>
<line x1="399.65" y1="253.20" x2="407.45" y2="253.20" stroke="#111" stroke-width="0.8" />
<line x1="403.55" y1="308.40" x2="403.55" y2="311.80" stroke="#000" stroke-width="1.6" />
<text x="406.45" y="315.70" font-size="6.6" text-anchor="end" fill="#111" font-weight="normal" transform="rotate(-45 406.45 315.7)" stroke="#111" stroke-width="0.15">Prostate-C</text>
<path d="M391.15,211.90 L391.15,209.85 M391.15,211.90 L393.10,211.27 M391.15,211.90 L392.35,213.56 M391.15,211.90 L389.95,213.56 M391.15,211.90 L389.20,211.27 " stroke="#111" stroke-width="1.15" stroke-linecap="round" fill="none"/>
<circle cx="391.15" cy="211.90" r="0.92" fill="#111"/>
<path d="M397.55,211.90 L397.55,209.85 M397.55,211.90 L399.50,211.27 M397.55,211.90 L398.75,213.56 M397.55,211.90 L396.35,213.56 M397.55,211.90 L395.60,211.27 " stroke="#111" stroke-width="1.15" stroke-linecap="round" fill="none"/>
<circle cx="397.55" cy="211.90" r="0.92" fill="#111"/>
<path d="M403.95,211.90 L403.95,209.85 M403.95,211.90 L405.90,211.27 M403.95,211.90 L405.15,213.56 M403.95,211.90 L402.75,213.56 M403.95,211.90 L402.00,211.27 " stroke="#111" stroke-width="1.15" stroke-linecap="round" fill="none"/>
<circle cx="403.95" cy="211.90" r="0.92" fill="#111"/>
<polyline points="391.55,222.0 391.55,217.2 403.55,217.2 403.55,222.0" fill="none" stroke="#999" stroke-width="0.9"/>
<line x1="409.50" y1="210.00" x2="409.50" y2="308.00" stroke="#444" stroke-width="0.9" stroke-dasharray="1 1"/>
<line x1="415.86" y1="248.40" x2="415.86" y2="278.00" stroke="#555" stroke-width="0.9" />
<line x1="413.86" y1="248.40" x2="417.86" y2="248.40" stroke="#555" stroke-width="0.9" />
<line x1="413.86" y1="278.00" x2="417.86" y2="278.00" stroke="#555" stroke-width="0.9" />
<rect x="411.96" y="256.00" width="7.8" height="7.00" fill="#1010ff" stroke="#222" stroke-width="0.6"/>
<line x1="411.96" y1="259.50" x2="419.76" y2="259.50" stroke="#111" stroke-width="0.8" />
<line x1="415.86" y1="308.40" x2="415.86" y2="311.80" stroke="#000" stroke-width="1.6" />
<text x="418.76" y="315.70" font-size="6.6" text-anchor="end" fill="#111" font-weight="normal" transform="rotate(-45 418.76 315.7)" stroke="#111" stroke-width="0.15">Stomach-N</text>
<line x1="427.86" y1="244.00" x2="427.86" y2="283.40" stroke="#555" stroke-width="0.9" />
<line x1="425.86" y1="244.00" x2="429.86" y2="244.00" stroke="#555" stroke-width="0.9" />
<line x1="425.86" y1="283.40" x2="429.86" y2="283.40" stroke="#555" stroke-width="0.9" />
<rect x="423.96" y="254.40" width="7.8" height="5.00" fill="#ff1a10" stroke="#222" stroke-width="0.6"/>
<line x1="423.96" y1="256.80" x2="431.76" y2="256.80" stroke="#111" stroke-width="0.8" />
<line x1="427.86" y1="308.40" x2="427.86" y2="311.80" stroke="#000" stroke-width="1.6" />
<text x="430.76" y="315.70" font-size="6.6" text-anchor="end" fill="#111" font-weight="normal" transform="rotate(-45 430.76 315.7)" stroke="#111" stroke-width="0.15">Stomach-C</text>
<path d="M415.46,211.90 L415.46,209.85 M415.46,211.90 L417.41,211.27 M415.46,211.90 L416.66,213.56 M415.46,211.90 L414.26,213.56 M415.46,211.90 L413.51,211.27 " stroke="#111" stroke-width="1.15" stroke-linecap="round" fill="none"/>
<circle cx="415.46" cy="211.90" r="0.92" fill="#111"/>
<path d="M421.86,211.90 L421.86,209.85 M421.86,211.90 L423.81,211.27 M421.86,211.90 L423.06,213.56 M421.86,211.90 L420.66,213.56 M421.86,211.90 L419.91,211.27 " stroke="#111" stroke-width="1.15" stroke-linecap="round" fill="none"/>
<circle cx="421.86" cy="211.90" r="0.92" fill="#111"/>
<path d="M428.26,211.90 L428.26,209.85 M428.26,211.90 L430.21,211.27 M428.26,211.90 L429.46,213.56 M428.26,211.90 L427.06,213.56 M428.26,211.90 L426.31,211.27 " stroke="#111" stroke-width="1.15" stroke-linecap="round" fill="none"/>
<circle cx="428.26" cy="211.90" r="0.92" fill="#111"/>
<polyline points="415.86,222.0 415.86,217.2 427.86,217.2 427.86,222.0" fill="none" stroke="#999" stroke-width="0.9"/>
<line x1="434.50" y1="210.00" x2="434.50" y2="308.00" stroke="#444" stroke-width="0.9" stroke-dasharray="1 1"/>
<line x1="440.17" y1="225.60" x2="440.17" y2="277.40" stroke="#555" stroke-width="0.9" />
<line x1="438.17" y1="225.60" x2="442.17" y2="225.60" stroke="#555" stroke-width="0.9" />
<line x1="438.17" y1="277.40" x2="442.17" y2="277.40" stroke="#555" stroke-width="0.9" />
<rect x="436.27" y="255.00" width="7.8" height="5.00" fill="#1010ff" stroke="#222" stroke-width="0.6"/>
<line x1="436.27" y1="257.50" x2="444.07" y2="257.50" stroke="#111" stroke-width="0.8" />
<line x1="440.17" y1="308.40" x2="440.17" y2="311.80" stroke="#000" stroke-width="1.6" />
<text x="443.07" y="315.70" font-size="6.6" text-anchor="end" fill="#111" font-weight="normal" transform="rotate(-45 443.06999999999994 315.7)" stroke="#111" stroke-width="0.15">Lung-N</text>
<line x1="452.17" y1="238.40" x2="452.17" y2="279.40" stroke="#555" stroke-width="0.9" />
<line x1="450.17" y1="238.40" x2="454.17" y2="238.40" stroke="#555" stroke-width="0.9" />
<line x1="450.17" y1="279.40" x2="454.17" y2="279.40" stroke="#555" stroke-width="0.9" />
<rect x="448.27" y="252.40" width="7.8" height="6.20" fill="#ff1a10" stroke="#222" stroke-width="0.6"/>
<line x1="448.27" y1="255.50" x2="456.07" y2="255.50" stroke="#111" stroke-width="0.8" />
<line x1="452.17" y1="308.40" x2="452.17" y2="311.80" stroke="#000" stroke-width="1.6" />
<text x="455.07" y="315.70" font-size="6.6" text-anchor="end" fill="#111" font-weight="normal" transform="rotate(-45 455.06999999999994 315.7)" stroke="#111" stroke-width="0.15">Lung-C</text>
<path d="M439.77,211.90 L439.77,209.85 M439.77,211.90 L441.72,211.27 M439.77,211.90 L440.97,213.56 M439.77,211.90 L438.57,213.56 M439.77,211.90 L437.82,211.27 " stroke="#111" stroke-width="1.15" stroke-linecap="round" fill="none"/>
<circle cx="439.77" cy="211.90" r="0.92" fill="#111"/>
<path d="M446.17,211.90 L446.17,209.85 M446.17,211.90 L448.12,211.27 M446.17,211.90 L447.37,213.56 M446.17,211.90 L444.97,213.56 M446.17,211.90 L444.22,211.27 " stroke="#111" stroke-width="1.15" stroke-linecap="round" fill="none"/>
<circle cx="446.17" cy="211.90" r="0.92" fill="#111"/>
<path d="M452.57,211.90 L452.57,209.85 M452.57,211.90 L454.52,211.27 M452.57,211.90 L453.77,213.56 M452.57,211.90 L451.37,213.56 M452.57,211.90 L450.62,211.27 " stroke="#111" stroke-width="1.15" stroke-linecap="round" fill="none"/>
<circle cx="452.57" cy="211.90" r="0.92" fill="#111"/>
<polyline points="440.16999999999996,222.0 440.16999999999996,217.2 452.16999999999996,217.2 452.16999999999996,222.0" fill="none" stroke="#999" stroke-width="0.9"/>
<line x1="458.50" y1="210.00" x2="458.50" y2="308.00" stroke="#444" stroke-width="0.9" stroke-dasharray="1 1"/>
<line x1="464.48" y1="248.40" x2="464.48" y2="264.00" stroke="#555" stroke-width="0.9" />
<line x1="462.48" y1="248.40" x2="466.48" y2="248.40" stroke="#555" stroke-width="0.9" />
<line x1="462.48" y1="264.00" x2="466.48" y2="264.00" stroke="#555" stroke-width="0.9" />
<rect x="460.58" y="254.40" width="7.8" height="4.20" fill="#1010ff" stroke="#222" stroke-width="0.6"/>
<line x1="460.58" y1="256.50" x2="468.38" y2="256.50" stroke="#111" stroke-width="0.8" />
<line x1="464.48" y1="308.40" x2="464.48" y2="311.80" stroke="#000" stroke-width="1.6" />
<text x="467.38" y="315.70" font-size="6.6" text-anchor="end" fill="#111" font-weight="normal" transform="rotate(-45 467.38 315.7)" stroke="#111" stroke-width="0.15">Thyroid-N</text>
<line x1="476.48" y1="241.60" x2="476.48" y2="268.40" stroke="#555" stroke-width="0.9" />
<line x1="474.48" y1="241.60" x2="478.48" y2="241.60" stroke="#555" stroke-width="0.9" />
<line x1="474.48" y1="268.40" x2="478.48" y2="268.40" stroke="#555" stroke-width="0.9" />
<rect x="472.58" y="251.00" width="7.8" height="5.60" fill="#ff1a10" stroke="#222" stroke-width="0.6"/>
<line x1="472.58" y1="253.80" x2="480.38" y2="253.80" stroke="#111" stroke-width="0.8" />
<line x1="476.48" y1="308.40" x2="476.48" y2="311.80" stroke="#000" stroke-width="1.6" />
<text x="479.38" y="315.70" font-size="6.6" text-anchor="end" fill="#111" font-weight="normal" transform="rotate(-45 479.38 315.7)" stroke="#111" stroke-width="0.15">Thyroid-C</text>
<path d="M464.08,211.90 L464.08,209.85 M464.08,211.90 L466.03,211.27 M464.08,211.90 L465.28,213.56 M464.08,211.90 L462.88,213.56 M464.08,211.90 L462.13,211.27 " stroke="#111" stroke-width="1.15" stroke-linecap="round" fill="none"/>
<circle cx="464.08" cy="211.90" r="0.92" fill="#111"/>
<path d="M470.48,211.90 L470.48,209.85 M470.48,211.90 L472.43,211.27 M470.48,211.90 L471.68,213.56 M470.48,211.90 L469.28,213.56 M470.48,211.90 L468.53,211.27 " stroke="#111" stroke-width="1.15" stroke-linecap="round" fill="none"/>
<circle cx="470.48" cy="211.90" r="0.92" fill="#111"/>
<path d="M476.88,211.90 L476.88,209.85 M476.88,211.90 L478.83,211.27 M476.88,211.90 L478.08,213.56 M476.88,211.90 L475.68,213.56 M476.88,211.90 L474.93,211.27 " stroke="#111" stroke-width="1.15" stroke-linecap="round" fill="none"/>
<circle cx="476.88" cy="211.90" r="0.92" fill="#111"/>
<polyline points="464.48,222.0 464.48,217.2 476.48,217.2 476.48,222.0" fill="none" stroke="#999" stroke-width="0.9"/>
<line x1="482.50" y1="210.00" x2="482.50" y2="308.00" stroke="#444" stroke-width="0.9" stroke-dasharray="1 1"/>
<line x1="488.79" y1="244.00" x2="488.79" y2="264.40" stroke="#555" stroke-width="0.9" />
<line x1="486.79" y1="244.00" x2="490.79" y2="244.00" stroke="#555" stroke-width="0.9" />
<line x1="486.79" y1="264.40" x2="490.79" y2="264.40" stroke="#555" stroke-width="0.9" />
<rect x="484.89" y="252.60" width="7.8" height="2.80" fill="#1010ff" stroke="#222" stroke-width="0.6"/>
<line x1="484.89" y1="254.00" x2="492.69" y2="254.00" stroke="#111" stroke-width="0.8" />
<line x1="488.79" y1="308.40" x2="488.79" y2="311.80" stroke="#000" stroke-width="1.6" />
<text x="491.69" y="315.70" font-size="6.6" text-anchor="end" fill="#111" font-weight="normal" transform="rotate(-45 491.68999999999994 315.7)" stroke="#111" stroke-width="0.15">Skin-N</text>
<line x1="500.79" y1="238.40" x2="500.79" y2="267.40" stroke="#555" stroke-width="0.9" />
<line x1="498.79" y1="238.40" x2="502.79" y2="238.40" stroke="#555" stroke-width="0.9" />
<line x1="498.79" y1="267.40" x2="502.79" y2="267.40" stroke="#555" stroke-width="0.9" />
<rect x="496.89" y="249.40" width="7.8" height="6.20" fill="#ff1a10" stroke="#222" stroke-width="0.6"/>
<line x1="496.89" y1="252.50" x2="504.69" y2="252.50" stroke="#111" stroke-width="0.8" />
<line x1="500.79" y1="308.40" x2="500.79" y2="311.80" stroke="#000" stroke-width="1.6" />
<text x="503.69" y="315.70" font-size="6.6" text-anchor="end" fill="#111" font-weight="normal" transform="rotate(-45 503.68999999999994 315.7)" stroke="#111" stroke-width="0.15">Skin-C</text>
<line x1="506.50" y1="210.00" x2="506.50" y2="308.00" stroke="#444" stroke-width="0.9" stroke-dasharray="1 1"/>
<line x1="513.10" y1="241.40" x2="513.10" y2="266.40" stroke="#555" stroke-width="0.9" />
<line x1="511.10" y1="241.40" x2="515.10" y2="241.40" stroke="#555" stroke-width="0.9" />
<line x1="511.10" y1="266.40" x2="515.10" y2="266.40" stroke="#555" stroke-width="0.9" />
<rect x="509.20" y="249.20" width="7.8" height="5.40" fill="#1010ff" stroke="#222" stroke-width="0.6"/>
<line x1="509.20" y1="252.00" x2="517.00" y2="252.00" stroke="#111" stroke-width="0.8" />
<line x1="513.10" y1="308.40" x2="513.10" y2="311.80" stroke="#000" stroke-width="1.6" />
<text x="516.00" y="315.70" font-size="6.6" text-anchor="end" fill="#111" font-weight="normal" transform="rotate(-45 516.0 315.7)" stroke="#111" stroke-width="0.15">Ovary-N</text>
<line x1="525.10" y1="238.00" x2="525.10" y2="284.00" stroke="#555" stroke-width="0.9" />
<line x1="523.10" y1="238.00" x2="527.10" y2="238.00" stroke="#555" stroke-width="0.9" />
<line x1="523.10" y1="284.00" x2="527.10" y2="284.00" stroke="#555" stroke-width="0.9" />
<rect x="521.20" y="248.00" width="7.8" height="6.40" fill="#ff1a10" stroke="#222" stroke-width="0.6"/>
<line x1="521.20" y1="251.20" x2="529.00" y2="251.20" stroke="#111" stroke-width="0.8" />
<line x1="525.10" y1="308.40" x2="525.10" y2="311.80" stroke="#000" stroke-width="1.6" />
<text x="528.00" y="315.70" font-size="6.6" text-anchor="end" fill="#111" font-weight="normal" transform="rotate(-45 528.0 315.7)" stroke="#111" stroke-width="0.15">Ovary-C</text>
<line x1="531.50" y1="210.00" x2="531.50" y2="308.00" stroke="#444" stroke-width="0.9" stroke-dasharray="1 1"/>
<line x1="537.41" y1="244.40" x2="537.41" y2="263.40" stroke="#555" stroke-width="0.9" />
<line x1="535.41" y1="244.40" x2="539.41" y2="244.40" stroke="#555" stroke-width="0.9" />
<line x1="535.41" y1="263.40" x2="539.41" y2="263.40" stroke="#555" stroke-width="0.9" />
<rect x="533.51" y="251.60" width="7.8" height="2.40" fill="#1010ff" stroke="#222" stroke-width="0.6"/>
<line x1="533.51" y1="252.80" x2="541.31" y2="252.80" stroke="#111" stroke-width="0.8" />
<line x1="537.41" y1="308.40" x2="537.41" y2="311.80" stroke="#000" stroke-width="1.6" />
<text x="540.31" y="315.70" font-size="6.6" text-anchor="end" fill="#111" font-weight="normal" transform="rotate(-45 540.31 315.7)" stroke="#111" stroke-width="0.15">Endometrium-N</text>
<line x1="549.41" y1="242.40" x2="549.41" y2="260.40" stroke="#555" stroke-width="0.9" />
<line x1="547.41" y1="242.40" x2="551.41" y2="242.40" stroke="#555" stroke-width="0.9" />
<line x1="547.41" y1="260.40" x2="551.41" y2="260.40" stroke="#555" stroke-width="0.9" />
<rect x="545.51" y="250.40" width="7.8" height="4.60" fill="#ff1a10" stroke="#222" stroke-width="0.6"/>
<line x1="545.51" y1="252.70" x2="553.31" y2="252.70" stroke="#111" stroke-width="0.8" />
<line x1="549.41" y1="308.40" x2="549.41" y2="311.80" stroke="#000" stroke-width="1.6" />
<text x="552.31" y="315.70" font-size="6.6" text-anchor="end" fill="#111" font-weight="normal" transform="rotate(-45 552.31 315.7)" stroke="#111" stroke-width="0.15">Endometrium-C</text>
<line x1="555.50" y1="210.00" x2="555.50" y2="308.00" stroke="#444" stroke-width="0.9" stroke-dasharray="1 1"/>
<line x1="561.72" y1="243.40" x2="561.72" y2="271.60" stroke="#555" stroke-width="0.9" />
<line x1="559.72" y1="243.40" x2="563.72" y2="243.40" stroke="#555" stroke-width="0.9" />
<line x1="559.72" y1="271.60" x2="563.72" y2="271.60" stroke="#555" stroke-width="0.9" />
<rect x="557.82" y="252.00" width="7.8" height="6.00" fill="#1010ff" stroke="#222" stroke-width="0.6"/>
<line x1="557.82" y1="255.00" x2="565.62" y2="255.00" stroke="#111" stroke-width="0.8" />
<line x1="561.72" y1="308.40" x2="561.72" y2="311.80" stroke="#000" stroke-width="1.6" />
<text x="564.62" y="315.70" font-size="6.6" text-anchor="end" fill="#111" font-weight="normal" transform="rotate(-45 564.62 315.7)" stroke="#111" stroke-width="0.15">Breast-N</text>
<line x1="573.72" y1="239.00" x2="573.72" y2="279.40" stroke="#555" stroke-width="0.9" />
<line x1="571.72" y1="239.00" x2="575.72" y2="239.00" stroke="#555" stroke-width="0.9" />
<line x1="571.72" y1="279.40" x2="575.72" y2="279.40" stroke="#555" stroke-width="0.9" />
<rect x="569.82" y="252.00" width="7.8" height="6.40" fill="#ff1a10" stroke="#222" stroke-width="0.6"/>
<line x1="569.82" y1="255.20" x2="577.62" y2="255.20" stroke="#111" stroke-width="0.8" />
<line x1="573.72" y1="308.40" x2="573.72" y2="311.80" stroke="#000" stroke-width="1.6" />
<text x="576.62" y="315.70" font-size="6.6" text-anchor="end" fill="#111" font-weight="normal" transform="rotate(-45 576.62 315.7)" stroke="#111" stroke-width="0.15">Breast-C</text>
<line x1="579.50" y1="210.00" x2="579.50" y2="308.00" stroke="#444" stroke-width="0.9" stroke-dasharray="1 1"/>
<line x1="586.03" y1="248.40" x2="586.03" y2="261.60" stroke="#555" stroke-width="0.9" />
<line x1="584.03" y1="248.40" x2="588.03" y2="248.40" stroke="#555" stroke-width="0.9" />
<line x1="584.03" y1="261.60" x2="588.03" y2="261.60" stroke="#555" stroke-width="0.9" />
<rect x="582.13" y="254.00" width="7.8" height="2.00" fill="#1010ff" stroke="#222" stroke-width="0.6"/>
<line x1="582.13" y1="255.00" x2="589.93" y2="255.00" stroke="#111" stroke-width="0.8" />
<line x1="586.03" y1="308.40" x2="586.03" y2="311.80" stroke="#000" stroke-width="1.6" />
<text x="588.93" y="315.70" font-size="6.6" text-anchor="end" fill="#111" font-weight="normal" transform="rotate(-45 588.93 315.7)" stroke="#111" stroke-width="0.15">Esophagus-N</text>
<line x1="598.03" y1="242.00" x2="598.03" y2="269.40" stroke="#555" stroke-width="0.9" />
<line x1="596.03" y1="242.00" x2="600.03" y2="242.00" stroke="#555" stroke-width="0.9" />
<line x1="596.03" y1="269.40" x2="600.03" y2="269.40" stroke="#555" stroke-width="0.9" />
<rect x="594.13" y="253.00" width="7.8" height="5.60" fill="#ff1a10" stroke="#222" stroke-width="0.6"/>
<line x1="594.13" y1="255.80" x2="601.93" y2="255.80" stroke="#111" stroke-width="0.8" />
<line x1="598.03" y1="308.40" x2="598.03" y2="311.80" stroke="#000" stroke-width="1.6" />
<text x="600.93" y="315.70" font-size="6.6" text-anchor="end" fill="#111" font-weight="normal" transform="rotate(-45 600.93 315.7)" stroke="#111" stroke-width="0.15">Esophagus-C</text>
<line x1="604.50" y1="210.00" x2="604.50" y2="308.00" stroke="#444" stroke-width="0.9" stroke-dasharray="1 1"/>
<line x1="610.34" y1="243.40" x2="610.34" y2="266.40" stroke="#555" stroke-width="0.9" />
<line x1="608.34" y1="243.40" x2="612.34" y2="243.40" stroke="#555" stroke-width="0.9" />
<line x1="608.34" y1="266.40" x2="612.34" y2="266.40" stroke="#555" stroke-width="0.9" />
<rect x="606.44" y="251.40" width="7.8" height="4.20" fill="#1010ff" stroke="#222" stroke-width="0.6"/>
<line x1="606.44" y1="253.50" x2="614.24" y2="253.50" stroke="#111" stroke-width="0.8" />
<line x1="610.34" y1="308.40" x2="610.34" y2="311.80" stroke="#000" stroke-width="1.6" />
<text x="613.24" y="315.70" font-size="6.6" text-anchor="end" fill="#111" font-weight="normal" transform="rotate(-45 613.2399999999999 315.7)" stroke="#111" stroke-width="0.15">Pancreas-N</text>
<line x1="622.34" y1="241.40" x2="622.34" y2="277.60" stroke="#555" stroke-width="0.9" />
<line x1="620.34" y1="241.40" x2="624.34" y2="241.40" stroke="#555" stroke-width="0.9" />
<line x1="620.34" y1="277.60" x2="624.34" y2="277.60" stroke="#555" stroke-width="0.9" />
<rect x="618.44" y="252.40" width="7.8" height="5.60" fill="#ff1a10" stroke="#222" stroke-width="0.6"/>
<line x1="618.44" y1="255.20" x2="626.24" y2="255.20" stroke="#111" stroke-width="0.8" />
<line x1="622.34" y1="308.40" x2="622.34" y2="311.80" stroke="#000" stroke-width="1.6" />
<text x="625.24" y="315.70" font-size="6.6" text-anchor="end" fill="#111" font-weight="normal" transform="rotate(-45 625.2399999999999 315.7)" stroke="#111" stroke-width="0.15">Pancreas-C</text>
<line x1="628.50" y1="210.00" x2="628.50" y2="308.00" stroke="#444" stroke-width="0.9" stroke-dasharray="1 1"/>
<line x1="634.65" y1="245.40" x2="634.65" y2="258.00" stroke="#555" stroke-width="0.9" />
<line x1="632.65" y1="245.40" x2="636.65" y2="245.40" stroke="#555" stroke-width="0.9" />
<line x1="632.65" y1="258.00" x2="636.65" y2="258.00" stroke="#555" stroke-width="0.9" />
<rect x="630.75" y="251.40" width="7.8" height="3.60" fill="#1010ff" stroke="#222" stroke-width="0.6"/>
<line x1="630.75" y1="253.20" x2="638.55" y2="253.20" stroke="#111" stroke-width="0.8" />
<line x1="634.65" y1="308.40" x2="634.65" y2="311.80" stroke="#000" stroke-width="1.6" />
<text x="637.55" y="315.70" font-size="6.6" text-anchor="end" fill="#111" font-weight="normal" transform="rotate(-45 637.55 315.7)" stroke="#111" stroke-width="0.15">Cervix-N</text>
<line x1="646.65" y1="244.40" x2="646.65" y2="267.00" stroke="#555" stroke-width="0.9" />
<line x1="644.65" y1="244.40" x2="648.65" y2="244.40" stroke="#555" stroke-width="0.9" />
<line x1="644.65" y1="267.00" x2="648.65" y2="267.00" stroke="#555" stroke-width="0.9" />
<rect x="642.75" y="253.60" width="7.8" height="5.40" fill="#ff1a10" stroke="#222" stroke-width="0.6"/>
<line x1="642.75" y1="256.30" x2="650.55" y2="256.30" stroke="#111" stroke-width="0.8" />
<line x1="646.65" y1="308.40" x2="646.65" y2="311.80" stroke="#000" stroke-width="1.6" />
<text x="649.55" y="315.70" font-size="6.6" text-anchor="end" fill="#111" font-weight="normal" transform="rotate(-45 649.55 315.7)" stroke="#111" stroke-width="0.15">Cervix-C</text>
<line x1="652.50" y1="210.00" x2="652.50" y2="308.00" stroke="#444" stroke-width="0.9" stroke-dasharray="1 1"/>
<line x1="658.96" y1="248.40" x2="658.96" y2="255.60" stroke="#555" stroke-width="0.9" />
<line x1="656.96" y1="248.40" x2="660.96" y2="248.40" stroke="#555" stroke-width="0.9" />
<line x1="656.96" y1="255.60" x2="660.96" y2="255.60" stroke="#555" stroke-width="0.9" />
<rect x="655.06" y="251.20" width="7.8" height="2.40" fill="#1010ff" stroke="#222" stroke-width="0.6"/>
<line x1="655.06" y1="252.40" x2="662.86" y2="252.40" stroke="#111" stroke-width="0.8" />
<line x1="658.96" y1="308.40" x2="658.96" y2="311.80" stroke="#000" stroke-width="1.6" />
<text x="661.86" y="315.70" font-size="6.6" text-anchor="end" fill="#111" font-weight="normal" transform="rotate(-45 661.86 315.7)" stroke="#111" stroke-width="0.15">Head and Neck-N</text>
<line x1="670.96" y1="244.00" x2="670.96" y2="268.00" stroke="#555" stroke-width="0.9" />
<line x1="668.96" y1="244.00" x2="672.96" y2="244.00" stroke="#555" stroke-width="0.9" />
<line x1="668.96" y1="268.00" x2="672.96" y2="268.00" stroke="#555" stroke-width="0.9" />
<rect x="667.06" y="253.60" width="7.8" height="4.80" fill="#ff1a10" stroke="#222" stroke-width="0.6"/>
<line x1="667.06" y1="256.00" x2="674.86" y2="256.00" stroke="#111" stroke-width="0.8" />
<line x1="670.96" y1="308.40" x2="670.96" y2="311.80" stroke="#000" stroke-width="1.6" />
<text x="673.86" y="315.70" font-size="6.6" text-anchor="end" fill="#111" font-weight="normal" transform="rotate(-45 673.86 315.7)" stroke="#111" stroke-width="0.15">Head and Neck-C</text>
<line x1="264.60" y1="390.00" x2="264.60" y2="489.40" stroke="#000" stroke-width="1.9" />
<line x1="259.80" y1="488.60" x2="264.60" y2="488.60" stroke="#000" stroke-width="1.2" />
<text x="259.00" y="491.00" font-size="6.6" text-anchor="end" fill="#1c1c1c" font-weight="normal" stroke="#1c1c1c" stroke-width="0.18" >0</text>
<line x1="259.80" y1="464.20" x2="264.60" y2="464.20" stroke="#000" stroke-width="1.2" />
<text x="259.00" y="466.60" font-size="6.6" text-anchor="end" fill="#1c1c1c" font-weight="normal" stroke="#1c1c1c" stroke-width="0.18" >3</text>
<line x1="259.80" y1="439.80" x2="264.60" y2="439.80" stroke="#000" stroke-width="1.2" />
<text x="259.00" y="442.20" font-size="6.6" text-anchor="end" fill="#1c1c1c" font-weight="normal" stroke="#1c1c1c" stroke-width="0.18" >6</text>
<line x1="259.80" y1="415.40" x2="264.60" y2="415.40" stroke="#000" stroke-width="1.2" />
<text x="259.00" y="417.80" font-size="6.6" text-anchor="end" fill="#1c1c1c" font-weight="normal" stroke="#1c1c1c" stroke-width="0.18" >9</text>
<line x1="259.80" y1="391.00" x2="264.60" y2="391.00" stroke="#000" stroke-width="1.2" />
<text x="259.00" y="393.40" font-size="6.6" text-anchor="end" fill="#1c1c1c" font-weight="normal" stroke="#1c1c1c" stroke-width="0.18" >12</text>
<line x1="263.70" y1="488.60" x2="685.00" y2="488.60" stroke="#000" stroke-width="1.9" />
<text x="242.80" y="438.10" font-size="7.95" text-anchor="middle" fill="#1c1c1c" font-weight="normal" transform="rotate(-90 242.8 438.1)" stroke="#1c1c1c" stroke-width="0.18" >Expression[Log2(fpkm+1)]</text>
<text x="285.70" y="382.00" font-size="9.2" text-anchor="middle" fill="#1c1c1c" font-weight="normal" stroke="#1c1c1c" stroke-width="0.18" >BLCA</text>
<path d="M278.50,436.20 L278.78,436.52 L279.05,436.83 L279.32,437.15 L279.57,437.46 L279.82,437.78 L280.07,438.09 L280.32,438.41 L280.57,438.73 L280.82,439.04 L281.07,439.36 L281.32,439.67 L281.54,439.99 L281.68,440.30 L281.82,440.62 L281.96,440.94 L282.10,441.25 L282.24,441.57 L282.37,441.88 L282.51,442.20 L282.65,442.51 L282.79,442.83 L282.93,443.15 L282.93,443.46 L282.78,443.78 L282.64,444.09 L282.50,444.41 L282.35,444.72 L282.21,445.04 L282.07,445.36 L281.86,445.67 L281.62,445.99 L281.37,446.30 L281.12,446.62 L280.87,446.93 L280.62,447.25 L280.60,447.57 L280.80,447.88 L281.00,448.20 L281.20,448.51 L281.39,448.83 L281.58,449.14 L281.76,449.46 L281.93,449.78 L282.11,450.09 L282.28,450.41 L282.46,450.72 L282.39,451.04 L282.25,451.35 L282.10,451.67 L281.96,451.99 L281.82,452.30 L281.67,452.62 L281.53,452.93 L281.34,453.25 L281.15,453.56 L280.95,453.88 L280.75,454.20 L280.56,454.51 L280.36,454.83 L280.16,455.14 L279.96,455.46 L279.77,455.77 L279.57,456.09 L279.37,456.41 L279.17,456.72 L278.98,457.04 L278.78,457.35 L278.59,457.67 L278.39,457.98 L278.20,458.30 L275.80,458.30 L275.61,457.98 L275.41,457.67 L275.22,457.35 L275.02,457.04 L274.83,456.72 L274.63,456.41 L274.43,456.09 L274.23,455.77 L274.04,455.46 L273.84,455.14 L273.64,454.83 L273.44,454.51 L273.25,454.20 L273.05,453.88 L272.85,453.56 L272.66,453.25 L272.47,452.93 L272.33,452.62 L272.18,452.30 L272.04,451.99 L271.90,451.67 L271.75,451.35 L271.61,451.04 L271.54,450.72 L271.72,450.41 L271.89,450.09 L272.07,449.78 L272.24,449.46 L272.42,449.14 L272.61,448.83 L272.80,448.51 L273.00,448.20 L273.20,447.88 L273.40,447.57 L273.38,447.25 L273.13,446.93 L272.88,446.62 L272.63,446.30 L272.38,445.99 L272.14,445.67 L271.93,445.36 L271.79,445.04 L271.65,444.72 L271.50,444.41 L271.36,444.09 L271.22,443.78 L271.07,443.46 L271.07,443.15 L271.21,442.83 L271.35,442.51 L271.49,442.20 L271.63,441.88 L271.76,441.57 L271.90,441.25 L272.04,440.94 L272.18,440.62 L272.32,440.30 L272.46,439.99 L272.68,439.67 L272.93,439.36 L273.18,439.04 L273.43,438.73 L273.68,438.41 L273.93,438.09 L274.18,437.78 L274.43,437.46 L274.68,437.15 L274.95,436.83 L275.22,436.52 L275.50,436.20 Z" fill="#1010ff"/>
<path d="M296.70,422.00 L296.77,422.58 L296.85,423.17 L296.92,423.75 L296.99,424.34 L297.07,424.92 L297.14,425.51 L297.22,426.09 L297.31,426.67 L297.41,427.26 L297.51,427.84 L297.61,428.43 L297.71,429.01 L297.81,429.60 L297.91,430.18 L298.02,430.76 L298.23,431.35 L298.43,431.93 L298.64,432.52 L298.84,433.10 L299.05,433.69 L299.25,434.27 L299.46,434.85 L299.66,435.44 L299.87,436.02 L300.09,436.61 L300.34,437.19 L300.60,437.78 L300.85,438.36 L301.11,438.94 L301.36,439.53 L301.61,440.11 L301.87,440.70 L302.00,441.28 L302.00,441.87 L302.00,442.45 L302.00,443.03 L302.00,443.62 L302.00,444.20 L302.00,444.79 L302.00,445.37 L302.00,445.96 L302.00,446.54 L302.00,447.12 L302.00,447.71 L301.86,448.29 L301.66,448.88 L301.46,449.46 L301.26,450.05 L301.06,450.63 L300.86,451.21 L300.66,451.80 L300.45,452.38 L300.25,452.97 L300.05,453.55 L299.81,454.14 L299.56,454.72 L299.30,455.30 L299.05,455.89 L298.79,456.47 L298.54,457.06 L298.29,457.64 L298.03,458.23 L297.70,458.81 L297.36,459.39 L297.01,459.98 L296.94,460.56 L296.88,461.15 L296.82,461.73 L296.76,462.32 L296.70,462.90 L295.30,462.90 L295.24,462.32 L295.18,461.73 L295.12,461.15 L295.06,460.56 L294.99,459.98 L294.64,459.39 L294.30,458.81 L293.97,458.23 L293.71,457.64 L293.46,457.06 L293.21,456.47 L292.95,455.89 L292.70,455.30 L292.44,454.72 L292.19,454.14 L291.95,453.55 L291.75,452.97 L291.55,452.38 L291.34,451.80 L291.14,451.21 L290.94,450.63 L290.74,450.05 L290.54,449.46 L290.34,448.88 L290.14,448.29 L290.00,447.71 L290.00,447.12 L290.00,446.54 L290.00,445.96 L290.00,445.37 L290.00,444.79 L290.00,444.20 L290.00,443.62 L290.00,443.03 L290.00,442.45 L290.00,441.87 L290.00,441.28 L290.13,440.70 L290.39,440.11 L290.64,439.53 L290.89,438.94 L291.15,438.36 L291.40,437.78 L291.66,437.19 L291.91,436.61 L292.13,436.02 L292.34,435.44 L292.54,434.85 L292.75,434.27 L292.95,433.69 L293.16,433.10 L293.36,432.52 L293.57,431.93 L293.77,431.35 L293.98,430.76 L294.09,430.18 L294.19,429.60 L294.29,429.01 L294.39,428.43 L294.49,427.84 L294.59,427.26 L294.69,426.67 L294.78,426.09 L294.86,425.51 L294.93,424.92 L295.01,424.34 L295.08,423.75 L295.15,423.17 L295.23,422.58 L295.30,422.00 Z" fill="#ff1a10"/>
<line x1="273.50" y1="446.80" x2="280.50" y2="446.80" stroke="#000" stroke-width="1.2" />
<line x1="292.00" y1="443.90" x2="300.00" y2="443.90" stroke="#000" stroke-width="1.2" />
<line x1="277.00" y1="488.60" x2="277.00" y2="492.20" stroke="#000" stroke-width="1.3" />
<text x="279.20" y="497.30" font-size="6.4" text-anchor="end" fill="#111" font-weight="normal" transform="rotate(-45 279.2 497.3)" stroke="#111" stroke-width="0.15">Non-Tumor</text>
<line x1="296.00" y1="488.60" x2="296.00" y2="492.20" stroke="#000" stroke-width="1.3" />
<text x="298.20" y="497.30" font-size="6.4" text-anchor="end" fill="#111" font-weight="normal" transform="rotate(-45 298.2 497.3)" stroke="#111" stroke-width="0.15">Tumor</text>
<path d="M280.10,396.60 L280.10,394.55 M280.10,396.60 L282.05,395.97 M280.10,396.60 L281.30,398.26 M280.10,396.60 L278.90,398.26 M280.10,396.60 L278.15,395.97 " stroke="#111" stroke-width="1.15" stroke-linecap="round" fill="none"/>
<circle cx="280.10" cy="396.60" r="0.92" fill="#111"/>
<path d="M286.50,396.60 L286.50,394.55 M286.50,396.60 L288.45,395.97 M286.50,396.60 L287.70,398.26 M286.50,396.60 L285.30,398.26 M286.50,396.60 L284.55,395.97 " stroke="#111" stroke-width="1.15" stroke-linecap="round" fill="none"/>
<circle cx="286.50" cy="396.60" r="0.92" fill="#111"/>
<path d="M292.90,396.60 L292.90,394.55 M292.90,396.60 L294.85,395.97 M292.90,396.60 L294.10,398.26 M292.90,396.60 L291.70,398.26 M292.90,396.60 L290.95,395.97 " stroke="#111" stroke-width="1.15" stroke-linecap="round" fill="none"/>
<circle cx="292.90" cy="396.60" r="0.92" fill="#111"/>
<polyline points="277.0,406.2 277.0,402.2 296.0,402.2 296.0,406.2" fill="none" stroke="#999" stroke-width="0.9"/>
<line x1="306.50" y1="389.20" x2="306.50" y2="488.00" stroke="#444" stroke-width="0.9" stroke-dasharray="1 1"/>
<text x="325.00" y="382.00" font-size="9.2" text-anchor="middle" fill="#1c1c1c" font-weight="normal" stroke="#1c1c1c" stroke-width="0.18" >COAD</text>
<path d="M315.77,441.30 L315.81,441.57 L315.86,441.83 L315.90,442.10 L315.95,442.37 L315.94,442.64 L315.89,442.90 L315.84,443.17 L315.78,443.44 L315.73,443.70 L315.68,443.97 L315.62,444.24 L315.58,444.51 L315.82,444.77 L316.07,445.04 L316.32,445.31 L316.57,445.57 L316.82,445.84 L317.06,446.11 L317.27,446.38 L317.48,446.64 L317.69,446.91 L317.90,447.18 L318.11,447.44 L318.32,447.71 L318.52,447.98 L318.69,448.25 L318.85,448.51 L319.02,448.78 L319.19,449.05 L319.35,449.31 L319.52,449.58 L319.69,449.85 L319.85,450.12 L320.02,450.38 L320.19,450.65 L320.36,450.92 L320.43,451.18 L320.31,451.45 L320.18,451.72 L320.05,451.99 L319.93,452.25 L319.80,452.52 L319.68,452.79 L319.55,453.05 L319.43,453.32 L319.30,453.59 L319.18,453.86 L319.05,454.12 L318.94,454.39 L318.84,454.66 L318.75,454.92 L318.65,455.19 L318.56,455.46 L318.46,455.73 L318.37,455.99 L318.27,456.26 L318.17,456.53 L318.08,456.79 L317.98,457.06 L317.81,457.33 L317.63,457.60 L317.44,457.86 L317.26,458.13 L317.08,458.40 L316.89,458.66 L316.71,458.93 L316.52,459.20 L316.34,459.47 L316.15,459.73 L315.97,460.00 L312.97,460.00 L312.79,459.73 L312.60,459.47 L312.42,459.20 L312.23,458.93 L312.05,458.66 L311.86,458.40 L311.68,458.13 L311.50,457.86 L311.31,457.60 L311.13,457.33 L310.96,457.06 L310.86,456.79 L310.77,456.53 L310.67,456.26 L310.57,455.99 L310.48,455.73 L310.38,455.46 L310.29,455.19 L310.19,454.92 L310.10,454.66 L310.00,454.39 L309.89,454.12 L309.76,453.86 L309.64,453.59 L309.51,453.32 L309.39,453.05 L309.26,452.79 L309.14,452.52 L309.01,452.25 L308.89,451.99 L308.76,451.72 L308.63,451.45 L308.51,451.18 L308.58,450.92 L308.75,450.65 L308.92,450.38 L309.09,450.12 L309.25,449.85 L309.42,449.58 L309.59,449.31 L309.75,449.05 L309.92,448.78 L310.09,448.51 L310.25,448.25 L310.42,447.98 L310.62,447.71 L310.83,447.44 L311.04,447.18 L311.25,446.91 L311.46,446.64 L311.67,446.38 L311.88,446.11 L312.12,445.84 L312.37,445.57 L312.62,445.31 L312.87,445.04 L313.12,444.77 L313.36,444.51 L313.32,444.24 L313.26,443.97 L313.21,443.70 L313.16,443.44 L313.10,443.17 L313.05,442.90 L313.00,442.64 L312.99,442.37 L313.04,442.10 L313.08,441.83 L313.13,441.57 L313.17,441.30 Z" fill="#1010ff"/>
<path d="M334.07,415.20 L334.09,415.87 L334.11,416.55 L334.14,417.22 L334.16,417.89 L334.18,418.56 L334.20,419.24 L334.23,419.91 L334.25,420.58 L334.27,421.26 L334.29,421.93 L334.32,422.60 L334.34,423.27 L334.36,423.95 L334.38,424.62 L334.41,425.29 L334.43,425.97 L334.45,426.64 L334.50,427.31 L334.67,427.98 L334.85,428.66 L335.02,429.33 L335.19,430.00 L335.37,430.68 L335.54,431.35 L335.72,432.02 L335.89,432.69 L336.17,433.37 L336.54,434.04 L336.90,434.71 L337.27,435.39 L337.63,436.06 L338.00,436.73 L338.36,437.40 L338.59,438.08 L338.76,438.75 L338.93,439.42 L339.09,440.10 L339.26,440.77 L339.43,441.44 L339.37,442.11 L339.24,442.79 L339.11,443.46 L338.98,444.13 L338.85,444.81 L338.72,445.48 L338.59,446.15 L338.46,446.82 L338.17,447.50 L337.87,448.17 L337.58,448.84 L337.29,449.52 L337.00,450.19 L336.70,450.86 L336.42,451.53 L336.19,452.21 L335.95,452.88 L335.71,453.55 L335.48,454.23 L335.24,454.90 L335.01,455.57 L334.77,456.24 L334.53,456.92 L334.43,457.59 L334.38,458.26 L334.33,458.94 L334.28,459.61 L334.23,460.28 L334.17,460.95 L334.12,461.63 L334.07,462.30 L332.87,462.30 L332.82,461.63 L332.77,460.95 L332.71,460.28 L332.66,459.61 L332.61,458.94 L332.56,458.26 L332.51,457.59 L332.41,456.92 L332.17,456.24 L331.93,455.57 L331.70,454.90 L331.46,454.23 L331.23,453.55 L330.99,452.88 L330.75,452.21 L330.52,451.53 L330.24,450.86 L329.94,450.19 L329.65,449.52 L329.36,448.84 L329.07,448.17 L328.77,447.50 L328.48,446.82 L328.35,446.15 L328.22,445.48 L328.09,444.81 L327.96,444.13 L327.83,443.46 L327.70,442.79 L327.57,442.11 L327.51,441.44 L327.68,440.77 L327.85,440.10 L328.01,439.42 L328.18,438.75 L328.35,438.08 L328.58,437.40 L328.94,436.73 L329.31,436.06 L329.67,435.39 L330.04,434.71 L330.40,434.04 L330.77,433.37 L331.05,432.69 L331.22,432.02 L331.40,431.35 L331.57,430.68 L331.75,430.00 L331.92,429.33 L332.09,428.66 L332.27,427.98 L332.44,427.31 L332.49,426.64 L332.51,425.97 L332.53,425.29 L332.56,424.62 L332.58,423.95 L332.60,423.27 L332.62,422.60 L332.65,421.93 L332.67,421.26 L332.69,420.58 L332.71,419.91 L332.74,419.24 L332.76,418.56 L332.78,417.89 L332.80,417.22 L332.83,416.55 L332.85,415.87 L332.87,415.20 Z" fill="#ff1a10"/>
<line x1="310.97" y1="451.10" x2="317.97" y2="451.10" stroke="#000" stroke-width="1.2" />
<line x1="329.47" y1="442.40" x2="337.47" y2="442.40" stroke="#000" stroke-width="1.2" />
<line x1="314.47" y1="488.60" x2="314.47" y2="492.20" stroke="#000" stroke-width="1.3" />
<text x="316.67" y="497.30" font-size="6.4" text-anchor="end" fill="#111" font-weight="normal" transform="rotate(-45 316.67 497.3)" stroke="#111" stroke-width="0.15">Non-Tumor</text>
<line x1="333.47" y1="488.60" x2="333.47" y2="492.20" stroke="#000" stroke-width="1.3" />
<text x="335.67" y="497.30" font-size="6.4" text-anchor="end" fill="#111" font-weight="normal" transform="rotate(-45 335.67 497.3)" stroke="#111" stroke-width="0.15">Tumor</text>
<path d="M317.57,396.60 L317.57,394.55 M317.57,396.60 L319.52,395.97 M317.57,396.60 L318.77,398.26 M317.57,396.60 L316.37,398.26 M317.57,396.60 L315.62,395.97 " stroke="#111" stroke-width="1.15" stroke-linecap="round" fill="none"/>
<circle cx="317.57" cy="396.60" r="0.92" fill="#111"/>
<path d="M323.97,396.60 L323.97,394.55 M323.97,396.60 L325.92,395.97 M323.97,396.60 L325.17,398.26 M323.97,396.60 L322.77,398.26 M323.97,396.60 L322.02,395.97 " stroke="#111" stroke-width="1.15" stroke-linecap="round" fill="none"/>
<circle cx="323.97" cy="396.60" r="0.92" fill="#111"/>
<path d="M330.37,396.60 L330.37,394.55 M330.37,396.60 L332.32,395.97 M330.37,396.60 L331.57,398.26 M330.37,396.60 L329.17,398.26 M330.37,396.60 L328.42,395.97 " stroke="#111" stroke-width="1.15" stroke-linecap="round" fill="none"/>
<circle cx="330.37" cy="396.60" r="0.92" fill="#111"/>
<polyline points="314.47,406.2 314.47,402.2 333.47,402.2 333.47,406.2" fill="none" stroke="#999" stroke-width="0.9"/>
<line x1="343.50" y1="389.20" x2="343.50" y2="488.00" stroke="#444" stroke-width="0.9" stroke-dasharray="1 1"/>
<text x="363.20" y="382.00" font-size="9.2" text-anchor="middle" fill="#1c1c1c" font-weight="normal" stroke="#1c1c1c" stroke-width="0.18" >GBM</text>
<path d="M353.44,458.00 L353.41,458.08 L353.38,458.17 L353.36,458.25 L353.33,458.33 L353.30,458.41 L353.27,458.50 L353.25,458.58 L353.22,458.66 L353.19,458.75 L353.16,458.83 L353.14,458.91 L353.11,458.99 L353.08,459.08 L353.05,459.16 L353.03,459.24 L353.00,459.33 L352.97,459.41 L352.94,459.49 L353.05,459.57 L353.18,459.66 L353.30,459.74 L353.42,459.82 L353.55,459.91 L353.67,459.99 L353.80,460.07 L353.92,460.15 L354.05,460.24 L354.17,460.32 L354.29,460.40 L354.42,460.49 L354.57,460.57 L354.73,460.65 L354.90,460.73 L355.06,460.82 L355.22,460.90 L355.38,460.98 L355.54,461.07 L355.70,461.15 L355.86,461.23 L356.02,461.31 L356.18,461.40 L356.35,461.48 L356.51,461.56 L356.67,461.65 L356.83,461.73 L356.99,461.81 L357.15,461.89 L357.31,461.98 L357.47,462.06 L357.63,462.14 L357.80,462.23 L357.94,462.31 L357.94,462.39 L357.94,462.47 L357.94,462.56 L357.94,462.64 L357.94,462.72 L357.94,462.81 L357.94,462.89 L357.94,462.97 L357.94,463.05 L357.94,463.14 L357.94,463.22 L357.94,463.30 L357.94,463.39 L357.94,463.47 L357.94,463.55 L357.94,463.63 L357.94,463.72 L357.94,463.80 L345.94,463.80 L345.94,463.72 L345.94,463.63 L345.94,463.55 L345.94,463.47 L345.94,463.39 L345.94,463.30 L345.94,463.22 L345.94,463.14 L345.94,463.05 L345.94,462.97 L345.94,462.89 L345.94,462.81 L345.94,462.72 L345.94,462.64 L345.94,462.56 L345.94,462.47 L345.94,462.39 L345.94,462.31 L346.08,462.23 L346.25,462.14 L346.41,462.06 L346.57,461.98 L346.73,461.89 L346.89,461.81 L347.05,461.73 L347.21,461.65 L347.37,461.56 L347.53,461.48 L347.70,461.40 L347.86,461.31 L348.02,461.23 L348.18,461.15 L348.34,461.07 L348.50,460.98 L348.66,460.90 L348.82,460.82 L348.98,460.73 L349.15,460.65 L349.31,460.57 L349.46,460.49 L349.59,460.40 L349.71,460.32 L349.83,460.24 L349.96,460.15 L350.08,460.07 L350.21,459.99 L350.33,459.91 L350.46,459.82 L350.58,459.74 L350.70,459.66 L350.83,459.57 L350.94,459.49 L350.91,459.41 L350.88,459.33 L350.85,459.24 L350.83,459.16 L350.80,459.08 L350.77,458.99 L350.74,458.91 L350.72,458.83 L350.69,458.75 L350.66,458.66 L350.63,458.58 L350.61,458.50 L350.58,458.41 L350.55,458.33 L350.52,458.25 L350.50,458.17 L350.47,458.08 L350.44,458.00 Z" fill="#1010ff"/>
<path d="M371.64,421.50 L371.65,422.10 L371.66,422.70 L371.68,423.30 L371.69,423.89 L371.70,424.49 L371.71,425.09 L371.72,425.69 L371.74,426.29 L371.75,426.89 L371.76,427.49 L371.77,428.08 L371.78,428.68 L371.80,429.28 L371.81,429.88 L371.82,430.48 L371.83,431.08 L371.84,431.68 L371.86,432.27 L371.87,432.87 L371.88,433.47 L371.89,434.07 L371.91,434.67 L371.92,435.27 L371.93,435.87 L371.95,436.46 L372.05,437.06 L372.16,437.66 L372.26,438.26 L372.36,438.86 L372.47,439.46 L372.57,440.06 L372.67,440.65 L372.78,441.25 L372.88,441.85 L373.05,442.45 L373.31,443.05 L373.57,443.65 L373.83,444.25 L374.09,444.84 L374.35,445.44 L374.61,446.04 L374.87,446.64 L375.13,447.24 L375.39,447.84 L375.65,448.44 L375.91,449.03 L376.17,449.63 L376.43,450.23 L376.69,450.83 L376.93,451.43 L376.67,452.03 L376.41,452.63 L376.15,453.22 L375.89,453.82 L375.63,454.42 L375.37,455.02 L375.11,455.62 L374.81,456.22 L374.46,456.82 L374.11,457.41 L373.76,458.01 L373.40,458.61 L373.05,459.21 L372.83,459.81 L372.66,460.41 L372.50,461.01 L372.33,461.60 L372.17,462.20 L372.00,462.80 L371.84,463.40 L370.04,463.40 L369.88,462.80 L369.71,462.20 L369.55,461.60 L369.38,461.01 L369.22,460.41 L369.05,459.81 L368.83,459.21 L368.48,458.61 L368.12,458.01 L367.77,457.41 L367.42,456.82 L367.07,456.22 L366.77,455.62 L366.51,455.02 L366.25,454.42 L365.99,453.82 L365.73,453.22 L365.47,452.63 L365.21,452.03 L364.95,451.43 L365.19,450.83 L365.45,450.23 L365.71,449.63 L365.97,449.03 L366.23,448.44 L366.49,447.84 L366.75,447.24 L367.01,446.64 L367.27,446.04 L367.53,445.44 L367.79,444.84 L368.05,444.25 L368.31,443.65 L368.57,443.05 L368.83,442.45 L369.00,441.85 L369.10,441.25 L369.21,440.65 L369.31,440.06 L369.41,439.46 L369.52,438.86 L369.62,438.26 L369.72,437.66 L369.83,437.06 L369.93,436.46 L369.95,435.87 L369.96,435.27 L369.97,434.67 L369.99,434.07 L370.00,433.47 L370.01,432.87 L370.02,432.27 L370.04,431.68 L370.05,431.08 L370.06,430.48 L370.07,429.88 L370.08,429.28 L370.10,428.68 L370.11,428.08 L370.12,427.49 L370.13,426.89 L370.14,426.29 L370.16,425.69 L370.17,425.09 L370.18,424.49 L370.19,423.89 L370.20,423.30 L370.22,422.70 L370.23,422.10 L370.24,421.50 Z" fill="#ff1a10"/>
<line x1="348.44" y1="462.80" x2="355.44" y2="462.80" stroke="#000" stroke-width="1.2" />
<line x1="366.94" y1="450.00" x2="374.94" y2="450.00" stroke="#000" stroke-width="1.2" />
<line x1="351.94" y1="488.60" x2="351.94" y2="492.20" stroke="#000" stroke-width="1.3" />
<text x="354.14" y="497.30" font-size="6.4" text-anchor="end" fill="#111" font-weight="normal" transform="rotate(-45 354.14 497.3)" stroke="#111" stroke-width="0.15">Non-Tumor</text>
<line x1="370.94" y1="488.60" x2="370.94" y2="492.20" stroke="#000" stroke-width="1.3" />
<text x="373.14" y="497.30" font-size="6.4" text-anchor="end" fill="#111" font-weight="normal" transform="rotate(-45 373.14 497.3)" stroke="#111" stroke-width="0.15">Tumor</text>
<path d="M355.04,396.60 L355.04,394.55 M355.04,396.60 L356.99,395.97 M355.04,396.60 L356.24,398.26 M355.04,396.60 L353.84,398.26 M355.04,396.60 L353.09,395.97 " stroke="#111" stroke-width="1.15" stroke-linecap="round" fill="none"/>
<circle cx="355.04" cy="396.60" r="0.92" fill="#111"/>
<path d="M361.44,396.60 L361.44,394.55 M361.44,396.60 L363.39,395.97 M361.44,396.60 L362.64,398.26 M361.44,396.60 L360.24,398.26 M361.44,396.60 L359.49,395.97 " stroke="#111" stroke-width="1.15" stroke-linecap="round" fill="none"/>
<circle cx="361.44" cy="396.60" r="0.92" fill="#111"/>
<path d="M367.84,396.60 L367.84,394.55 M367.84,396.60 L369.79,395.97 M367.84,396.60 L369.04,398.26 M367.84,396.60 L366.64,398.26 M367.84,396.60 L365.89,395.97 " stroke="#111" stroke-width="1.15" stroke-linecap="round" fill="none"/>
<circle cx="367.84" cy="396.60" r="0.92" fill="#111"/>
<polyline points="351.94,406.2 351.94,402.2 370.94,402.2 370.94,406.2" fill="none" stroke="#999" stroke-width="0.9"/>
<line x1="381.50" y1="389.20" x2="381.50" y2="488.00" stroke="#444" stroke-width="0.9" stroke-dasharray="1 1"/>
<text x="399.10" y="382.00" font-size="9.2" text-anchor="middle" fill="#1c1c1c" font-weight="normal" stroke="#1c1c1c" stroke-width="0.18" >KICH</text>
<path d="M390.91,440.10 L390.91,440.36 L390.91,440.62 L390.91,440.88 L390.91,441.14 L390.91,441.40 L390.87,441.66 L390.82,441.92 L390.76,442.18 L390.70,442.44 L390.64,442.70 L390.59,442.96 L390.53,443.22 L390.61,443.48 L390.75,443.74 L390.89,444.00 L391.03,444.26 L391.17,444.52 L391.31,444.78 L391.45,445.04 L391.60,445.30 L391.74,445.56 L391.88,445.82 L392.02,446.08 L392.16,446.34 L392.30,446.60 L392.45,446.86 L392.60,447.12 L392.75,447.38 L392.90,447.64 L393.06,447.90 L393.21,448.16 L393.36,448.42 L393.52,448.68 L393.67,448.94 L393.82,449.20 L393.97,449.46 L394.13,449.72 L394.28,449.98 L394.39,450.24 L394.25,450.50 L394.12,450.76 L393.99,451.02 L393.85,451.28 L393.72,451.54 L393.58,451.80 L393.45,452.06 L393.31,452.32 L393.18,452.58 L393.04,452.84 L392.91,453.10 L393.13,453.36 L393.36,453.62 L393.58,453.88 L393.81,454.14 L394.03,454.40 L394.25,454.66 L394.48,454.92 L394.70,455.18 L394.93,455.44 L395.15,455.70 L395.38,455.96 L395.26,456.22 L395.09,456.48 L394.92,456.74 L394.74,457.00 L394.57,457.26 L394.37,457.52 L393.88,457.78 L393.40,458.04 L392.91,458.30 L385.91,458.30 L385.42,458.04 L384.94,457.78 L384.45,457.52 L384.25,457.26 L384.08,457.00 L383.90,456.74 L383.73,456.48 L383.56,456.22 L383.44,455.96 L383.67,455.70 L383.89,455.44 L384.12,455.18 L384.34,454.92 L384.57,454.66 L384.79,454.40 L385.01,454.14 L385.24,453.88 L385.46,453.62 L385.69,453.36 L385.91,453.10 L385.78,452.84 L385.64,452.58 L385.51,452.32 L385.37,452.06 L385.24,451.80 L385.10,451.54 L384.97,451.28 L384.83,451.02 L384.70,450.76 L384.57,450.50 L384.43,450.24 L384.54,449.98 L384.69,449.72 L384.85,449.46 L385.00,449.20 L385.15,448.94 L385.30,448.68 L385.46,448.42 L385.61,448.16 L385.76,447.90 L385.92,447.64 L386.07,447.38 L386.22,447.12 L386.37,446.86 L386.52,446.60 L386.66,446.34 L386.80,446.08 L386.94,445.82 L387.08,445.56 L387.22,445.30 L387.37,445.04 L387.51,444.78 L387.65,444.52 L387.79,444.26 L387.93,444.00 L388.07,443.74 L388.21,443.48 L388.29,443.22 L388.23,442.96 L388.18,442.70 L388.12,442.44 L388.06,442.18 L388.00,441.92 L387.95,441.66 L387.91,441.40 L387.91,441.14 L387.91,440.88 L387.91,440.62 L387.91,440.36 L387.91,440.10 Z" fill="#1010ff"/>
<path d="M409.11,427.80 L409.12,428.37 L409.12,428.93 L409.13,429.50 L409.13,430.07 L409.14,430.64 L409.14,431.20 L409.15,431.77 L409.16,432.34 L409.16,432.90 L409.17,433.47 L409.17,434.04 L409.18,434.61 L409.18,435.17 L409.19,435.74 L409.19,436.31 L409.20,436.87 L409.21,437.44 L409.21,438.01 L409.22,438.58 L409.22,439.14 L409.23,439.71 L409.23,440.28 L409.24,440.84 L409.25,441.41 L409.25,441.98 L409.26,442.55 L409.26,443.11 L409.27,443.68 L409.27,444.25 L409.28,444.81 L409.28,445.38 L409.29,445.95 L409.30,446.52 L409.30,447.08 L409.31,447.65 L409.43,448.22 L409.65,448.78 L409.86,449.35 L410.08,449.92 L410.29,450.49 L410.58,451.05 L410.97,451.62 L411.36,452.19 L411.74,452.75 L412.18,453.32 L412.65,453.89 L413.12,454.46 L413.60,455.02 L414.07,455.59 L414.32,456.16 L413.98,456.72 L413.65,457.29 L413.32,457.86 L412.98,458.43 L412.65,458.99 L412.38,459.56 L412.25,460.13 L412.13,460.69 L412.01,461.26 L411.88,461.83 L411.76,462.40 L411.64,462.96 L411.51,463.53 L411.35,464.10 L411.01,464.66 L410.67,465.23 L410.33,465.80 L410.06,466.37 L409.84,466.93 L409.61,467.50 L407.21,467.50 L406.98,466.93 L406.76,466.37 L406.49,465.80 L406.15,465.23 L405.81,464.66 L405.47,464.10 L405.31,463.53 L405.18,462.96 L405.06,462.40 L404.94,461.83 L404.81,461.26 L404.69,460.69 L404.57,460.13 L404.44,459.56 L404.17,458.99 L403.84,458.43 L403.50,457.86 L403.17,457.29 L402.84,456.72 L402.50,456.16 L402.75,455.59 L403.22,455.02 L403.70,454.46 L404.17,453.89 L404.64,453.32 L405.08,452.75 L405.46,452.19 L405.85,451.62 L406.24,451.05 L406.53,450.49 L406.74,449.92 L406.96,449.35 L407.17,448.78 L407.39,448.22 L407.51,447.65 L407.52,447.08 L407.52,446.52 L407.53,445.95 L407.54,445.38 L407.54,444.81 L407.55,444.25 L407.55,443.68 L407.56,443.11 L407.56,442.55 L407.57,441.98 L407.57,441.41 L407.58,440.84 L407.59,440.28 L407.59,439.71 L407.60,439.14 L407.60,438.58 L407.61,438.01 L407.61,437.44 L407.62,436.87 L407.63,436.31 L407.63,435.74 L407.64,435.17 L407.64,434.61 L407.65,434.04 L407.65,433.47 L407.66,432.90 L407.66,432.34 L407.67,431.77 L407.68,431.20 L407.68,430.64 L407.69,430.07 L407.69,429.50 L407.70,428.93 L407.70,428.37 L407.71,427.80 Z" fill="#ff1a10"/>
<line x1="385.91" y1="453.40" x2="392.91" y2="453.40" stroke="#000" stroke-width="1.2" />
<line x1="404.41" y1="456.20" x2="412.41" y2="456.20" stroke="#000" stroke-width="1.2" />
<line x1="389.41" y1="488.60" x2="389.41" y2="492.20" stroke="#000" stroke-width="1.3" />
<text x="391.61" y="497.30" font-size="6.4" text-anchor="end" fill="#111" font-weight="normal" transform="rotate(-45 391.60999999999996 497.3)" stroke="#111" stroke-width="0.15">Non-Tumor</text>
<line x1="408.41" y1="488.60" x2="408.41" y2="492.20" stroke="#000" stroke-width="1.3" />
<text x="410.61" y="497.30" font-size="6.4" text-anchor="end" fill="#111" font-weight="normal" transform="rotate(-45 410.60999999999996 497.3)" stroke="#111" stroke-width="0.15">Tumor</text>
<path d="M395.71,396.60 L395.71,394.55 M395.71,396.60 L397.66,395.97 M395.71,396.60 L396.91,398.26 M395.71,396.60 L394.51,398.26 M395.71,396.60 L393.76,395.97 " stroke="#111" stroke-width="1.15" stroke-linecap="round" fill="none"/>
<circle cx="395.71" cy="396.60" r="0.92" fill="#111"/>
<path d="M402.11,396.60 L402.11,394.55 M402.11,396.60 L404.06,395.97 M402.11,396.60 L403.31,398.26 M402.11,396.60 L400.91,398.26 M402.11,396.60 L400.16,395.97 " stroke="#111" stroke-width="1.15" stroke-linecap="round" fill="none"/>
<circle cx="402.11" cy="396.60" r="0.92" fill="#111"/>
<polyline points="389.40999999999997,406.2 389.40999999999997,402.2 408.40999999999997,402.2 408.40999999999997,406.2" fill="none" stroke="#999" stroke-width="0.9"/>
<line x1="418.50" y1="389.20" x2="418.50" y2="488.00" stroke="#444" stroke-width="0.9" stroke-dasharray="1 1"/>
<text x="435.40" y="382.00" font-size="9.2" text-anchor="middle" fill="#1c1c1c" font-weight="normal" stroke="#1c1c1c" stroke-width="0.18" >KIRC</text>
<path d="M427.88,447.00 L427.94,447.23 L427.99,447.46 L428.05,447.69 L428.11,447.91 L428.17,448.14 L428.22,448.37 L428.28,448.60 L428.34,448.83 L428.39,449.06 L428.45,449.29 L428.51,449.51 L428.57,449.74 L428.62,449.97 L428.68,450.20 L428.74,450.43 L428.79,450.66 L428.85,450.89 L428.93,451.11 L429.03,451.34 L429.13,451.57 L429.23,451.80 L429.33,452.03 L429.43,452.26 L429.54,452.49 L429.64,452.71 L429.74,452.94 L429.84,453.17 L429.94,453.40 L430.04,453.63 L430.14,453.86 L430.24,454.09 L430.34,454.31 L430.48,454.54 L430.63,454.77 L430.79,455.00 L430.94,455.23 L431.09,455.46 L431.25,455.69 L431.40,455.91 L431.56,456.14 L431.71,456.37 L431.87,456.60 L432.02,456.83 L432.18,457.06 L432.33,457.29 L432.48,457.51 L432.64,457.74 L432.79,457.97 L432.79,458.20 L432.57,458.43 L432.36,458.66 L432.14,458.89 L431.93,459.11 L431.71,459.34 L431.50,459.57 L431.29,459.80 L431.07,460.03 L430.86,460.26 L430.64,460.49 L430.43,460.71 L430.21,460.94 L430.00,461.17 L429.79,461.40 L429.59,461.63 L429.39,461.86 L429.19,462.09 L428.99,462.31 L428.78,462.54 L428.58,462.77 L428.38,463.00 L425.38,463.00 L425.18,462.77 L424.98,462.54 L424.77,462.31 L424.57,462.09 L424.37,461.86 L424.17,461.63 L423.97,461.40 L423.76,461.17 L423.55,460.94 L423.33,460.71 L423.12,460.49 L422.90,460.26 L422.69,460.03 L422.47,459.80 L422.26,459.57 L422.05,459.34 L421.83,459.11 L421.62,458.89 L421.40,458.66 L421.19,458.43 L420.97,458.20 L420.97,457.97 L421.12,457.74 L421.28,457.51 L421.43,457.29 L421.58,457.06 L421.74,456.83 L421.89,456.60 L422.05,456.37 L422.20,456.14 L422.36,455.91 L422.51,455.69 L422.67,455.46 L422.82,455.23 L422.97,455.00 L423.13,454.77 L423.28,454.54 L423.42,454.31 L423.52,454.09 L423.62,453.86 L423.72,453.63 L423.82,453.40 L423.92,453.17 L424.02,452.94 L424.12,452.71 L424.22,452.49 L424.33,452.26 L424.43,452.03 L424.53,451.80 L424.63,451.57 L424.73,451.34 L424.83,451.11 L424.91,450.89 L424.97,450.66 L425.02,450.43 L425.08,450.20 L425.14,449.97 L425.19,449.74 L425.25,449.51 L425.31,449.29 L425.37,449.06 L425.42,448.83 L425.48,448.60 L425.54,448.37 L425.59,448.14 L425.65,447.91 L425.71,447.69 L425.77,447.46 L425.82,447.23 L425.88,447.00 Z" fill="#1010ff"/>
<path d="M446.58,414.00 L446.60,414.73 L446.61,415.46 L446.63,416.19 L446.64,416.91 L446.66,417.64 L446.67,418.37 L446.69,419.10 L446.70,419.83 L446.72,420.56 L446.74,421.29 L446.75,422.01 L446.77,422.74 L446.78,423.47 L446.80,424.20 L446.81,424.93 L446.83,425.66 L446.85,426.39 L446.86,427.11 L446.88,427.84 L446.99,428.57 L447.12,429.30 L447.26,430.03 L447.40,430.76 L447.53,431.49 L447.67,432.21 L447.81,432.94 L447.94,433.67 L448.08,434.40 L448.22,435.13 L448.35,435.86 L448.70,436.59 L449.09,437.31 L449.49,438.04 L449.89,438.77 L450.28,439.50 L450.68,440.23 L450.98,440.96 L451.19,441.69 L451.40,442.41 L451.61,443.14 L451.81,443.87 L451.73,444.60 L451.52,445.33 L451.30,446.06 L451.09,446.79 L450.88,447.51 L450.62,448.24 L450.37,448.97 L450.12,449.70 L449.87,450.43 L449.62,451.16 L449.37,451.89 L449.12,452.61 L448.87,453.34 L448.66,454.07 L448.45,454.80 L448.23,455.53 L448.02,456.26 L447.81,456.99 L447.60,457.71 L447.39,458.44 L447.18,459.17 L446.97,459.90 L446.85,460.63 L446.81,461.36 L446.76,462.09 L446.72,462.81 L446.67,463.54 L446.63,464.27 L446.58,465.00 L445.18,465.00 L445.13,464.27 L445.09,463.54 L445.04,462.81 L445.00,462.09 L444.95,461.36 L444.91,460.63 L444.79,459.90 L444.58,459.17 L444.37,458.44 L444.16,457.71 L443.95,456.99 L443.74,456.26 L443.53,455.53 L443.31,454.80 L443.10,454.07 L442.89,453.34 L442.64,452.61 L442.39,451.89 L442.14,451.16 L441.89,450.43 L441.64,449.70 L441.39,448.97 L441.14,448.24 L440.88,447.51 L440.67,446.79 L440.46,446.06 L440.24,445.33 L440.03,444.60 L439.95,443.87 L440.15,443.14 L440.36,442.41 L440.57,441.69 L440.78,440.96 L441.08,440.23 L441.48,439.50 L441.87,438.77 L442.27,438.04 L442.67,437.31 L443.06,436.59 L443.41,435.86 L443.54,435.13 L443.68,434.40 L443.82,433.67 L443.95,432.94 L444.09,432.21 L444.23,431.49 L444.36,430.76 L444.50,430.03 L444.64,429.30 L444.77,428.57 L444.88,427.84 L444.90,427.11 L444.91,426.39 L444.93,425.66 L444.95,424.93 L444.96,424.20 L444.98,423.47 L444.99,422.74 L445.01,422.01 L445.02,421.29 L445.04,420.56 L445.06,419.83 L445.07,419.10 L445.09,418.37 L445.10,417.64 L445.12,416.91 L445.13,416.19 L445.15,415.46 L445.16,414.73 L445.18,414.00 Z" fill="#ff1a10"/>
<line x1="423.38" y1="457.30" x2="430.38" y2="457.30" stroke="#000" stroke-width="1.2" />
<line x1="441.88" y1="445.20" x2="449.88" y2="445.20" stroke="#000" stroke-width="1.2" />
<line x1="426.88" y1="488.60" x2="426.88" y2="492.20" stroke="#000" stroke-width="1.3" />
<text x="429.08" y="497.30" font-size="6.4" text-anchor="end" fill="#111" font-weight="normal" transform="rotate(-45 429.08 497.3)" stroke="#111" stroke-width="0.15">Non-Tumor</text>
<line x1="445.88" y1="488.60" x2="445.88" y2="492.20" stroke="#000" stroke-width="1.3" />
<text x="448.08" y="497.30" font-size="6.4" text-anchor="end" fill="#111" font-weight="normal" transform="rotate(-45 448.08 497.3)" stroke="#111" stroke-width="0.15">Tumor</text>
<path d="M429.98,396.60 L429.98,394.55 M429.98,396.60 L431.93,395.97 M429.98,396.60 L431.18,398.26 M429.98,396.60 L428.78,398.26 M429.98,396.60 L428.03,395.97 " stroke="#111" stroke-width="1.15" stroke-linecap="round" fill="none"/>
<circle cx="429.98" cy="396.60" r="0.92" fill="#111"/>
<path d="M436.38,396.60 L436.38,394.55 M436.38,396.60 L438.33,395.97 M436.38,396.60 L437.58,398.26 M436.38,396.60 L435.18,398.26 M436.38,396.60 L434.43,395.97 " stroke="#111" stroke-width="1.15" stroke-linecap="round" fill="none"/>
<circle cx="436.38" cy="396.60" r="0.92" fill="#111"/>
<path d="M442.78,396.60 L442.78,394.55 M442.78,396.60 L444.73,395.97 M442.78,396.60 L443.98,398.26 M442.78,396.60 L441.58,398.26 M442.78,396.60 L440.83,395.97 " stroke="#111" stroke-width="1.15" stroke-linecap="round" fill="none"/>
<circle cx="442.78" cy="396.60" r="0.92" fill="#111"/>
<polyline points="426.88,406.2 426.88,402.2 445.88,402.2 445.88,406.2" fill="none" stroke="#999" stroke-width="0.9"/>
<line x1="456.50" y1="389.20" x2="456.50" y2="488.00" stroke="#444" stroke-width="0.9" stroke-dasharray="1 1"/>
<text x="471.30" y="382.00" font-size="9.2" text-anchor="middle" fill="#1c1c1c" font-weight="normal" stroke="#1c1c1c" stroke-width="0.18" >KIRP</text>
<path d="M465.35,445.80 L465.38,446.07 L465.42,446.33 L465.45,446.60 L465.48,446.86 L465.52,447.13 L465.55,447.39 L465.58,447.66 L465.62,447.93 L465.65,448.19 L465.68,448.46 L465.72,448.72 L465.75,448.99 L465.78,449.25 L465.81,449.52 L465.85,449.79 L465.98,450.05 L466.12,450.32 L466.25,450.58 L466.39,450.85 L466.53,451.11 L466.67,451.38 L466.80,451.65 L466.94,451.91 L467.08,452.18 L467.22,452.44 L467.36,452.71 L467.59,452.97 L467.83,453.24 L468.06,453.51 L468.30,453.77 L468.53,454.04 L468.76,454.30 L469.00,454.57 L469.23,454.83 L469.47,455.10 L469.70,455.37 L469.94,455.63 L470.17,455.90 L470.30,456.16 L470.07,456.43 L469.84,456.69 L469.61,456.96 L469.39,457.23 L469.16,457.49 L468.93,457.76 L468.70,458.02 L468.47,458.29 L468.25,458.55 L468.02,458.82 L467.79,459.09 L467.56,459.35 L467.34,459.62 L467.25,459.88 L467.16,460.15 L467.07,460.41 L466.98,460.68 L466.89,460.95 L466.79,461.21 L466.70,461.48 L466.61,461.74 L466.52,462.01 L466.43,462.27 L466.33,462.54 L466.22,462.81 L466.11,463.07 L466.00,463.34 L465.89,463.60 L465.77,463.87 L465.66,464.13 L465.55,464.40 L463.15,464.40 L463.04,464.13 L462.93,463.87 L462.81,463.60 L462.70,463.34 L462.59,463.07 L462.48,462.81 L462.37,462.54 L462.27,462.27 L462.18,462.01 L462.09,461.74 L462.00,461.48 L461.91,461.21 L461.81,460.95 L461.72,460.68 L461.63,460.41 L461.54,460.15 L461.45,459.88 L461.36,459.62 L461.14,459.35 L460.91,459.09 L460.68,458.82 L460.45,458.55 L460.23,458.29 L460.00,458.02 L459.77,457.76 L459.54,457.49 L459.31,457.23 L459.09,456.96 L458.86,456.69 L458.63,456.43 L458.40,456.16 L458.53,455.90 L458.76,455.63 L459.00,455.37 L459.23,455.10 L459.47,454.83 L459.70,454.57 L459.94,454.30 L460.17,454.04 L460.40,453.77 L460.64,453.51 L460.87,453.24 L461.11,452.97 L461.34,452.71 L461.48,452.44 L461.62,452.18 L461.76,451.91 L461.90,451.65 L462.03,451.38 L462.17,451.11 L462.31,450.85 L462.45,450.58 L462.58,450.32 L462.72,450.05 L462.85,449.79 L462.89,449.52 L462.92,449.25 L462.95,448.99 L462.98,448.72 L463.02,448.46 L463.05,448.19 L463.08,447.93 L463.12,447.66 L463.15,447.39 L463.18,447.13 L463.22,446.86 L463.25,446.60 L463.28,446.33 L463.32,446.07 L463.35,445.80 Z" fill="#1010ff"/>
<path d="M484.25,428.60 L484.26,429.16 L484.28,429.73 L484.29,430.29 L484.30,430.85 L484.31,431.41 L484.33,431.98 L484.34,432.54 L484.35,433.10 L484.37,433.67 L484.38,434.23 L484.39,434.79 L484.40,435.35 L484.42,435.92 L484.43,436.48 L484.44,437.04 L484.45,437.61 L484.47,438.17 L484.48,438.73 L484.49,439.29 L484.51,439.86 L484.52,440.42 L484.53,440.98 L484.54,441.55 L484.69,442.11 L484.94,442.67 L485.20,443.23 L485.45,443.80 L485.70,444.36 L485.96,444.92 L486.21,445.49 L486.49,446.05 L486.82,446.61 L487.14,447.17 L487.47,447.74 L487.79,448.30 L488.12,448.86 L488.44,449.43 L488.77,449.99 L489.09,450.55 L489.33,451.11 L489.23,451.68 L489.14,452.24 L489.04,452.80 L488.94,453.37 L488.83,453.93 L488.48,454.49 L488.13,455.05 L487.78,455.62 L487.43,456.18 L487.07,456.74 L486.72,457.31 L486.37,457.87 L486.12,458.43 L485.87,458.99 L485.63,459.56 L485.38,460.12 L485.14,460.68 L484.90,461.25 L484.65,461.81 L484.41,462.37 L484.33,462.93 L484.30,463.50 L484.26,464.06 L484.23,464.62 L484.20,465.19 L484.17,465.75 L484.14,466.31 L484.11,466.87 L484.08,467.44 L484.05,468.00 L482.65,468.00 L482.62,467.44 L482.59,466.87 L482.56,466.31 L482.53,465.75 L482.50,465.19 L482.47,464.62 L482.44,464.06 L482.40,463.50 L482.37,462.93 L482.29,462.37 L482.05,461.81 L481.80,461.25 L481.56,460.68 L481.32,460.12 L481.07,459.56 L480.83,458.99 L480.58,458.43 L480.33,457.87 L479.98,457.31 L479.63,456.74 L479.28,456.18 L478.92,455.62 L478.57,455.05 L478.22,454.49 L477.87,453.93 L477.76,453.37 L477.66,452.80 L477.56,452.24 L477.47,451.68 L477.37,451.11 L477.61,450.55 L477.93,449.99 L478.26,449.43 L478.58,448.86 L478.91,448.30 L479.23,447.74 L479.56,447.17 L479.88,446.61 L480.21,446.05 L480.49,445.49 L480.74,444.92 L481.00,444.36 L481.25,443.80 L481.50,443.23 L481.76,442.67 L482.01,442.11 L482.16,441.55 L482.17,440.98 L482.18,440.42 L482.19,439.86 L482.21,439.29 L482.22,438.73 L482.23,438.17 L482.25,437.61 L482.26,437.04 L482.27,436.48 L482.28,435.92 L482.30,435.35 L482.31,434.79 L482.32,434.23 L482.33,433.67 L482.35,433.10 L482.36,432.54 L482.37,431.98 L482.39,431.41 L482.40,430.85 L482.41,430.29 L482.42,429.73 L482.44,429.16 L482.45,428.60 Z" fill="#ff1a10"/>
<line x1="460.85" y1="456.10" x2="467.85" y2="456.10" stroke="#000" stroke-width="1.2" />
<line x1="479.35" y1="451.30" x2="487.35" y2="451.30" stroke="#000" stroke-width="1.2" />
<line x1="464.35" y1="488.60" x2="464.35" y2="492.20" stroke="#000" stroke-width="1.3" />
<text x="466.55" y="497.30" font-size="6.4" text-anchor="end" fill="#111" font-weight="normal" transform="rotate(-45 466.55 497.3)" stroke="#111" stroke-width="0.15">Non-Tumor</text>
<line x1="483.35" y1="488.60" x2="483.35" y2="492.20" stroke="#000" stroke-width="1.3" />
<text x="485.55" y="497.30" font-size="6.4" text-anchor="end" fill="#111" font-weight="normal" transform="rotate(-45 485.55 497.3)" stroke="#111" stroke-width="0.15">Tumor</text>
<path d="M467.45,396.60 L467.45,394.55 M467.45,396.60 L469.40,395.97 M467.45,396.60 L468.65,398.26 M467.45,396.60 L466.25,398.26 M467.45,396.60 L465.50,395.97 " stroke="#111" stroke-width="1.15" stroke-linecap="round" fill="none"/>
<circle cx="467.45" cy="396.60" r="0.92" fill="#111"/>
<path d="M473.85,396.60 L473.85,394.55 M473.85,396.60 L475.80,395.97 M473.85,396.60 L475.05,398.26 M473.85,396.60 L472.65,398.26 M473.85,396.60 L471.90,395.97 " stroke="#111" stroke-width="1.15" stroke-linecap="round" fill="none"/>
<circle cx="473.85" cy="396.60" r="0.92" fill="#111"/>
<path d="M480.25,396.60 L480.25,394.55 M480.25,396.60 L482.20,395.97 M480.25,396.60 L481.45,398.26 M480.25,396.60 L479.05,398.26 M480.25,396.60 L478.30,395.97 " stroke="#111" stroke-width="1.15" stroke-linecap="round" fill="none"/>
<circle cx="480.25" cy="396.60" r="0.92" fill="#111"/>
<polyline points="464.35,406.2 464.35,402.2 483.35,402.2 483.35,406.2" fill="none" stroke="#999" stroke-width="0.9"/>
<line x1="493.50" y1="389.20" x2="493.50" y2="488.00" stroke="#444" stroke-width="0.9" stroke-dasharray="1 1"/>
<text x="508.60" y="382.00" font-size="9.2" text-anchor="middle" fill="#1c1c1c" font-weight="normal" stroke="#1c1c1c" stroke-width="0.18" >LUAD</text>
<path d="M502.82,437.20 L502.82,437.50 L502.82,437.81 L502.82,438.11 L502.82,438.41 L502.82,438.71 L502.82,439.02 L502.82,439.32 L502.82,439.62 L502.82,439.93 L502.82,440.23 L502.82,440.53 L502.87,440.83 L502.93,441.14 L503.00,441.44 L503.06,441.74 L503.12,442.05 L503.18,442.35 L503.25,442.65 L503.31,442.95 L503.50,443.26 L503.70,443.56 L503.91,443.86 L504.11,444.17 L504.32,444.47 L504.53,444.77 L504.73,445.07 L504.92,445.38 L505.09,445.68 L505.27,445.98 L505.44,446.29 L505.61,446.59 L505.79,446.89 L505.96,447.19 L506.13,447.50 L506.31,447.80 L506.48,448.10 L506.65,448.41 L506.82,448.71 L506.93,449.01 L507.03,449.31 L507.14,449.62 L507.24,449.92 L507.35,450.22 L507.45,450.53 L507.55,450.83 L507.66,451.13 L507.76,451.43 L507.76,451.74 L507.63,452.04 L507.49,452.34 L507.36,452.65 L507.23,452.95 L507.09,453.25 L506.96,453.55 L506.82,453.86 L506.69,454.16 L506.56,454.46 L506.42,454.77 L506.28,455.07 L506.08,455.37 L505.88,455.67 L505.68,455.98 L505.49,456.28 L505.29,456.58 L505.09,456.89 L504.89,457.19 L504.56,457.49 L504.15,457.79 L503.73,458.10 L503.32,458.40 L500.32,458.40 L499.91,458.10 L499.49,457.79 L499.08,457.49 L498.75,457.19 L498.55,456.89 L498.35,456.58 L498.15,456.28 L497.96,455.98 L497.76,455.67 L497.56,455.37 L497.36,455.07 L497.22,454.77 L497.08,454.46 L496.95,454.16 L496.82,453.86 L496.68,453.55 L496.55,453.25 L496.41,452.95 L496.28,452.65 L496.15,452.34 L496.01,452.04 L495.88,451.74 L495.88,451.43 L495.98,451.13 L496.09,450.83 L496.19,450.53 L496.29,450.22 L496.40,449.92 L496.50,449.62 L496.61,449.31 L496.71,449.01 L496.82,448.71 L496.99,448.41 L497.16,448.10 L497.33,447.80 L497.51,447.50 L497.68,447.19 L497.85,446.89 L498.03,446.59 L498.20,446.29 L498.37,445.98 L498.55,445.68 L498.72,445.38 L498.91,445.07 L499.11,444.77 L499.32,444.47 L499.53,444.17 L499.73,443.86 L499.94,443.56 L500.14,443.26 L500.33,442.95 L500.39,442.65 L500.46,442.35 L500.52,442.05 L500.58,441.74 L500.64,441.44 L500.71,441.14 L500.77,440.83 L500.82,440.53 L500.82,440.23 L500.82,439.93 L500.82,439.62 L500.82,439.32 L500.82,439.02 L500.82,438.71 L500.82,438.41 L500.82,438.11 L500.82,437.81 L500.82,437.50 L500.82,437.20 Z" fill="#1010ff"/>
<path d="M521.52,410.20 L521.53,411.01 L521.55,411.82 L521.56,412.63 L521.57,413.45 L521.59,414.26 L521.60,415.07 L521.62,415.88 L521.63,416.69 L521.64,417.50 L521.66,418.31 L521.67,419.13 L521.68,419.94 L521.70,420.75 L521.71,421.56 L521.73,422.37 L521.74,423.18 L521.75,423.99 L521.77,424.81 L521.78,425.62 L521.79,426.43 L521.81,427.24 L521.85,428.05 L522.33,428.86 L522.80,429.67 L523.28,430.49 L523.76,431.30 L524.06,432.11 L524.34,432.92 L524.62,433.73 L524.90,434.54 L525.18,435.35 L525.46,436.17 L525.74,436.98 L525.92,437.79 L526.07,438.60 L526.21,439.41 L526.35,440.22 L526.49,441.03 L526.64,441.85 L526.78,442.66 L526.74,443.47 L526.62,444.28 L526.50,445.09 L526.38,445.90 L526.27,446.71 L526.15,447.53 L526.03,448.34 L525.91,449.15 L525.75,449.96 L525.40,450.77 L525.05,451.58 L524.70,452.39 L524.35,453.21 L524.00,454.02 L523.65,454.83 L523.30,455.64 L522.94,456.45 L522.59,457.26 L522.23,458.07 L521.87,458.89 L521.79,459.70 L521.76,460.51 L521.73,461.32 L521.70,462.13 L521.67,462.94 L521.64,463.75 L521.61,464.57 L521.58,465.38 L521.55,466.19 L521.52,467.00 L520.12,467.00 L520.09,466.19 L520.06,465.38 L520.03,464.57 L520.00,463.75 L519.97,462.94 L519.94,462.13 L519.91,461.32 L519.88,460.51 L519.85,459.70 L519.77,458.89 L519.41,458.07 L519.05,457.26 L518.70,456.45 L518.34,455.64 L517.99,454.83 L517.64,454.02 L517.29,453.21 L516.94,452.39 L516.59,451.58 L516.24,450.77 L515.89,449.96 L515.73,449.15 L515.61,448.34 L515.49,447.53 L515.37,446.71 L515.26,445.90 L515.14,445.09 L515.02,444.28 L514.90,443.47 L514.86,442.66 L515.00,441.85 L515.15,441.03 L515.29,440.22 L515.43,439.41 L515.57,438.60 L515.72,437.79 L515.90,436.98 L516.18,436.17 L516.46,435.35 L516.74,434.54 L517.02,433.73 L517.30,432.92 L517.58,432.11 L517.88,431.30 L518.36,430.49 L518.84,429.67 L519.31,428.86 L519.79,428.05 L519.83,427.24 L519.85,426.43 L519.86,425.62 L519.87,424.81 L519.89,423.99 L519.90,423.18 L519.91,422.37 L519.93,421.56 L519.94,420.75 L519.96,419.94 L519.97,419.13 L519.98,418.31 L520.00,417.50 L520.01,416.69 L520.02,415.88 L520.04,415.07 L520.05,414.26 L520.07,413.45 L520.08,412.63 L520.09,411.82 L520.11,411.01 L520.12,410.20 Z" fill="#ff1a10"/>
<line x1="498.32" y1="451.30" x2="505.32" y2="451.30" stroke="#000" stroke-width="1.2" />
<line x1="516.82" y1="443.50" x2="524.82" y2="443.50" stroke="#000" stroke-width="1.2" />
<line x1="501.82" y1="488.60" x2="501.82" y2="492.20" stroke="#000" stroke-width="1.3" />
<text x="504.02" y="497.30" font-size="6.4" text-anchor="end" fill="#111" font-weight="normal" transform="rotate(-45 504.02 497.3)" stroke="#111" stroke-width="0.15">Non-Tumor</text>
<line x1="520.82" y1="488.60" x2="520.82" y2="492.20" stroke="#000" stroke-width="1.3" />
<text x="523.02" y="497.30" font-size="6.4" text-anchor="end" fill="#111" font-weight="normal" transform="rotate(-45 523.02 497.3)" stroke="#111" stroke-width="0.15">Tumor</text>
<path d="M504.92,396.60 L504.92,394.55 M504.92,396.60 L506.87,395.97 M504.92,396.60 L506.12,398.26 M504.92,396.60 L503.72,398.26 M504.92,396.60 L502.97,395.97 " stroke="#111" stroke-width="1.15" stroke-linecap="round" fill="none"/>
<circle cx="504.92" cy="396.60" r="0.92" fill="#111"/>
<path d="M511.32,396.60 L511.32,394.55 M511.32,396.60 L513.27,395.97 M511.32,396.60 L512.52,398.26 M511.32,396.60 L510.12,398.26 M511.32,396.60 L509.37,395.97 " stroke="#111" stroke-width="1.15" stroke-linecap="round" fill="none"/>
<circle cx="511.32" cy="396.60" r="0.92" fill="#111"/>
<path d="M517.72,396.60 L517.72,394.55 M517.72,396.60 L519.67,395.97 M517.72,396.60 L518.92,398.26 M517.72,396.60 L516.52,398.26 M517.72,396.60 L515.77,395.97 " stroke="#111" stroke-width="1.15" stroke-linecap="round" fill="none"/>
<circle cx="517.72" cy="396.60" r="0.92" fill="#111"/>
<polyline points="501.82,406.2 501.82,402.2 520.8199999999999,402.2 520.8199999999999,406.2" fill="none" stroke="#999" stroke-width="0.9"/>
<line x1="531.50" y1="389.20" x2="531.50" y2="488.00" stroke="#444" stroke-width="0.9" stroke-dasharray="1 1"/>
<text x="547.40" y="382.00" font-size="9.2" text-anchor="middle" fill="#1c1c1c" font-weight="normal" stroke="#1c1c1c" stroke-width="0.18" >LUSC</text>
<path d="M540.79,438.30 L540.79,438.62 L540.79,438.94 L540.79,439.26 L540.79,439.58 L540.79,439.90 L540.79,440.22 L540.79,440.54 L540.79,440.86 L540.79,441.18 L540.79,441.50 L540.79,441.82 L540.79,442.14 L540.79,442.46 L540.79,442.78 L540.86,443.10 L540.96,443.42 L541.06,443.74 L541.17,444.06 L541.27,444.38 L541.38,444.70 L541.48,445.02 L541.59,445.34 L541.69,445.66 L541.79,445.98 L541.90,446.30 L542.00,446.62 L542.11,446.94 L542.21,447.26 L542.36,447.58 L542.63,447.90 L542.91,448.22 L543.18,448.54 L543.46,448.86 L543.73,449.18 L544.00,449.50 L544.28,449.82 L544.55,450.14 L544.83,450.46 L545.10,450.78 L545.23,451.10 L545.04,451.42 L544.85,451.74 L544.67,452.06 L544.48,452.38 L544.29,452.70 L544.10,453.02 L543.91,453.34 L543.73,453.66 L543.54,453.98 L543.35,454.30 L543.18,454.62 L543.02,454.94 L542.86,455.26 L542.70,455.58 L542.54,455.90 L542.38,456.22 L542.22,456.54 L542.06,456.86 L541.90,457.18 L541.74,457.50 L541.58,457.82 L541.42,458.14 L541.27,458.46 L541.16,458.78 L541.05,459.10 L540.94,459.42 L540.82,459.74 L540.71,460.06 L540.60,460.38 L540.49,460.70 L538.09,460.70 L537.98,460.38 L537.87,460.06 L537.76,459.74 L537.64,459.42 L537.53,459.10 L537.42,458.78 L537.31,458.46 L537.16,458.14 L537.00,457.82 L536.84,457.50 L536.68,457.18 L536.52,456.86 L536.36,456.54 L536.20,456.22 L536.04,455.90 L535.88,455.58 L535.72,455.26 L535.56,454.94 L535.40,454.62 L535.23,454.30 L535.04,453.98 L534.85,453.66 L534.67,453.34 L534.48,453.02 L534.29,452.70 L534.10,452.38 L533.91,452.06 L533.73,451.74 L533.54,451.42 L533.35,451.10 L533.48,450.78 L533.75,450.46 L534.03,450.14 L534.30,449.82 L534.58,449.50 L534.85,449.18 L535.12,448.86 L535.40,448.54 L535.67,448.22 L535.95,447.90 L536.22,447.58 L536.37,447.26 L536.47,446.94 L536.58,446.62 L536.68,446.30 L536.79,445.98 L536.89,445.66 L536.99,445.34 L537.10,445.02 L537.20,444.70 L537.31,444.38 L537.41,444.06 L537.52,443.74 L537.62,443.42 L537.72,443.10 L537.79,442.78 L537.79,442.46 L537.79,442.14 L537.79,441.82 L537.79,441.50 L537.79,441.18 L537.79,440.86 L537.79,440.54 L537.79,440.22 L537.79,439.90 L537.79,439.58 L537.79,439.26 L537.79,438.94 L537.79,438.62 L537.79,438.30 Z" fill="#1010ff"/>
<path d="M559.19,420.50 L559.28,421.10 L559.37,421.70 L559.45,422.30 L559.54,422.90 L559.63,423.50 L559.72,424.10 L559.81,424.70 L559.89,425.30 L559.98,425.90 L560.07,426.50 L560.16,427.10 L560.25,427.70 L560.38,428.30 L560.55,428.90 L560.72,429.50 L560.90,430.10 L561.07,430.70 L561.25,431.30 L561.42,431.90 L561.59,432.50 L561.77,433.10 L561.94,433.70 L562.12,434.30 L562.29,434.90 L562.44,435.50 L562.59,436.10 L562.74,436.70 L562.89,437.30 L563.04,437.90 L563.19,438.50 L563.34,439.10 L563.49,439.70 L563.64,440.30 L563.79,440.90 L563.94,441.50 L564.09,442.10 L564.24,442.70 L564.19,443.30 L564.04,443.90 L563.89,444.50 L563.75,445.10 L563.60,445.70 L563.45,446.30 L563.30,446.90 L563.15,447.50 L563.01,448.10 L562.86,448.70 L562.71,449.30 L562.56,449.90 L562.41,450.50 L562.25,451.10 L562.04,451.70 L561.83,452.30 L561.62,452.90 L561.41,453.50 L561.20,454.10 L560.99,454.70 L560.78,455.30 L560.57,455.90 L560.36,456.50 L560.21,457.10 L560.10,457.70 L559.99,458.30 L559.87,458.90 L559.76,459.50 L559.65,460.10 L559.53,460.70 L559.42,461.30 L559.30,461.90 L559.19,462.50 L557.39,462.50 L557.28,461.90 L557.16,461.30 L557.05,460.70 L556.93,460.10 L556.82,459.50 L556.71,458.90 L556.59,458.30 L556.48,457.70 L556.37,457.10 L556.22,456.50 L556.01,455.90 L555.80,455.30 L555.59,454.70 L555.38,454.10 L555.17,453.50 L554.96,452.90 L554.75,452.30 L554.54,451.70 L554.33,451.10 L554.17,450.50 L554.02,449.90 L553.87,449.30 L553.72,448.70 L553.57,448.10 L553.43,447.50 L553.28,446.90 L553.13,446.30 L552.98,445.70 L552.83,445.10 L552.69,444.50 L552.54,443.90 L552.39,443.30 L552.34,442.70 L552.49,442.10 L552.64,441.50 L552.79,440.90 L552.94,440.30 L553.09,439.70 L553.24,439.10 L553.39,438.50 L553.54,437.90 L553.69,437.30 L553.84,436.70 L553.99,436.10 L554.14,435.50 L554.29,434.90 L554.46,434.30 L554.64,433.70 L554.81,433.10 L554.99,432.50 L555.16,431.90 L555.33,431.30 L555.51,430.70 L555.68,430.10 L555.86,429.50 L556.03,428.90 L556.20,428.30 L556.33,427.70 L556.42,427.10 L556.51,426.50 L556.60,425.90 L556.69,425.30 L556.77,424.70 L556.86,424.10 L556.95,423.50 L557.04,422.90 L557.13,422.30 L557.21,421.70 L557.30,421.10 L557.39,420.50 Z" fill="#ff1a10"/>
<line x1="535.79" y1="451.00" x2="542.79" y2="451.00" stroke="#000" stroke-width="1.2" />
<line x1="554.29" y1="444.30" x2="562.29" y2="444.30" stroke="#000" stroke-width="1.2" />
<line x1="539.29" y1="488.60" x2="539.29" y2="492.20" stroke="#000" stroke-width="1.3" />
<text x="541.49" y="497.30" font-size="6.4" text-anchor="end" fill="#111" font-weight="normal" transform="rotate(-45 541.49 497.3)" stroke="#111" stroke-width="0.15">Non-Tumor</text>
<line x1="558.29" y1="488.60" x2="558.29" y2="492.20" stroke="#000" stroke-width="1.3" />
<text x="560.49" y="497.30" font-size="6.4" text-anchor="end" fill="#111" font-weight="normal" transform="rotate(-45 560.49 497.3)" stroke="#111" stroke-width="0.15">Tumor</text>
<path d="M542.39,396.60 L542.39,394.55 M542.39,396.60 L544.34,395.97 M542.39,396.60 L543.59,398.26 M542.39,396.60 L541.19,398.26 M542.39,396.60 L540.44,395.97 " stroke="#111" stroke-width="1.15" stroke-linecap="round" fill="none"/>
<circle cx="542.39" cy="396.60" r="0.92" fill="#111"/>
<path d="M548.79,396.60 L548.79,394.55 M548.79,396.60 L550.74,395.97 M548.79,396.60 L549.99,398.26 M548.79,396.60 L547.59,398.26 M548.79,396.60 L546.84,395.97 " stroke="#111" stroke-width="1.15" stroke-linecap="round" fill="none"/>
<circle cx="548.79" cy="396.60" r="0.92" fill="#111"/>
<path d="M555.19,396.60 L555.19,394.55 M555.19,396.60 L557.14,395.97 M555.19,396.60 L556.39,398.26 M555.19,396.60 L553.99,398.26 M555.19,396.60 L553.24,395.97 " stroke="#111" stroke-width="1.15" stroke-linecap="round" fill="none"/>
<circle cx="555.19" cy="396.60" r="0.92" fill="#111"/>
<polyline points="539.29,406.2 539.29,402.2 558.29,402.2 558.29,406.2" fill="none" stroke="#999" stroke-width="0.9"/>
<line x1="568.50" y1="389.20" x2="568.50" y2="488.00" stroke="#444" stroke-width="0.9" stroke-dasharray="1 1"/>
<text x="586.50" y="382.00" font-size="9.2" text-anchor="middle" fill="#1c1c1c" font-weight="normal" stroke="#1c1c1c" stroke-width="0.18" >PRAD</text>
<path d="M577.96,430.30 L577.95,430.69 L577.94,431.09 L577.93,431.48 L577.92,431.88 L577.91,432.27 L577.90,432.67 L577.89,433.06 L577.88,433.45 L577.87,433.85 L577.86,434.24 L577.85,434.64 L577.84,435.03 L577.83,435.43 L577.82,435.82 L577.81,436.21 L577.80,436.61 L577.79,437.00 L577.78,437.40 L577.77,437.79 L577.76,438.19 L578.09,438.58 L578.55,438.97 L579.02,439.37 L579.48,439.76 L579.87,440.16 L580.16,440.55 L580.45,440.95 L580.74,441.34 L581.03,441.73 L581.32,442.13 L581.61,442.52 L581.89,442.92 L582.18,443.31 L582.47,443.71 L582.76,444.10 L582.76,444.49 L582.76,444.89 L582.76,445.28 L582.76,445.68 L582.76,446.07 L582.76,446.47 L582.76,446.86 L582.76,447.25 L582.68,447.65 L582.45,448.04 L582.22,448.44 L582.00,448.83 L581.77,449.23 L581.55,449.62 L581.32,450.01 L581.10,450.41 L580.87,450.80 L580.70,451.20 L580.57,451.59 L580.44,451.99 L580.31,452.38 L580.18,452.77 L580.05,453.17 L579.92,453.56 L579.80,453.96 L579.67,454.35 L579.54,454.75 L579.41,455.14 L579.28,455.53 L579.23,455.93 L579.20,456.32 L579.16,456.72 L579.13,457.11 L579.09,457.51 L579.06,457.90 L574.46,457.90 L574.43,457.51 L574.39,457.11 L574.36,456.72 L574.32,456.32 L574.29,455.93 L574.24,455.53 L574.11,455.14 L573.98,454.75 L573.85,454.35 L573.72,453.96 L573.60,453.56 L573.47,453.17 L573.34,452.77 L573.21,452.38 L573.08,451.99 L572.95,451.59 L572.82,451.20 L572.65,450.80 L572.42,450.41 L572.20,450.01 L571.97,449.62 L571.75,449.23 L571.52,448.83 L571.30,448.44 L571.07,448.04 L570.84,447.65 L570.76,447.25 L570.76,446.86 L570.76,446.47 L570.76,446.07 L570.76,445.68 L570.76,445.28 L570.76,444.89 L570.76,444.49 L570.76,444.10 L571.05,443.71 L571.34,443.31 L571.63,442.92 L571.91,442.52 L572.20,442.13 L572.49,441.73 L572.78,441.34 L573.07,440.95 L573.36,440.55 L573.65,440.16 L574.04,439.76 L574.50,439.37 L574.97,438.97 L575.43,438.58 L575.76,438.19 L575.75,437.79 L575.74,437.40 L575.73,437.00 L575.72,436.61 L575.71,436.21 L575.70,435.82 L575.69,435.43 L575.68,435.03 L575.67,434.64 L575.66,434.24 L575.65,433.85 L575.64,433.45 L575.63,433.06 L575.62,432.67 L575.61,432.27 L575.60,431.88 L575.59,431.48 L575.58,431.09 L575.57,430.69 L575.56,430.30 Z" fill="#1010ff"/>
<path d="M596.66,421.10 L596.77,421.67 L596.89,422.23 L597.00,422.80 L597.11,423.36 L597.23,423.93 L597.34,424.49 L597.45,425.06 L597.57,425.63 L597.68,426.19 L597.79,426.76 L597.90,427.32 L598.02,427.89 L598.13,428.45 L598.24,429.02 L598.45,429.59 L598.67,430.15 L598.89,430.72 L599.11,431.28 L599.33,431.85 L599.55,432.41 L599.78,432.98 L600.00,433.55 L600.22,434.11 L600.44,434.68 L600.66,435.24 L600.83,435.81 L600.95,436.37 L601.08,436.94 L601.21,437.51 L601.33,438.07 L601.46,438.64 L601.58,439.20 L601.71,439.77 L601.63,440.33 L601.41,440.90 L601.20,441.47 L600.98,442.03 L600.76,442.60 L600.54,443.16 L600.33,443.73 L600.11,444.29 L599.89,444.86 L599.68,445.43 L599.49,445.99 L599.29,446.56 L599.10,447.12 L598.90,447.69 L598.71,448.25 L598.51,448.82 L598.32,449.39 L598.12,449.95 L597.93,450.52 L597.74,451.08 L597.62,451.65 L597.50,452.21 L597.37,452.78 L597.25,453.35 L597.13,453.91 L597.00,454.48 L596.88,455.04 L596.76,455.61 L596.73,456.17 L596.69,456.74 L596.66,457.31 L596.63,457.87 L596.59,458.44 L596.56,459.00 L596.53,459.57 L596.49,460.13 L596.46,460.70 L595.06,460.70 L595.03,460.13 L594.99,459.57 L594.96,459.00 L594.93,458.44 L594.89,457.87 L594.86,457.31 L594.83,456.74 L594.79,456.17 L594.76,455.61 L594.64,455.04 L594.52,454.48 L594.39,453.91 L594.27,453.35 L594.15,452.78 L594.02,452.21 L593.90,451.65 L593.78,451.08 L593.59,450.52 L593.40,449.95 L593.20,449.39 L593.01,448.82 L592.81,448.25 L592.62,447.69 L592.42,447.12 L592.23,446.56 L592.03,445.99 L591.84,445.43 L591.63,444.86 L591.41,444.29 L591.19,443.73 L590.98,443.16 L590.76,442.60 L590.54,442.03 L590.32,441.47 L590.11,440.90 L589.89,440.33 L589.81,439.77 L589.94,439.20 L590.06,438.64 L590.19,438.07 L590.31,437.51 L590.44,436.94 L590.57,436.37 L590.69,435.81 L590.86,435.24 L591.08,434.68 L591.30,434.11 L591.52,433.55 L591.74,432.98 L591.97,432.41 L592.19,431.85 L592.41,431.28 L592.63,430.72 L592.85,430.15 L593.07,429.59 L593.28,429.02 L593.39,428.45 L593.50,427.89 L593.62,427.32 L593.73,426.76 L593.84,426.19 L593.95,425.63 L594.07,425.06 L594.18,424.49 L594.29,423.93 L594.41,423.36 L594.52,422.80 L594.63,422.23 L594.75,421.67 L594.86,421.10 Z" fill="#ff1a10"/>
<line x1="573.26" y1="446.60" x2="580.26" y2="446.60" stroke="#000" stroke-width="1.2" />
<line x1="591.76" y1="440.40" x2="599.76" y2="440.40" stroke="#000" stroke-width="1.2" />
<line x1="576.76" y1="488.60" x2="576.76" y2="492.20" stroke="#000" stroke-width="1.3" />
<text x="578.96" y="497.30" font-size="6.4" text-anchor="end" fill="#111" font-weight="normal" transform="rotate(-45 578.96 497.3)" stroke="#111" stroke-width="0.15">Non-Tumor</text>
<line x1="595.76" y1="488.60" x2="595.76" y2="492.20" stroke="#000" stroke-width="1.3" />
<text x="597.96" y="497.30" font-size="6.4" text-anchor="end" fill="#111" font-weight="normal" transform="rotate(-45 597.96 497.3)" stroke="#111" stroke-width="0.15">Tumor</text>
<path d="M579.86,396.60 L579.86,394.55 M579.86,396.60 L581.81,395.97 M579.86,396.60 L581.06,398.26 M579.86,396.60 L578.66,398.26 M579.86,396.60 L577.91,395.97 " stroke="#111" stroke-width="1.15" stroke-linecap="round" fill="none"/>
<circle cx="579.86" cy="396.60" r="0.92" fill="#111"/>
<path d="M586.26,396.60 L586.26,394.55 M586.26,396.60 L588.21,395.97 M586.26,396.60 L587.46,398.26 M586.26,396.60 L585.06,398.26 M586.26,396.60 L584.31,395.97 " stroke="#111" stroke-width="1.15" stroke-linecap="round" fill="none"/>
<circle cx="586.26" cy="396.60" r="0.92" fill="#111"/>
<path d="M592.66,396.60 L592.66,394.55 M592.66,396.60 L594.61,395.97 M592.66,396.60 L593.86,398.26 M592.66,396.60 L591.46,398.26 M592.66,396.60 L590.71,395.97 " stroke="#111" stroke-width="1.15" stroke-linecap="round" fill="none"/>
<circle cx="592.66" cy="396.60" r="0.92" fill="#111"/>
<polyline points="576.76,406.2 576.76,402.2 595.76,402.2 595.76,406.2" fill="none" stroke="#999" stroke-width="0.9"/>
<line x1="606.50" y1="389.20" x2="606.50" y2="488.00" stroke="#444" stroke-width="0.9" stroke-dasharray="1 1"/>
<text x="625.50" y="382.00" font-size="9.2" text-anchor="middle" fill="#1c1c1c" font-weight="normal" stroke="#1c1c1c" stroke-width="0.18" >STAD</text>
<path d="M615.43,437.80 L615.42,438.11 L615.41,438.42 L615.40,438.73 L615.39,439.05 L615.38,439.36 L615.37,439.67 L615.36,439.98 L615.35,440.29 L615.34,440.60 L615.33,440.91 L615.32,441.23 L615.31,441.54 L615.30,441.85 L615.29,442.16 L615.28,442.47 L615.27,442.78 L615.26,443.09 L615.25,443.41 L615.24,443.72 L615.23,444.03 L615.33,444.34 L615.47,444.65 L615.61,444.96 L615.74,445.27 L615.88,445.59 L616.01,445.90 L616.15,446.21 L616.29,446.52 L616.45,446.83 L616.60,447.14 L616.76,447.45 L616.91,447.77 L617.07,448.08 L617.22,448.39 L617.38,448.70 L617.54,449.01 L617.69,449.32 L617.85,449.63 L618.00,449.95 L618.16,450.26 L618.31,450.57 L618.47,450.88 L618.63,451.19 L618.78,451.50 L618.94,451.81 L619.09,452.13 L619.25,452.44 L619.40,452.75 L619.56,453.06 L619.72,453.37 L619.87,453.68 L620.03,453.99 L620.18,454.31 L620.17,454.62 L620.08,454.93 L619.99,455.24 L619.90,455.55 L619.81,455.86 L619.72,456.17 L619.63,456.49 L619.55,456.80 L619.46,457.11 L619.37,457.42 L619.28,457.73 L619.06,458.04 L618.70,458.35 L618.33,458.67 L617.96,458.98 L617.60,459.29 L617.23,459.60 L611.23,459.60 L610.86,459.29 L610.50,458.98 L610.13,458.67 L609.76,458.35 L609.40,458.04 L609.18,457.73 L609.09,457.42 L609.00,457.11 L608.91,456.80 L608.83,456.49 L608.74,456.17 L608.65,455.86 L608.56,455.55 L608.47,455.24 L608.38,454.93 L608.29,454.62 L608.28,454.31 L608.43,453.99 L608.59,453.68 L608.74,453.37 L608.90,453.06 L609.06,452.75 L609.21,452.44 L609.37,452.13 L609.52,451.81 L609.68,451.50 L609.83,451.19 L609.99,450.88 L610.15,450.57 L610.30,450.26 L610.46,449.95 L610.61,449.63 L610.77,449.32 L610.92,449.01 L611.08,448.70 L611.24,448.39 L611.39,448.08 L611.55,447.77 L611.70,447.45 L611.86,447.14 L612.01,446.83 L612.17,446.52 L612.31,446.21 L612.45,445.90 L612.58,445.59 L612.72,445.27 L612.85,444.96 L612.99,444.65 L613.13,444.34 L613.23,444.03 L613.22,443.72 L613.21,443.41 L613.20,443.09 L613.19,442.78 L613.18,442.47 L613.17,442.16 L613.16,441.85 L613.15,441.54 L613.14,441.23 L613.13,440.91 L613.12,440.60 L613.11,440.29 L613.10,439.98 L613.09,439.67 L613.08,439.36 L613.07,439.05 L613.06,438.73 L613.05,438.42 L613.04,438.11 L613.03,437.80 Z" fill="#1010ff"/>
<path d="M633.93,417.10 L633.94,417.80 L633.96,418.50 L633.97,419.20 L633.98,419.89 L633.99,420.59 L634.01,421.29 L634.02,421.99 L634.03,422.69 L634.04,423.39 L634.06,424.09 L634.07,424.78 L634.08,425.48 L634.09,426.18 L634.11,426.88 L634.12,427.58 L634.13,428.28 L634.14,428.98 L634.16,429.67 L634.17,430.37 L634.18,431.07 L634.20,431.77 L634.21,432.47 L634.22,433.17 L634.29,433.87 L634.53,434.56 L634.77,435.26 L635.01,435.96 L635.25,436.66 L635.49,437.36 L635.73,438.06 L635.97,438.76 L636.21,439.45 L636.57,440.15 L636.94,440.85 L637.31,441.55 L637.68,442.25 L638.04,442.95 L638.41,443.65 L638.78,444.34 L639.15,445.04 L639.23,445.74 L639.23,446.44 L639.23,447.14 L639.23,447.84 L639.23,448.54 L639.23,449.23 L639.23,449.93 L639.23,450.63 L639.09,451.33 L638.78,452.03 L638.48,452.73 L638.18,453.43 L637.87,454.12 L637.57,454.82 L637.26,455.52 L636.96,456.22 L636.66,456.92 L636.35,457.62 L636.05,458.32 L635.75,459.01 L635.44,459.71 L635.18,460.41 L635.03,461.11 L634.87,461.81 L634.71,462.51 L634.56,463.21 L634.40,463.90 L634.24,464.60 L634.09,465.30 L633.93,466.00 L632.53,466.00 L632.37,465.30 L632.22,464.60 L632.06,463.90 L631.90,463.21 L631.75,462.51 L631.59,461.81 L631.43,461.11 L631.28,460.41 L631.02,459.71 L630.71,459.01 L630.41,458.32 L630.11,457.62 L629.80,456.92 L629.50,456.22 L629.20,455.52 L628.89,454.82 L628.59,454.12 L628.28,453.43 L627.98,452.73 L627.68,452.03 L627.37,451.33 L627.23,450.63 L627.23,449.93 L627.23,449.23 L627.23,448.54 L627.23,447.84 L627.23,447.14 L627.23,446.44 L627.23,445.74 L627.31,445.04 L627.68,444.34 L628.05,443.65 L628.42,442.95 L628.78,442.25 L629.15,441.55 L629.52,440.85 L629.89,440.15 L630.25,439.45 L630.49,438.76 L630.73,438.06 L630.97,437.36 L631.21,436.66 L631.45,435.96 L631.69,435.26 L631.93,434.56 L632.17,433.87 L632.24,433.17 L632.25,432.47 L632.26,431.77 L632.28,431.07 L632.29,430.37 L632.30,429.67 L632.32,428.98 L632.33,428.28 L632.34,427.58 L632.35,426.88 L632.37,426.18 L632.38,425.48 L632.39,424.78 L632.40,424.09 L632.42,423.39 L632.43,422.69 L632.44,421.99 L632.45,421.29 L632.47,420.59 L632.48,419.89 L632.49,419.20 L632.50,418.50 L632.52,417.80 L632.53,417.10 Z" fill="#ff1a10"/>
<line x1="610.73" y1="454.20" x2="617.73" y2="454.20" stroke="#000" stroke-width="1.2" />
<line x1="629.23" y1="449.30" x2="637.23" y2="449.30" stroke="#000" stroke-width="1.2" />
<line x1="614.23" y1="488.60" x2="614.23" y2="492.20" stroke="#000" stroke-width="1.3" />
<text x="616.43" y="497.30" font-size="6.4" text-anchor="end" fill="#111" font-weight="normal" transform="rotate(-45 616.4300000000001 497.3)" stroke="#111" stroke-width="0.15">Non-Tumor</text>
<line x1="633.23" y1="488.60" x2="633.23" y2="492.20" stroke="#000" stroke-width="1.3" />
<text x="635.43" y="497.30" font-size="6.4" text-anchor="end" fill="#111" font-weight="normal" transform="rotate(-45 635.4300000000001 497.3)" stroke="#111" stroke-width="0.15">Tumor</text>
<path d="M617.33,396.60 L617.33,394.55 M617.33,396.60 L619.28,395.97 M617.33,396.60 L618.53,398.26 M617.33,396.60 L616.13,398.26 M617.33,396.60 L615.38,395.97 " stroke="#111" stroke-width="1.15" stroke-linecap="round" fill="none"/>
<circle cx="617.33" cy="396.60" r="0.92" fill="#111"/>
<path d="M623.73,396.60 L623.73,394.55 M623.73,396.60 L625.68,395.97 M623.73,396.60 L624.93,398.26 M623.73,396.60 L622.53,398.26 M623.73,396.60 L621.78,395.97 " stroke="#111" stroke-width="1.15" stroke-linecap="round" fill="none"/>
<circle cx="623.73" cy="396.60" r="0.92" fill="#111"/>
<path d="M630.13,396.60 L630.13,394.55 M630.13,396.60 L632.08,395.97 M630.13,396.60 L631.33,398.26 M630.13,396.60 L628.93,398.26 M630.13,396.60 L628.18,395.97 " stroke="#111" stroke-width="1.15" stroke-linecap="round" fill="none"/>
<circle cx="630.13" cy="396.60" r="0.92" fill="#111"/>
<polyline points="614.23,406.2 614.23,402.2 633.23,402.2 633.23,406.2" fill="none" stroke="#999" stroke-width="0.9"/>
<line x1="643.50" y1="389.20" x2="643.50" y2="488.00" stroke="#444" stroke-width="0.9" stroke-dasharray="1 1"/>
<text x="664.30" y="382.00" font-size="9.2" text-anchor="middle" fill="#1c1c1c" font-weight="normal" stroke="#1c1c1c" stroke-width="0.18" >THCA</text>
<path d="M652.70,434.30 L652.70,434.64 L652.70,434.97 L652.70,435.31 L652.70,435.65 L652.70,435.99 L652.70,436.32 L652.70,436.66 L652.70,437.00 L652.70,437.33 L652.70,437.67 L652.70,438.01 L652.70,438.35 L652.70,438.68 L652.70,439.02 L652.70,439.36 L652.70,439.69 L652.70,440.03 L652.70,440.37 L652.70,440.71 L652.70,441.04 L652.70,441.38 L652.70,441.72 L652.70,442.05 L652.70,442.39 L652.70,442.73 L652.81,443.07 L653.03,443.40 L653.25,443.74 L653.47,444.08 L653.69,444.41 L653.91,444.75 L654.13,445.09 L654.47,445.43 L654.88,445.76 L655.29,446.10 L655.69,446.44 L656.10,446.77 L656.51,447.11 L656.91,447.45 L657.32,447.79 L657.69,448.12 L657.58,448.46 L657.46,448.80 L657.34,449.13 L657.23,449.47 L657.11,449.81 L656.99,450.15 L656.88,450.48 L656.76,450.82 L656.50,451.16 L656.06,451.49 L655.62,451.83 L655.18,452.17 L654.74,452.51 L654.30,452.84 L653.86,453.18 L653.67,453.52 L653.62,453.85 L653.56,454.19 L653.51,454.53 L653.46,454.87 L653.41,455.20 L653.36,455.54 L653.31,455.88 L653.26,456.21 L653.21,456.55 L653.15,456.89 L653.10,457.23 L653.05,457.56 L653.00,457.90 L650.40,457.90 L650.35,457.56 L650.30,457.23 L650.25,456.89 L650.19,456.55 L650.14,456.21 L650.09,455.88 L650.04,455.54 L649.99,455.20 L649.94,454.87 L649.89,454.53 L649.84,454.19 L649.78,453.85 L649.73,453.52 L649.54,453.18 L649.10,452.84 L648.66,452.51 L648.22,452.17 L647.78,451.83 L647.34,451.49 L646.90,451.16 L646.64,450.82 L646.52,450.48 L646.41,450.15 L646.29,449.81 L646.17,449.47 L646.06,449.13 L645.94,448.80 L645.82,448.46 L645.71,448.12 L646.08,447.79 L646.49,447.45 L646.89,447.11 L647.30,446.77 L647.71,446.44 L648.11,446.10 L648.52,445.76 L648.93,445.43 L649.27,445.09 L649.49,444.75 L649.71,444.41 L649.93,444.08 L650.15,443.74 L650.37,443.40 L650.59,443.07 L650.70,442.73 L650.70,442.39 L650.70,442.05 L650.70,441.72 L650.70,441.38 L650.70,441.04 L650.70,440.71 L650.70,440.37 L650.70,440.03 L650.70,439.69 L650.70,439.36 L650.70,439.02 L650.70,438.68 L650.70,438.35 L650.70,438.01 L650.70,437.67 L650.70,437.33 L650.70,437.00 L650.70,436.66 L650.70,436.32 L650.70,435.99 L650.70,435.65 L650.70,435.31 L650.70,434.97 L650.70,434.64 L650.70,434.30 Z" fill="#1010ff"/>
<path d="M671.40,421.10 L671.41,421.69 L671.43,422.28 L671.44,422.87 L671.46,423.47 L671.47,424.06 L671.48,424.65 L671.50,425.24 L671.51,425.83 L671.53,426.42 L671.54,427.01 L671.55,427.61 L671.57,428.20 L671.58,428.79 L671.60,429.38 L671.61,429.97 L671.63,430.56 L671.64,431.15 L671.65,431.75 L671.67,432.34 L671.68,432.93 L671.70,433.52 L671.83,434.11 L672.03,434.70 L672.22,435.29 L672.41,435.89 L672.61,436.48 L672.80,437.07 L672.99,437.66 L673.18,438.25 L673.48,438.84 L673.79,439.43 L674.09,440.03 L674.40,440.62 L674.70,441.21 L675.01,441.80 L675.32,442.39 L675.62,442.98 L675.93,443.57 L676.17,444.17 L675.91,444.76 L675.65,445.35 L675.39,445.94 L675.13,446.53 L674.87,447.12 L674.58,447.71 L674.26,448.31 L673.94,448.90 L673.62,449.49 L673.30,450.08 L672.98,450.67 L672.65,451.26 L672.33,451.85 L672.18,452.45 L672.15,453.04 L672.11,453.63 L672.08,454.22 L672.04,454.81 L672.01,455.40 L671.98,455.99 L671.94,456.59 L671.91,457.18 L671.87,457.77 L671.84,458.36 L671.80,458.95 L671.77,459.54 L671.74,460.13 L671.70,460.73 L671.67,461.32 L671.63,461.91 L671.60,462.50 L669.80,462.50 L669.77,461.91 L669.73,461.32 L669.70,460.73 L669.66,460.13 L669.63,459.54 L669.60,458.95 L669.56,458.36 L669.53,457.77 L669.49,457.18 L669.46,456.59 L669.42,455.99 L669.39,455.40 L669.36,454.81 L669.32,454.22 L669.29,453.63 L669.25,453.04 L669.22,452.45 L669.07,451.85 L668.75,451.26 L668.42,450.67 L668.10,450.08 L667.78,449.49 L667.46,448.90 L667.14,448.31 L666.82,447.71 L666.53,447.12 L666.27,446.53 L666.01,445.94 L665.75,445.35 L665.49,444.76 L665.23,444.17 L665.47,443.57 L665.78,442.98 L666.08,442.39 L666.39,441.80 L666.70,441.21 L667.00,440.62 L667.31,440.03 L667.61,439.43 L667.92,438.84 L668.22,438.25 L668.41,437.66 L668.60,437.07 L668.79,436.48 L668.99,435.89 L669.18,435.29 L669.37,434.70 L669.57,434.11 L669.70,433.52 L669.72,432.93 L669.73,432.34 L669.75,431.75 L669.76,431.15 L669.77,430.56 L669.79,429.97 L669.80,429.38 L669.82,428.79 L669.83,428.20 L669.85,427.61 L669.86,427.01 L669.87,426.42 L669.89,425.83 L669.90,425.24 L669.92,424.65 L669.93,424.06 L669.94,423.47 L669.96,422.87 L669.97,422.28 L669.99,421.69 L670.00,421.10 Z" fill="#ff1a10"/>
<line x1="648.20" y1="448.70" x2="655.20" y2="448.70" stroke="#000" stroke-width="1.2" />
<line x1="666.70" y1="443.50" x2="674.70" y2="443.50" stroke="#000" stroke-width="1.2" />
<line x1="651.70" y1="488.60" x2="651.70" y2="492.20" stroke="#000" stroke-width="1.3" />
<text x="653.90" y="497.30" font-size="6.4" text-anchor="end" fill="#111" font-weight="normal" transform="rotate(-45 653.9000000000001 497.3)" stroke="#111" stroke-width="0.15">Non-Tumor</text>
<line x1="670.70" y1="488.60" x2="670.70" y2="492.20" stroke="#000" stroke-width="1.3" />
<text x="672.90" y="497.30" font-size="6.4" text-anchor="end" fill="#111" font-weight="normal" transform="rotate(-45 672.9000000000001 497.3)" stroke="#111" stroke-width="0.15">Tumor</text>
<path d="M654.80,396.60 L654.80,394.55 M654.80,396.60 L656.75,395.97 M654.80,396.60 L656.00,398.26 M654.80,396.60 L653.60,398.26 M654.80,396.60 L652.85,395.97 " stroke="#111" stroke-width="1.15" stroke-linecap="round" fill="none"/>
<circle cx="654.80" cy="396.60" r="0.92" fill="#111"/>
<path d="M661.20,396.60 L661.20,394.55 M661.20,396.60 L663.15,395.97 M661.20,396.60 L662.40,398.26 M661.20,396.60 L660.00,398.26 M661.20,396.60 L659.25,395.97 " stroke="#111" stroke-width="1.15" stroke-linecap="round" fill="none"/>
<circle cx="661.20" cy="396.60" r="0.92" fill="#111"/>
<path d="M667.60,396.60 L667.60,394.55 M667.60,396.60 L669.55,395.97 M667.60,396.60 L668.80,398.26 M667.60,396.60 L666.40,398.26 M667.60,396.60 L665.65,395.97 " stroke="#111" stroke-width="1.15" stroke-linecap="round" fill="none"/>
<circle cx="667.60" cy="396.60" r="0.92" fill="#111"/>
<polyline points="651.7,406.2 651.7,402.2 670.7,402.2 670.7,406.2" fill="none" stroke="#999" stroke-width="0.9"/>
</svg></body></html>
